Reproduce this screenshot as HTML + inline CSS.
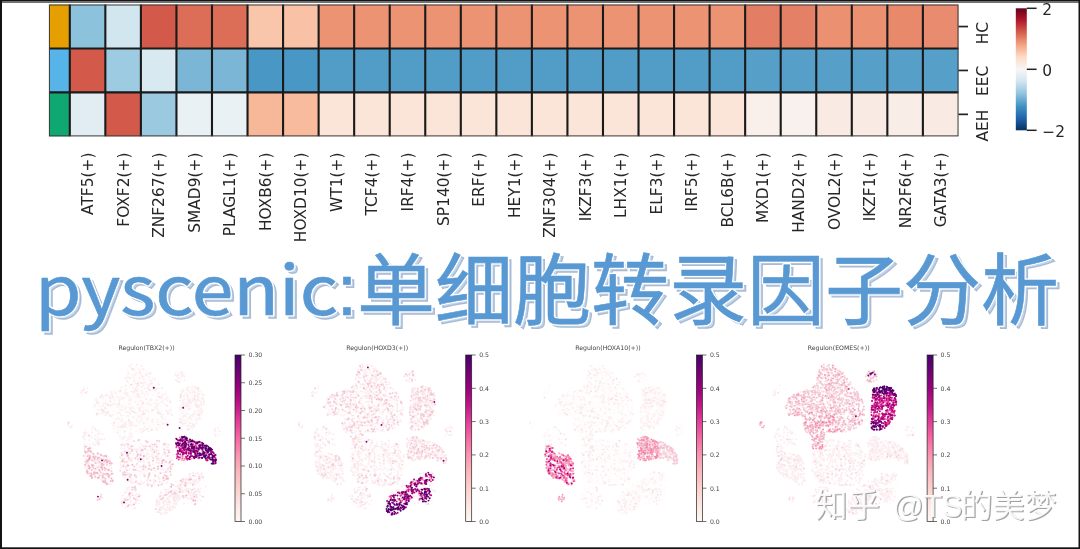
<!DOCTYPE html>
<html><head><meta charset="utf-8">
<style>
html,body{margin:0;padding:0;background:#fff;}
body{width:1080px;height:549px;position:relative;overflow:hidden;}
svg{position:absolute;left:0;top:0;}
.tk{font-family:"DejaVu Sans",sans-serif;font-size:15.4px;fill:#262626;}
.sm{font-family:"DejaVu Sans",sans-serif;font-size:6.2px;fill:#444;}
.frame{position:absolute;left:0;top:0;width:1076px;height:545px;border:2px solid #1a1a1a;}
</style></head><body>
<svg width="1080" height="549" viewBox="0 0 1080 549">
<defs><linearGradient id="cb" x1="0" y1="0" x2="0" y2="1"><stop offset="0.00" stop-color="#67001f"/><stop offset="0.10" stop-color="#b1182b"/><stop offset="0.20" stop-color="#d6604d"/><stop offset="0.30" stop-color="#f3a481"/><stop offset="0.40" stop-color="#fddbc7"/><stop offset="0.50" stop-color="#f7f6f6"/><stop offset="0.60" stop-color="#d1e5f0"/><stop offset="0.70" stop-color="#90c4dd"/><stop offset="0.80" stop-color="#4393c3"/><stop offset="0.90" stop-color="#2065ab"/><stop offset="1.00" stop-color="#053061"/></linearGradient></defs>
<rect x="49.0" y="4.60" width="20.80" height="43.90" fill="#e69f00"/>
<rect x="69.80" y="4.60" width="35.55" height="43.90" fill="#8dc2dc"/>
<rect x="105.34" y="4.60" width="35.55" height="43.90" fill="#d2e6f0"/>
<rect x="140.89" y="4.60" width="35.55" height="43.90" fill="#d35a4a"/>
<rect x="176.44" y="4.60" width="35.55" height="43.90" fill="#dc6e57"/>
<rect x="211.98" y="4.60" width="35.55" height="43.90" fill="#dc6e57"/>
<rect x="247.53" y="4.60" width="35.55" height="43.90" fill="#f9c6ac"/>
<rect x="283.07" y="4.60" width="35.55" height="43.90" fill="#f9c2a7"/>
<rect x="318.62" y="4.60" width="35.55" height="43.90" fill="#ec9374"/>
<rect x="354.16" y="4.60" width="35.55" height="43.90" fill="#ec9374"/>
<rect x="389.71" y="4.60" width="35.55" height="43.90" fill="#ec9374"/>
<rect x="425.25" y="4.60" width="35.55" height="43.90" fill="#ec9374"/>
<rect x="460.80" y="4.60" width="35.55" height="43.90" fill="#ec9374"/>
<rect x="496.34" y="4.60" width="35.55" height="43.90" fill="#ec9374"/>
<rect x="531.88" y="4.60" width="35.55" height="43.90" fill="#ec9374"/>
<rect x="567.43" y="4.60" width="35.55" height="43.90" fill="#ec9374"/>
<rect x="602.98" y="4.60" width="35.55" height="43.90" fill="#ec9374"/>
<rect x="638.52" y="4.60" width="35.55" height="43.90" fill="#ec9374"/>
<rect x="674.06" y="4.60" width="35.55" height="43.90" fill="#ec9374"/>
<rect x="709.61" y="4.60" width="35.55" height="43.90" fill="#ec9374"/>
<rect x="745.15" y="4.60" width="35.55" height="43.90" fill="#e37e64"/>
<rect x="780.70" y="4.60" width="35.55" height="43.90" fill="#e48066"/>
<rect x="816.25" y="4.60" width="35.55" height="43.90" fill="#eb9172"/>
<rect x="851.79" y="4.60" width="35.55" height="43.90" fill="#eb9172"/>
<rect x="887.34" y="4.60" width="35.55" height="43.90" fill="#e8896c"/>
<rect x="922.88" y="4.60" width="35.55" height="43.90" fill="#e98b6e"/>
<rect x="49.0" y="48.50" width="20.80" height="43.90" fill="#56b4e9"/>
<rect x="69.80" y="48.50" width="35.55" height="43.90" fill="#d35a4a"/>
<rect x="105.34" y="48.50" width="35.55" height="43.90" fill="#9dcbe1"/>
<rect x="140.89" y="48.50" width="35.55" height="43.90" fill="#d8e9f1"/>
<rect x="176.44" y="48.50" width="35.55" height="43.90" fill="#7bb6d6"/>
<rect x="211.98" y="48.50" width="35.55" height="43.90" fill="#7bb6d6"/>
<rect x="247.53" y="48.50" width="35.55" height="43.90" fill="#4997c5"/>
<rect x="283.07" y="48.50" width="35.55" height="43.90" fill="#4997c5"/>
<rect x="318.62" y="48.50" width="35.55" height="43.90" fill="#529dc8"/>
<rect x="354.16" y="48.50" width="35.55" height="43.90" fill="#529dc8"/>
<rect x="389.71" y="48.50" width="35.55" height="43.90" fill="#529dc8"/>
<rect x="425.25" y="48.50" width="35.55" height="43.90" fill="#529dc8"/>
<rect x="460.80" y="48.50" width="35.55" height="43.90" fill="#529dc8"/>
<rect x="496.34" y="48.50" width="35.55" height="43.90" fill="#529dc8"/>
<rect x="531.88" y="48.50" width="35.55" height="43.90" fill="#529dc8"/>
<rect x="567.43" y="48.50" width="35.55" height="43.90" fill="#529dc8"/>
<rect x="602.98" y="48.50" width="35.55" height="43.90" fill="#529dc8"/>
<rect x="638.52" y="48.50" width="35.55" height="43.90" fill="#529dc8"/>
<rect x="674.06" y="48.50" width="35.55" height="43.90" fill="#529dc8"/>
<rect x="709.61" y="48.50" width="35.55" height="43.90" fill="#529dc8"/>
<rect x="745.15" y="48.50" width="35.55" height="43.90" fill="#569fc9"/>
<rect x="780.70" y="48.50" width="35.55" height="43.90" fill="#569fc9"/>
<rect x="816.25" y="48.50" width="35.55" height="43.90" fill="#569fc9"/>
<rect x="851.79" y="48.50" width="35.55" height="43.90" fill="#569fc9"/>
<rect x="887.34" y="48.50" width="35.55" height="43.90" fill="#569fc9"/>
<rect x="922.88" y="48.50" width="35.55" height="43.90" fill="#569fc9"/>
<rect x="49.0" y="92.40" width="20.80" height="43.90" fill="#0fa870"/>
<rect x="69.80" y="92.40" width="35.55" height="43.90" fill="#e1edf3"/>
<rect x="105.34" y="92.40" width="35.55" height="43.90" fill="#d35a4a"/>
<rect x="140.89" y="92.40" width="35.55" height="43.90" fill="#9bc9e0"/>
<rect x="176.44" y="92.40" width="35.55" height="43.90" fill="#eaf1f5"/>
<rect x="211.98" y="92.40" width="35.55" height="43.90" fill="#eaf1f5"/>
<rect x="247.53" y="92.40" width="35.55" height="43.90" fill="#f7b799"/>
<rect x="283.07" y="92.40" width="35.55" height="43.90" fill="#f8bb9e"/>
<rect x="318.62" y="92.40" width="35.55" height="43.90" fill="#fbe5d8"/>
<rect x="354.16" y="92.40" width="35.55" height="43.90" fill="#fbe5d8"/>
<rect x="389.71" y="92.40" width="35.55" height="43.90" fill="#fbe5d8"/>
<rect x="425.25" y="92.40" width="35.55" height="43.90" fill="#fbe5d8"/>
<rect x="460.80" y="92.40" width="35.55" height="43.90" fill="#fbe5d8"/>
<rect x="496.34" y="92.40" width="35.55" height="43.90" fill="#fbe5d8"/>
<rect x="531.88" y="92.40" width="35.55" height="43.90" fill="#fbe5d8"/>
<rect x="567.43" y="92.40" width="35.55" height="43.90" fill="#fbe5d8"/>
<rect x="602.98" y="92.40" width="35.55" height="43.90" fill="#fbe5d8"/>
<rect x="638.52" y="92.40" width="35.55" height="43.90" fill="#fbe5d8"/>
<rect x="674.06" y="92.40" width="35.55" height="43.90" fill="#fbe5d8"/>
<rect x="709.61" y="92.40" width="35.55" height="43.90" fill="#fbe5d8"/>
<rect x="745.15" y="92.40" width="35.55" height="43.90" fill="#f9f0eb"/>
<rect x="780.70" y="92.40" width="35.55" height="43.90" fill="#f8f1ed"/>
<rect x="816.25" y="92.40" width="35.55" height="43.90" fill="#f9ebe3"/>
<rect x="851.79" y="92.40" width="35.55" height="43.90" fill="#f9ebe3"/>
<rect x="887.34" y="92.40" width="35.55" height="43.90" fill="#f9eee7"/>
<rect x="922.88" y="92.40" width="35.55" height="43.90" fill="#f9ebe3"/>
<path d="M69.80 4.6V136.30M105.34 4.6V136.30M140.89 4.6V136.30M176.44 4.6V136.30M211.98 4.6V136.30M247.53 4.6V136.30M283.07 4.6V136.30M318.62 4.6V136.30M354.16 4.6V136.30M389.71 4.6V136.30M425.25 4.6V136.30M460.80 4.6V136.30M496.34 4.6V136.30M531.88 4.6V136.30M567.43 4.6V136.30M602.98 4.6V136.30M638.52 4.6V136.30M674.06 4.6V136.30M709.61 4.6V136.30M745.15 4.6V136.30M780.70 4.6V136.30M816.25 4.6V136.30M851.79 4.6V136.30M887.34 4.6V136.30M922.88 4.6V136.30M49.0 48.50H958.42M49.0 92.40H958.42" stroke="#1a1a1a" stroke-width="2.1" fill="none"/>
<rect x="49.4" y="5.0" width="908.62" height="130.90" stroke="#3a3a3a" stroke-width="1" fill="none"/>
<line x1="958.42" y1="26.55" x2="968.02" y2="26.55" stroke="#222" stroke-width="1.7"/>
<text transform="translate(988.2 21.95) rotate(-90)" text-anchor="end" class="tk">HC</text>
<line x1="958.42" y1="70.45" x2="968.02" y2="70.45" stroke="#222" stroke-width="1.7"/>
<text transform="translate(988.2 65.85) rotate(-90)" text-anchor="end" class="tk">EEC</text>
<line x1="958.42" y1="114.35" x2="968.02" y2="114.35" stroke="#222" stroke-width="1.7"/>
<text transform="translate(988.2 109.75) rotate(-90)" text-anchor="end" class="tk">AEH</text>
<text transform="translate(93.07 152.6) rotate(-90)" text-anchor="end" class="tk">ATF5(+)</text>
<text transform="translate(128.62 152.6) rotate(-90)" text-anchor="end" class="tk">FOXF2(+)</text>
<text transform="translate(164.16 152.6) rotate(-90)" text-anchor="end" class="tk">ZNF267(+)</text>
<text transform="translate(199.71 152.6) rotate(-90)" text-anchor="end" class="tk">SMAD9(+)</text>
<text transform="translate(235.25 152.6) rotate(-90)" text-anchor="end" class="tk">PLAGL1(+)</text>
<text transform="translate(270.80 152.6) rotate(-90)" text-anchor="end" class="tk">HOXB6(+)</text>
<text transform="translate(306.34 152.6) rotate(-90)" text-anchor="end" class="tk">HOXD10(+)</text>
<text transform="translate(341.89 152.6) rotate(-90)" text-anchor="end" class="tk">WT1(+)</text>
<text transform="translate(377.43 152.6) rotate(-90)" text-anchor="end" class="tk">TCF4(+)</text>
<text transform="translate(412.98 152.6) rotate(-90)" text-anchor="end" class="tk">IRF4(+)</text>
<text transform="translate(448.52 152.6) rotate(-90)" text-anchor="end" class="tk">SP140(+)</text>
<text transform="translate(484.07 152.6) rotate(-90)" text-anchor="end" class="tk">ERF(+)</text>
<text transform="translate(519.61 152.6) rotate(-90)" text-anchor="end" class="tk">HEY1(+)</text>
<text transform="translate(555.16 152.6) rotate(-90)" text-anchor="end" class="tk">ZNF304(+)</text>
<text transform="translate(590.70 152.6) rotate(-90)" text-anchor="end" class="tk">IKZF3(+)</text>
<text transform="translate(626.25 152.6) rotate(-90)" text-anchor="end" class="tk">LHX1(+)</text>
<text transform="translate(661.79 152.6) rotate(-90)" text-anchor="end" class="tk">ELF3(+)</text>
<text transform="translate(697.34 152.6) rotate(-90)" text-anchor="end" class="tk">IRF5(+)</text>
<text transform="translate(732.88 152.6) rotate(-90)" text-anchor="end" class="tk">BCL6B(+)</text>
<text transform="translate(768.43 152.6) rotate(-90)" text-anchor="end" class="tk">MXD1(+)</text>
<text transform="translate(803.97 152.6) rotate(-90)" text-anchor="end" class="tk">HAND2(+)</text>
<text transform="translate(839.52 152.6) rotate(-90)" text-anchor="end" class="tk">OVOL2(+)</text>
<text transform="translate(875.06 152.6) rotate(-90)" text-anchor="end" class="tk">IKZF1(+)</text>
<text transform="translate(910.61 152.6) rotate(-90)" text-anchor="end" class="tk">NR2F6(+)</text>
<text transform="translate(946.15 152.6) rotate(-90)" text-anchor="end" class="tk">GATA3(+)</text>
<rect x="1015.8" y="8.3" width="11.0" height="122.0" fill="url(#cb)"/>
<line x1="1026.8" y1="8.30" x2="1036.60" y2="8.30" stroke="#222" stroke-width="1.5"/>
<text x="1042.3" y="15.10" class="tk">2</text>
<line x1="1026.8" y1="69.30" x2="1036.60" y2="69.30" stroke="#222" stroke-width="1.5"/>
<text x="1042.3" y="76.10" class="tk">0</text>
<line x1="1026.8" y1="130.30" x2="1036.60" y2="130.30" stroke="#222" stroke-width="1.5"/>
<text x="1042.3" y="137.10" class="tk">−2</text>
<g><defs><filter id="bl" x="-5%" y="-5%" width="110%" height="110%"><feGaussianBlur stdDeviation="0.45"/></filter></defs>
<g filter="url(#bl)"><g transform="translate(0.00 0) scale(0.2)" stroke-linecap="round" stroke-width="9.5" fill="none">
<path stroke="#fefafa" d="M974 2488h0M506 2348h0M806 2467h0M900 2006h0M684 1944h0M466 2035h0M741 1924h0M916 2060h0M687 2110h0M501 2330h0M682 1937h0M569 2140h0M823 2307h0M920 2424h0M916 2051h0M677 1846h0M987 2019h0M974 2489h0M722 2159h0M1015 1975h0M931 2050h0M751 2397h0M685 1876h0M917 1979h0M826 2118h0M548 2064h0M926 1965h0M961 2474h0M572 2053h0M493 2023h0M765 2273h0M730 1977h0M762 1911h0M742 2396h0M634 2491h0M704 2085h0M672 2413h0M733 2054h0M630 1901h0M426 2233h0M634 2038h0M806 2234h0M761 2058h0M623 2180h0M747 2086h0M678 2451h0M653 2043h0M708 2420h0M849 2475h0M868 1882h0M650 2042h0M621 2120h0M629 1894h0M739 1868h0M772 1898h0M819 2081h0M701 1906h0M690 2228h0M748 2123h0M691 2089h0M805 2127h0M929 2127h0M720 2237h0M497 2011h0M502 2488h0M947 2383h0M960 2482h0M673 1991h0M975 2447h0M851 2469h0M695 2376h0M732 2112h0M626 2376h0M533 2004h0M1013 2022h0M924 1975h0M963 1960h0M437 2175h0M880 2492h0M594 2068h0M996 2458h0M713 1987h0M802 2014h0M703 2303h0M629 1962h0M652 1989h0M449 2330h0M507 2046h0M694 2034h0M459 2194h0M766 2415h0M628 2516h0M891 1867h0M875 2537h0M617 2151h0M893 2448h0M907 1899h0M413 1975h0M618 2114h0M546 2296h0M511 1975h0M800 1967h0M971 2491h0M946 2392h0M674 2054h0M866 2544h0M569 1958h0M548 1997h0M685 2152h0M469 2301h0M999 2462h0M660 2163h0M896 2475h0M935 2039h0M802 2027h0M829 1977h0M915 2001h0M882 2471h0M519 2011h0M998 1956h0M738 2111h0M701 2120h0M755 2407h0M783 2507h0M967 2399h0M694 1991h0M810 2110h0M605 2143h0M827 1997h0M783 1925h0M718 2317h0M868 2495h0M913 2135h0M788 2107h0M688 2356h0M729 2221h0M686 2231h0M662 2091h0M693 2077h0M754 2091h0M935 2132h0M944 2499h0M644 1939h0M437 2184h0M655 2492h0M690 2067h0M541 2295h0M441 2299h0M909 2112h0M807 2261h0M898 1866h0M915 1972h0M941 2470h0M731 1858h0M941 2416h0M436 2335h0M640 1979h0M639 2145h0M498 2031h0M610 2202h0M545 2073h0M645 2355h0M841 2513h0M616 1964h0M836 1992h0M885 1883h0M482 2163h0M906 2431h0M739 2000h0M888 2477h0M1001 2023h0M628 2056h0M689 2478h0M995 2000h0M615 1973h0M567 2147h0M769 2019h0M968 2404h0M981 2073h0M636 2377h0M564 1990h0M695 2299h0M728 1916h0M1006 2024h0M904 2453h0M933 1982h0M652 2234h0M568 2003h0M1009 2060h0M710 2122h0M768 2250h0M849 2304h0M669 2114h0M713 2295h0M438 1927h0M637 1862h0M414 2177h0M749 2238h0M724 2133h0M834 2119h0M622 2308h0M735 2347h0M497 2168h0M1007 1974h0M988 2102h0M771 1998h0M445 2326h0M603 2134h0M446 2363h0M909 2466h0M611 1962h0M978 1967h0M771 2015h0M426 2150h0M1003 1950h0M472 2386h0M515 2363h0M610 2202h0M905 2134h0M707 2004h0M977 2048h0M760 2398h0M735 2118h0M840 2271h0M1015 1974h0M554 2016h0M874 2501h0M911 2085h0M818 2570h0M852 2107h0M653 1882h0M494 2160h0M832 2020h0M646 2384h0M829 1982h0M713 2101h0M836 2462h0M771 1939h0M993 1959h0M856 2461h0M821 2411h0M854 2016h0M524 1973h0M662 2347h0M477 2198h0M438 2252h0M924 2416h0M881 1876h0M729 2087h0M473 2352h0M971 2469h0M941 2454h0M989 2110h0M673 2383h0M652 2182h0M622 2010h0M705 2077h0M713 1946h0M1016 2398h0M534 2422h0M693 1985h0M798 2094h0M816 2547h0M663 2441h0M805 2110h0M689 1842h0M734 1871h0M842 2463h0M915 2132h0M989 2045h0M941 2132h0M750 1869h0M917 2084h0M599 2009h0M696 2041h0M608 2166h0M999 1965h0M622 2466h0M935 2068h0M540 2071h0M863 2471h0M941 2125h0M680 2344h0M716 2148h0M679 1925h0M928 2432h0M579 1961h0M464 2288h0M953 2460h0M419 2193h0M949 1993h0M531 2367h0M675 2450h0M636 2009h0M669 2512h0M831 2043h0M726 1865h0M679 1966h0M712 1843h0M547 2390h0M887 2492h0M644 2368h0M797 1969h0M713 2416h0M638 1848h0M906 1949h0M509 1982h0M725 2234h0M638 2337h0M665 2390h0M756 2208h0M444 2253h0M982 1942h0M706 2402h0M949 2472h0M872 2467h0M798 2004h0M791 2204h0M843 2331h0M640 2137h0M636 2215h0M978 2060h0M856 2492h0M628 2032h0M770 2248h0M719 1875h0M850 2070h0M813 2497h0M893 1868h0M651 2225h0M915 2115h0M1077 2178h0M789 2545h0M656 2058h0M1084 2159h0M985 2098h0M678 2334h0M684 2203h0M528 2073h0M972 1971h0M968 2022h0M615 2322h0M780 2555h0M556 1982h0M965 2121h0M706 1984h0M721 2042h0M783 2534h0M434 2144h0M693 2000h0M746 2271h0M762 1974h0M910 1856h0M647 1868h0M407 1975h0M832 2083h0M943 2457h0M601 2129h0M644 2232h0M591 2065h0M528 2308h0M649 2016h0M544 2293h0M606 2465h0M934 2111h0M1019 1981h0M963 1989h0M689 1866h0M921 2000h0M903 1888h0M633 2186h0M726 1850h0M411 1958h0M610 2497h0M562 1969h0M977 2023h0M981 2471h0M916 2450h0M891 1887h0M819 2121h0M810 1958h0M635 2274h0M806 2004h0M645 2165h0M636 2196h0M494 2059h0M498 2035h0M863 2487h0M958 2030h0M535 2043h0M721 1943h0M679 1921h0M841 2400h0M1002 2095h0M875 2514h0M932 2094h0M971 2448h0M654 2019h0M991 2468h0M508 2377h0M764 1887h0M1092 2177h0M971 1947h0M598 2147h0M630 1913h0M598 2112h0M700 2116h0M950 1939h0M601 1960h0M658 1853h0M655 2236h0M1011 2027h0M787 2552h0M755 1999h0M520 2072h0M725 1874h0M895 2412h0M661 1849h0M936 2405h0M592 2045h0M510 2173h0M609 1952h0M1000 1988h0M851 2348h0M824 2543h0M720 1967h0M607 2097h0M689 2055h0M535 1979h0M649 2085h0M1011 2451h0M423 2307h0M609 1986h0M957 1987h0M918 2418h0M640 1915h0M818 2558h0M884 1857h0M643 1909h0M643 1862h0M570 2159h0M975 2016h0M765 2319h0M990 1946h0M646 2089h0M816 2086h0M908 2131h0M937 2515h0M707 2088h0M951 2095h0M741 2233h0M995 2500h0M617 2506h0M965 2497h0M1096 2133h0M682 2154h0M632 2302h0M874 2520h0M623 2222h0M982 2381h0M724 2353h0M915 1876h0M808 2048h0M1009 2002h0M660 2019h0M588 2064h0M895 1894h0M817 2389h0M504 2359h0M799 1937h0M774 2268h0M727 2402h0M516 2357h0M723 2409h0M831 2100h0M673 2239h0M777 2132h0M709 2262h0M993 2065h0M903 1863h0M609 1933h0M972 1934h0M620 2193h0M925 2117h0M834 2377h0M623 2493h0M980 2443h0M624 1899h0M626 2036h0M816 2115h0M921 2415h0M416 1966h0M802 1997h0M1093 2177h0M796 2389h0M738 2063h0M830 2085h0M940 1961h0M655 2277h0M938 2070h0M1016 1995h0M801 2422h0M766 2122h0M803 2020h0M466 2370h0M606 2301h0M642 1966h0M482 1995h0M766 2017h0M527 2075h0M635 1857h0M731 2038h0M939 2056h0M614 2337h0M836 2237h0M672 2364h0M603 2185h0M865 2496h0M623 2192h0M945 2110h0M954 1935h0M940 2137h0M830 2520h0M503 2010h0M943 2369h0M967 1966h0M850 2002h0M727 2116h0M725 1898h0M982 1996h0M560 1996h0M507 2061h0M637 2201h0M911 2134h0M704 2215h0M630 2361h0M452 2295h0M779 1981h0M880 2501h0M522 2295h0M771 1978h0M617 2091h0M695 1907h0M576 2020h0M511 2220h0M659 2364h0M623 2239h0M855 2041h0M843 2525h0M861 2484h0M735 2396h0M704 2201h0M670 2112h0M794 2483h0M897 2452h0M990 1977h0M791 1970h0M604 2494h0M1087 2138h0M804 2574h0M453 2258h0M745 2013h0M808 2059h0M482 2316h0M490 2010h0M914 1882h0M486 2494h0M785 2344h0M753 2318h0M790 2420h0M928 1972h0M925 2444h0M721 2426h0M818 2479h0M754 2154h0M653 2534h0M652 2241h0M919 1977h0M995 2087h0M618 2119h0M626 2260h0M839 2542h0M933 2017h0M460 2211h0M507 1988h0M808 2128h0M978 2377h0M840 2058h0M445 2244h0M634 1982h0M988 2028h0M525 1974h0M972 1949h0M837 2287h0M766 2244h0M613 2078h0M911 2454h0M582 2149h0M751 2207h0M884 2437h0M742 2146h0M922 2445h0M690 2017h0M912 1942h0M997 1974h0M731 2226h0M705 1930h0M848 2100h0M756 2150h0M752 2010h0M666 1859h0M684 2025h0M927 2116h0M733 1978h0M961 2508h0M615 2058h0M721 1917h0M511 2339h0M698 2223h0M805 2042h0M411 1973h0M688 1920h0M1010 2069h0M861 2304h0M785 2383h0M719 1960h0M908 2109h0M788 2347h0M500 2215h0M591 2095h0M954 1934h0M987 2083h0M876 1901h0M661 1939h0M634 2448h0M802 2071h0M990 2016h0M532 2314h0M1107 2166h0M969 2096h0M676 2411h0M907 2118h0M725 2153h0M890 2506h0M980 2105h0M970 1967h0M753 1883h0M676 2078h0M761 2114h0M503 2296h0M888 2480h0M974 1976h0M523 2021h0M921 2032h0M702 1937h0M673 1845h0M645 2272h0M755 1990h0M652 2209h0M672 1853h0M704 2160h0M1001 2051h0M829 2473h0M968 2127h0M748 1955h0M702 1936h0M1019 1981h0M928 2098h0M720 2028h0M738 2250h0M614 2207h0M690 1907h0M811 2500h0M952 2086h0M984 1946h0M668 1892h0M929 2043h0M481 2391h0M600 2028h0M703 1827h0M439 2370h0M823 2230h0M715 1858h0M972 1956h0M825 2329h0M889 2481h0M564 2082h0M674 2125h0M613 2109h0M990 1951h0M923 1872h0M546 2324h0M661 1835h0M739 1970h0M461 2213h0M969 1993h0M348 2112h0M956 2418h0M754 2113h0M653 2111h0M766 2252h0M693 2025h0M796 2111h0M693 2038h0M627 2225h0M978 1950h0M622 2129h0M545 1977h0M995 2002h0M643 2176h0M569 1958h0M1104 2176h0M974 2013h0M643 1908h0M968 1966h0M647 2156h0M734 1855h0M745 2343h0M904 2482h0M976 2461h0M705 2056h0M708 2014h0M973 2052h0M902 2131h0M495 2014h0M585 1962h0M918 2492h0M880 2429h0M823 2501h0M962 2081h0M616 2000h0M956 1947h0M498 2368h0M691 2282h0M484 2004h0M421 2211h0M940 2026h0M817 2481h0M951 2484h0M721 2270h0M977 2005h0M1075 2136h0M445 2326h0M619 2129h0M656 2368h0M712 1975h0M818 2069h0M725 2015h0M625 2151h0M625 2383h0M936 2501h0M591 2154h0M704 2223h0M839 2252h0M782 2339h0M678 2207h0M996 2039h0M664 1982h0M889 1907h0M818 2229h0M634 2306h0M871 2490h0M946 1989h0M640 1864h0M822 1978h0M735 2045h0M705 2257h0M579 2100h0M978 2122h0M603 2039h0M863 2336h0M814 2050h0M710 1949h0M730 1897h0M633 2408h0M720 2107h0M903 2050h0M1020 2022h0M431 2206h0M787 2149h0M619 2163h0M634 2325h0M690 2198h0M896 2118h0M912 2148h0M342 2124h0M792 1986h0M810 2510h0M772 1953h0M719 2152h0M660 2055h0M983 1952h0M904 2440h0M922 1940h0M983 1978h0M582 2048h0M884 1907h0M653 1925h0M607 2087h0M991 1958h0M960 2071h0M479 2144h0M748 1925h0M921 2040h0M888 2448h0M733 2010h0M801 2059h0M843 2320h0M742 2129h0M777 2403h0M502 1984h0M606 2342h0M553 2036h0M685 2251h0M910 2060h0M792 2141h0M969 2476h0M844 2086h0M633 2394h0M612 2079h0M683 2110h0M470 2137h0M956 1990h0M697 1859h0M988 1998h0M905 2109h0M660 2106h0M925 2011h0M760 1954h0M1002 1954h0M710 2013h0M784 2419h0M686 2485h0M650 2401h0M888 2488h0M614 2021h0M720 2289h0M848 1997h0M578 2131h0M587 1987h0M679 2125h0M904 1973h0M652 2224h0M534 2054h0M717 2067h0M700 2282h0M794 2544h0M951 2005h0M830 1988h0M832 2314h0M992 2095h0M808 2364h0M597 2156h0M641 2125h0M780 1999h0M499 2383h0M816 2240h0M834 2233h0M628 2022h0M930 1986h0M663 2032h0M964 1943h0M891 2490h0M522 2404h0M969 1986h0M454 2323h0M674 1833h0M899 2428h0M946 2402h0M502 2396h0M915 1992h0M632 1930h0M748 1987h0M947 2451h0M881 1878h0M991 1942h0M432 2280h0M909 1942h0M905 2085h0M972 2451h0M527 2004h0M623 2334h0M832 2540h0M859 2075h0M980 2084h0M638 2089h0M1014 2077h0M533 2009h0M619 2117h0M786 2046h0M706 2145h0M817 2484h0M676 2333h0M845 2102h0M553 1987h0M784 2348h0M732 2063h0M577 2061h0M593 2057h0M638 2086h0M956 2135h0M641 1873h0M706 2011h0M667 1936h0M574 2138h0M721 2088h0M630 2053h0M860 2535h0M540 2384h0M812 2087h0M703 2009h0M907 1958h0M626 2182h0M531 1963h0M802 2327h0M748 2425h0M967 2120h0M598 2480h0M820 2139h0M662 2172h0M502 2372h0M618 1943h0M579 1960h0M796 2371h0M490 2017h0M469 2370h0M899 2038h0M655 2161h0M597 2043h0M493 2006h0M860 2302h0M926 2014h0M635 1851h0M1076 2147h0M762 1877h0M501 2385h0M679 2449h0M656 2508h0M877 2470h0M947 2463h0M945 2041h0M1008 2033h0M525 2286h0M606 2152h0M688 1925h0M809 2564h0M705 1995h0M684 2074h0M498 1984h0M738 1950h0M615 1953h0M458 2260h0M524 2341h0M678 2455h0M739 2279h0M701 1959h0M908 1908h0M614 2258h0M1000 2005h0M903 2435h0M810 2091h0M657 2044h0M627 2043h0M907 2466h0M1018 2002h0M1003 2078h0M809 2565h0M636 2114h0M558 2388h0M935 2085h0M818 2101h0M701 2380h0M644 2385h0M721 1983h0M919 1984h0M999 2095h0M905 1991h0M990 2049h0M630 2380h0M948 2047h0M703 1980h0M585 2023h0M427 2147h0M473 2209h0M475 2358h0M706 2038h0M550 2024h0M649 2528h0M628 2024h0M469 2363h0M958 2449h0M939 2011h0M675 1904h0M959 2071h0M488 2488h0M945 2024h0M629 2215h0M1017 1977h0M736 2147h0M657 2177h0M765 2137h0M595 2123h0M790 2517h0M432 2353h0M588 2100h0M500 2272h0M836 2372h0M739 1895h0M590 2094h0M1068 2150h0M953 2033h0M809 2500h0M750 2001h0M623 2257h0M818 2474h0M518 2065h0M626 2114h0M732 1977h0M638 1879h0M615 2228h0M492 2166h0M760 2299h0M750 2063h0M811 2548h0M736 1858h0M850 2102h0M828 1986h0M920 1979h0M548 2355h0M948 1958h0M844 2466h0M692 2155h0M1014 2386h0M735 2001h0M980 2031h0M497 2340h0M467 2304h0M771 2293h0M954 1955h0M860 2458h0M833 2036h0M1018 2010h0M906 2030h0M954 1942h0M1078 2134h0M928 2482h0M1002 2375h0M831 2475h0M675 1981h0M670 2070h0M847 2284h0M612 2287h0M634 1879h0M615 2048h0M564 2054h0M912 1945h0M636 2244h0M623 2079h0M911 2050h0M682 1949h0M483 2328h0M928 2049h0M835 2005h0M629 2059h0M1006 2058h0M702 2127h0M711 2031h0M451 2274h0M677 2091h0M715 2054h0M871 2461h0M770 2331h0M630 1873h0M652 2234h0M514 2299h0M696 1950h0M678 1881h0M840 2457h0M563 2113h0M728 1898h0M502 2164h0M606 2494h0M646 2240h0M560 2123h0M739 2083h0M800 2059h0M730 2259h0M527 2070h0M668 1926h0M802 2104h0M701 2100h0M954 1944h0M976 2005h0M626 2185h0M959 2027h0M624 1918h0M800 1939h0M624 1989h0M843 2517h0M701 1984h0M578 2099h0M834 2371h0M649 2386h0M649 1936h0M634 2285h0M565 1992h0M645 2054h0M942 2015h0M725 2103h0M1002 2076h0M768 2370h0M785 2007h0M736 1851h0M751 1956h0M684 2092h0M993 1988h0M534 2359h0M633 2214h0M923 2147h0M657 2023h0M899 2029h0M448 2176h0M633 1972h0M722 2314h0M778 2016h0M822 2076h0M772 2039h0M602 2234h0M821 2220h0M648 2065h0M934 2037h0M793 2295h0M988 2021h0M936 2103h0M610 2218h0M705 1985h0M695 1901h0M911 2019h0M986 1991h0M488 2328h0M924 1964h0M850 2507h0M714 2029h0M804 2281h0M656 2110h0M972 1946h0M559 1961h0M741 2083h0M797 2091h0M697 1850h0M663 2234h0M598 2177h0M912 1875h0M943 2099h0M921 1897h0M978 2113h0M897 2137h0M904 2488h0M1019 2024h0M561 2009h0M791 1911h0M940 2443h0M853 2261h0M706 2213h0M579 2136h0M566 2405h0M743 1997h0M637 2343h0M667 1877h0M915 2049h0M570 1958h0M915 2056h0M727 1996h0M525 2299h0M676 2275h0M685 1944h0M686 1938h0M518 2008h0M601 2001h0M978 2002h0M969 2053h0M808 2537h0M641 2191h0M487 1991h0M452 2280h0M599 1998h0M824 2004h0M634 2459h0M977 2115h0M675 1855h0M704 2083h0M957 2388h0M601 2350h0M713 2013h0M772 2545h0M475 2039h0M568 2059h0M789 2049h0M999 2399h0M749 1994h0M494 2284h0M735 2101h0M1021 2008h0M463 2281h0M748 1961h0M976 2112h0M845 1995h0M950 2089h0M839 2320h0M984 2068h0M528 1998h0M910 1960h0M956 2116h0M1019 1997h0M978 2404h0M549 2005h0M614 2028h0M532 1971h0M678 2333h0M690 1965h0M559 2007h0M699 1868h0M648 2127h0M828 1965h0M640 2320h0M957 2090h0M621 2027h0M609 2480h0M746 2000h0M898 2478h0M634 2109h0M802 2490h0M906 1889h0M817 2505h0M548 1978h0M974 2114h0M958 2417h0M543 2017h0M654 1976h0M672 2079h0M432 2220h0M890 2278h0M937 1991h0M659 1888h0M905 2088h0M509 1986h0M625 2032h0M954 2448h0M695 1946h0M571 2097h0M766 2366h0M923 1948h0M555 2076h0M584 2156h0M919 2032h0M807 2512h0M784 2276h0M594 2148h0M622 1927h0M419 2272h0M722 2361h0M635 2502h0M736 1926h0M997 1952h0M987 2073h0M672 1978h0M804 2096h0M974 2460h0M448 2372h0M761 2215h0M727 1961h0M733 1940h0M585 2010h0M904 2445h0M919 2112h0M760 2029h0M794 2139h0M988 2520h0M912 2036h0M996 2374h0M744 2071h0M657 2058h0M632 2139h0M778 2000h0M978 2053h0M722 2379h0M675 2215h0M800 2394h0M906 2487h0M576 1984h0M559 2048h0M651 2001h0M861 2502h0M694 2520h0M929 1973h0M946 2096h0M904 1988h0M983 2444h0M782 2143h0M972 2028h0M949 2036h0M685 2342h0M802 2425h0M686 1837h0M632 2514h0M641 2012h0M660 2486h0M911 1988h0M567 1967h0M731 2230h0M622 2228h0M1097 2125h0M745 1960h0M767 1931h0M726 2085h0M909 1976h0M876 2463h0M533 2024h0M649 2036h0M978 2027h0M568 2042h0M356 2137h0M906 2448h0M988 2484h0M784 1921h0M961 1939h0M906 2079h0M569 2110h0M709 1999h0M962 1975h0M522 2065h0M696 1915h0M802 2124h0M777 2404h0M515 1985h0M815 2366h0M980 2103h0M777 2092h0M548 2414h0M864 2308h0M709 2355h0M920 1980h0M756 1995h0M919 2126h0M904 1953h0M567 2149h0M930 1964h0M965 2010h0M642 1860h0M508 1997h0M649 1920h0M779 2000h0M742 2249h0M986 1997h0M919 2113h0M513 2077h0M911 2407h0M681 1889h0M978 2100h0M850 2059h0M440 2230h0M780 2427h0M1008 1976h0M648 1870h0M1001 2407h0M980 2487h0M786 2264h0M627 2104h0M815 2476h0M855 2334h0M762 1925h0M665 1909h0M815 2501h0M915 2080h0M615 2370h0M719 2046h0M687 1823h0M707 2108h0M517 2007h0M546 1977h0M695 2217h0M541 2285h0M772 2215h0M614 1989h0M647 2051h0M577 2162h0M502 2507h0M964 2109h0M974 1993h0M779 1923h0M924 1992h0M494 2294h0M790 2494h0M861 2302h0M718 2040h0M984 2118h0M626 2009h0M627 2174h0M771 2051h0M463 2135h0M959 2451h0M899 2040h0M828 2003h0M924 2045h0M603 2072h0M944 2095h0M692 1848h0M726 2247h0M819 2491h0M644 2007h0M939 1964h0M813 1978h0M558 1989h0M736 2275h0M594 1953h0M661 2413h0M670 2470h0M678 2387h0M489 2016h0M621 2339h0M985 1962h0M827 2537h0M476 2198h0M559 2343h0M567 2092h0M838 2075h0M1004 1973h0M527 2045h0M482 2380h0M500 2023h0M655 2010h0M805 2266h0M818 2265h0M543 2320h0M443 2181h0M818 1999h0M916 2044h0M930 1964h0M838 2110h0M632 2318h0M489 2197h0M766 1977h0M932 1957h0M506 2492h0M1004 1969h0M678 1980h0M717 2134h0M674 2159h0M700 2394h0M1022 2374h0M523 2395h0M774 2012h0M680 2443h0M643 2173h0M643 2245h0M629 2534h0M643 2267h0M729 2034h0M633 2108h0M969 1949h0M716 1855h0M687 2008h0M478 2012h0M647 2470h0M505 1973h0M434 2347h0M794 2238h0M650 1871h0M973 2055h0M773 2263h0M944 2128h0M736 1921h0M470 2042h0M955 2088h0M775 2270h0M817 2388h0M816 2498h0M744 2295h0M806 2395h0M647 2499h0M491 1996h0M879 1864h0M947 2369h0M817 1995h0M1015 1967h0M626 1927h0M819 1967h0M525 2288h0M1014 2361h0M591 2127h0M781 2040h0M906 2049h0M919 1998h0M803 2478h0M958 2005h0M691 1845h0M708 2390h0M503 2161h0M951 2368h0M651 2517h0M589 2130h0M540 2298h0M425 2205h0M968 2375h0M652 1850h0M645 2018h0M436 2220h0M833 2521h0M731 2122h0M912 2021h0M762 2014h0M636 2129h0M708 2334h0M830 2475h0M836 2493h0M671 1949h0M509 2273h0M584 1965h0M897 2452h0M972 2461h0M511 2390h0M860 2487h0M905 2033h0M664 1875h0M810 2033h0M671 2129h0M706 2098h0M767 2159h0M955 2076h0M617 2452h0M652 2415h0M829 2543h0M660 2086h0M677 2453h0M509 2028h0M681 2333h0M490 2031h0M632 2400h0M845 2392h0M682 2369h0M745 2384h0M582 2144h0M944 2015h0M851 2066h0M609 2037h0M897 2075h0M624 2194h0M738 2029h0M678 2017h0M830 2096h0M861 2048h0M995 2491h0M530 2389h0M591 2114h0M744 1933h0M972 2059h0M604 2161h0M644 2108h0M807 2028h0M855 2070h0M981 2021h0M959 1982h0M869 2286h0M871 2451h0M639 2037h0M1005 2021h0M576 2059h0M424 2265h0M1004 2038h0M851 2260h0M645 2543h0M660 2198h0M888 2456h0M841 2533h0M912 1997h0M958 2096h0M935 2000h0M761 2216h0M694 2286h0M731 2230h0M1002 2087h0M908 2093h0M951 2476h0M645 2512h0M947 2094h0M834 2294h0M991 1949h0M952 1964h0M583 2070h0M601 2124h0M649 2080h0M424 2256h0M740 2092h0M666 2063h0M460 2284h0M677 1879h0M653 2512h0M792 2107h0M640 2235h0M880 2491h0M594 1957h0M694 2266h0M654 2221h0M565 2142h0M863 2531h0M772 2413h0M811 2074h0M782 2233h0M1003 2058h0M902 2483h0M1013 2078h0M642 2207h0M579 2035h0M926 2064h0M812 1946h0M910 2128h0M613 1930h0M676 1904h0M619 2139h0M801 2349h0M457 2187h0M666 2252h0M790 2355h0M977 2071h0M531 2312h0M773 1971h0M690 2358h0M490 2391h0M591 2043h0M957 2072h0M854 2475h0M738 2408h0M503 2013h0M711 1918h0M762 1916h0M601 1972h0M855 2526h0M571 2012h0M619 2446h0M924 2149h0M651 2317h0M628 2157h0M574 1950h0M616 1938h0M970 2417h0M1101 2173h0M1007 1954h0M654 2276h0M433 2339h0M859 2032h0M514 2388h0M949 2486h0M925 2060h0M467 2356h0M717 1884h0M702 2228h0M932 2000h0M948 2385h0M728 2125h0M774 1981h0M582 2024h0M637 2038h0M982 2522h0M934 2076h0M897 2049h0M915 2416h0M713 1936h0M970 2028h0M780 2082h0M787 2133h0M911 1946h0M518 2056h0M766 2020h0M791 2060h0M993 2387h0M764 1969h0M762 2103h0M679 2209h0M723 1845h0M690 2106h0M746 1908h0M978 2090h0M794 2221h0M963 1946h0M741 2047h0M992 2455h0M904 2422h0M773 2354h0M675 1852h0M705 1893h0M612 2360h0M754 2125h0M889 2449h0M877 2492h0M931 2453h0M971 2121h0M939 1957h0M492 2313h0M767 2118h0M798 2530h0M915 2027h0M795 2103h0M453 2350h0M691 1922h0M689 2157h0M779 2377h0M972 1943h0M672 2237h0M599 2151h0M931 2403h0M985 2120h0M582 1987h0M939 2044h0M672 2086h0M838 2369h0M1002 2027h0M726 1886h0M788 2150h0M446 2326h0M575 2140h0M465 2380h0M514 2341h0M781 2121h0M643 2234h0M925 2083h0M584 1980h0M934 2413h0M560 2129h0M960 1933h0M628 2040h0M668 2088h0M1020 2452h0M704 1839h0M739 1995h0M766 2314h0M727 1884h0M796 2056h0M512 2496h0M744 2100h0M948 2007h0M491 2287h0M985 2407h0M761 2275h0M732 1903h0M739 2024h0M1003 1999h0M987 1969h0M716 1846h0M997 1993h0M777 2231h0M883 1876h0M677 1967h0M864 2284h0M793 2275h0M990 2073h0M654 2194h0M761 2108h0M982 2099h0M766 1894h0M996 2426h0M815 2499h0M920 2134h0M968 2113h0M638 2214h0M825 1959h0M728 1935h0M821 1982h0M888 1870h0M732 2040h0M951 2070h0M432 2151h0M589 2128h0M597 2141h0M782 2517h0M649 1838h0M481 2289h0M800 1990h0M943 2098h0M939 2106h0M600 2198h0M812 2515h0M639 2408h0M828 2328h0M1013 1990h0M808 2266h0M620 2491h0M652 2057h0M762 2061h0M906 1950h0M737 1982h0M896 2061h0M576 2035h0M983 2118h0M700 2369h0M932 1975h0M673 2112h0M442 2201h0M530 2011h0M736 1991h0M684 2092h0M978 2392h0M960 1991h0M503 2499h0M683 2390h0M827 1992h0M652 2346h0M408 1978h0M797 2030h0M925 2030h0M710 2248h0M562 1957h0M585 1953h0M802 2304h0M901 2144h0M524 2046h0M707 1968h0M416 1988h0M642 2090h0M695 2157h0M1005 2383h0M628 1937h0M783 2249h0M527 2027h0M773 1958h0M1019 2459h0M890 1899h0M702 2329h0M987 2487h0M975 2374h0M599 2035h0M718 1874h0M540 2319h0M972 2448h0M637 2488h0M937 2010h0M782 2146h0M530 2380h0M683 2129h0M543 1960h0M941 2145h0M687 2207h0M1089 2142h0M474 2372h0M1013 2054h0M757 2218h0M799 2133h0M635 2241h0M583 1971h0M683 1990h0M777 2010h0M901 2093h0M963 2095h0M564 1980h0M652 2497h0M951 2470h0M770 2124h0M653 2326h0M740 2033h0M716 2298h0M836 2111h0M933 2085h0M689 1932h0M644 2001h0M682 1827h0M750 2090h0M524 2010h0M708 1877h0M600 2019h0M809 2142h0M667 1884h0M687 2403h0M999 2050h0M801 2308h0M649 2243h0M980 2054h0M956 2480h0M659 2035h0M751 1967h0M831 2500h0M1106 2159h0M541 2049h0M913 1960h0M577 2017h0M639 2109h0M924 2018h0M957 1944h0M702 2114h0M709 2202h0M501 2070h0M736 2051h0M713 1990h0M641 2080h0M492 2335h0M671 2447h0M935 2036h0M603 2054h0M1014 2013h0M607 2201h0M778 1965h0M600 1979h0M739 1874h0M658 2400h0M558 2041h0M962 1954h0M980 2459h0M735 2390h0M985 2116h0M619 2232h0M803 2319h0M618 2035h0M690 2120h0M621 2069h0M951 2461h0M817 2497h0M857 2504h0M523 1995h0M447 2354h0M982 2064h0M775 2217h0M483 2183h0M959 2390h0M948 1997h0M924 1994h0M698 1926h0M677 2384h0M835 2004h0M942 2003h0M876 1871h0M686 2158h0M709 2248h0M907 1961h0M621 2208h0M1089 2173h0M796 2048h0M840 2542h0M1024 2405h0M977 2369h0M759 2119h0M799 2500h0M678 2223h0M602 1938h0M698 1891h0M515 2385h0M529 1977h0M841 2291h0M866 2461h0M908 1948h0M419 1964h0M1007 2005h0M668 1943h0M920 2421h0M687 2108h0M788 2557h0M1005 2013h0M901 2028h0M444 2270h0M492 1997h0M614 1956h0M636 2082h0M565 2120h0M558 2116h0M537 2327h0M485 2075h0M882 2496h0M849 2479h0M774 1933h0M723 2059h0M576 2128h0M827 2525h0M680 2479h0M860 2535h0M1105 2139h0M772 2401h0M783 2348h0M976 2411h0M805 2339h0M641 1886h0M735 2099h0M649 1956h0M1010 2400h0M820 2363h0M914 1872h0M608 2019h0M968 1960h0M821 2555h0M709 2089h0M643 1916h0M694 2471h0M833 2020h0M965 1962h0M684 2087h0M617 2023h0M669 2064h0M902 2096h0M786 2557h0M996 1940h0M758 2062h0M683 2071h0M868 2489h0M597 1993h0M696 2055h0M748 2153h0M946 2110h0M591 2171h0M751 2421h0M490 2266h0M914 1981h0M683 1878h0M982 2108h0M639 2022h0M851 2073h0M925 1940h0M947 1977h0M603 2100h0M678 2036h0M978 2401h0M959 2090h0M834 2052h0M940 1938h0M575 2021h0M729 1909h0M717 1876h0M848 2504h0M770 2005h0M807 2081h0M642 2378h0M746 1996h0M980 2036h0M768 2300h0M837 2333h0M922 2024h0M591 2007h0M643 2209h0M818 2075h0M436 2181h0M521 2226h0M737 2052h0M796 2524h0M781 2134h0M968 2067h0M672 2400h0M707 2012h0M702 1913h0M814 2306h0M615 1964h0M500 2022h0M621 2044h0M706 2306h0M769 1938h0M1002 2016h0M721 1988h0M1008 2025h0M657 1839h0M940 1995h0M762 2427h0M889 1902h0M973 2420h0M752 2043h0M685 1850h0M720 2373h0M904 2428h0M710 2405h0M526 1992h0M988 2071h0M648 2504h0M742 1860h0M625 2056h0M949 2026h0M791 2148h0M745 2297h0M691 2144h0M492 2313h0M1004 2361h0M810 1964h0M530 2062h0M840 2067h0M828 2506h0M934 2105h0M669 2469h0M997 2044h0M641 2281h0M992 2092h0M1001 1963h0M734 2355h0M925 2023h0M919 1956h0M705 2313h0M483 2000h0M959 1970h0M953 2018h0M1018 2381h0M640 2125h0M668 1978h0M523 2329h0M835 2469h0M698 1974h0M667 2352h0M991 2497h0M898 2039h0M775 1909h0M920 2104h0M432 2168h0M873 2451h0M867 2467h0M812 2103h0M760 1916h0M781 2123h0M761 2071h0M937 2123h0M715 2382h0M611 2093h0M803 2018h0M751 1940h0M460 2387h0M479 2164h0M788 2020h0M1007 1970h0M752 2159h0M996 2474h0M933 2450h0M670 1923h0M772 2022h0M951 2066h0M849 2513h0M682 1898h0M519 2349h0M986 1964h0M452 2338h0M907 2114h0M690 2123h0M706 2272h0M992 1940h0M472 2350h0M510 2296h0M847 2340h0M916 2481h0M933 2096h0M635 2484h0M597 2039h0M772 2423h0M729 1874h0M909 2071h0M687 2149h0M636 1952h0M968 2445h0M584 2135h0M836 2108h0M849 2351h0M757 2221h0M993 2400h0M813 2465h0M913 2027h0M586 2033h0M728 2142h0M914 2448h0M662 2115h0M570 2118h0M638 2184h0M432 2142h0M991 1951h0M1001 2381h0M642 2407h0M919 2033h0M899 2416h0M673 1868h0M785 2514h0M670 1932h0M981 1987h0M802 2497h0M719 2296h0M632 1942h0M980 2053h0M493 2346h0M682 2482h0M950 2033h0M561 2037h0M520 1990h0"/>
<path stroke="#fbecf0" d="M429 1964h0M629 2537h0M651 2001h0M574 2000h0M788 2514h0M927 2450h0M548 1989h0M794 1963h0M627 2346h0M719 2111h0M765 2097h0M730 1996h0M809 2344h0M458 2372h0M632 2219h0M591 2034h0M693 1918h0M723 2371h0M928 2080h0M945 2009h0M649 2036h0M791 2514h0M739 2097h0M692 2202h0M717 2146h0M655 2247h0M646 2000h0M920 2015h0M820 2500h0M889 2474h0M919 2043h0M952 2082h0M611 2292h0M484 2008h0M896 1892h0M912 1960h0M792 2509h0M737 2020h0M782 2150h0M647 2184h0M772 2038h0M712 2074h0M794 2300h0M760 1916h0M675 2516h0M841 2544h0M483 2068h0M954 2130h0M879 2431h0M567 2074h0M851 2316h0M707 2072h0M686 1953h0M668 1888h0M899 2094h0M785 2043h0M766 1945h0M898 2405h0M993 1971h0M698 1979h0M893 2483h0M1007 2014h0M821 2363h0M934 2444h0M1078 2173h0M635 2202h0M986 2453h0M828 2506h0M913 1954h0M696 1890h0M647 2062h0M811 2480h0M690 2309h0M655 2147h0M738 1923h0M670 1963h0M910 1875h0M690 2040h0M822 2252h0M993 2464h0M547 2344h0M642 2305h0M943 2045h0M471 2281h0M762 2348h0M937 2445h0M628 2222h0M860 2073h0M666 1941h0M741 2294h0M668 2489h0M630 2033h0M754 2025h0M500 2318h0M813 2007h0M1006 2022h0M615 2194h0M733 1870h0M958 2455h0M743 2312h0M585 2068h0M644 1982h0M999 1955h0M934 1971h0M590 2164h0M883 1879h0M627 2045h0M798 1990h0M922 1883h0M962 2119h0M913 2399h0M659 1845h0M430 2332h0M1019 1974h0M629 1929h0M697 2084h0M714 2055h0M604 2135h0M629 2120h0M523 2317h0M794 1921h0M687 2483h0M819 2526h0M1077 2180h0M933 2026h0M415 2187h0M742 2055h0M492 2070h0M820 2118h0M701 1863h0M976 2473h0M617 2125h0M718 1897h0M869 2482h0M775 1954h0M804 2067h0M955 2465h0M507 1973h0M878 2481h0M831 1970h0M936 2027h0M627 2127h0M512 2326h0M938 1952h0M510 1974h0M977 1937h0M528 2063h0M719 1926h0M965 2468h0M916 2012h0M461 2294h0M830 2508h0M816 2402h0M641 1866h0M639 2079h0M614 2505h0M661 2296h0M683 2101h0M733 2286h0M765 1941h0M944 2004h0M786 2063h0M497 2330h0M521 2057h0M940 2127h0M537 1976h0M737 2254h0M949 2115h0M647 1891h0M518 2017h0M677 1914h0M520 2320h0M712 2156h0M935 2069h0M998 2003h0M483 2005h0M896 2434h0M729 2053h0M1000 2072h0M961 1931h0M637 2438h0M951 2134h0M759 1900h0M910 2064h0M746 2311h0M646 2116h0M440 2323h0M911 2039h0M498 2339h0M679 1940h0M692 2501h0M852 2067h0M910 2148h0M987 1977h0M980 2027h0M652 2043h0M966 2081h0M786 2235h0M835 2468h0M505 2276h0M423 2195h0M709 2024h0M956 2097h0M708 2162h0M840 2397h0M704 2504h0M804 2463h0M722 2068h0M621 2298h0M785 2529h0M774 1895h0M985 2028h0M658 2175h0M955 2131h0M943 2091h0M665 2038h0M685 2502h0M964 2004h0M645 2196h0M715 2009h0M704 2338h0M900 2003h0M1000 2096h0M668 1844h0M659 2055h0M833 2057h0M811 2074h0M603 2267h0M841 2314h0M919 2120h0M675 1874h0M809 1993h0M596 2005h0M632 1975h0M658 2128h0M565 1982h0M683 1936h0M422 1941h0M790 2054h0M892 1891h0M651 2122h0M432 2163h0M629 1892h0M638 2217h0M557 1992h0M662 2475h0M609 2100h0M534 2064h0M482 2216h0M874 2497h0M831 2055h0M987 2096h0M487 2496h0M601 2047h0M558 1970h0M909 2094h0M787 2033h0M912 2117h0M766 2321h0M704 2036h0M905 2457h0M986 1938h0M462 2294h0M994 2456h0M568 2127h0M757 1998h0M815 2091h0M676 2371h0M772 2049h0M438 2307h0M735 2094h0M998 2090h0M966 1957h0M1011 1969h0M875 2482h0M850 2293h0M508 2195h0M624 2136h0M916 1952h0M515 2028h0M722 1912h0M660 2111h0M485 2317h0M858 2468h0M760 2147h0M490 2049h0M778 2522h0M485 2075h0M813 2088h0M897 2109h0M771 1939h0M994 1987h0M599 2064h0M1021 2021h0M627 1888h0M656 2510h0M910 1881h0M939 2011h0M641 2390h0M754 1865h0M539 2344h0M820 2525h0M410 1956h0M986 2002h0M839 1985h0M784 2499h0M749 1928h0M846 2522h0M491 2314h0M750 2136h0M514 2488h0M850 2465h0M638 1886h0M713 1966h0M342 2116h0M737 2351h0M651 1891h0M915 2004h0M827 2462h0M983 1981h0M763 2277h0M943 1936h0M852 2378h0M557 1959h0M923 1901h0M460 2161h0M928 2078h0M970 2415h0M918 2083h0M764 1940h0M535 2073h0M636 1973h0M907 2148h0M720 2237h0M549 2296h0M967 2474h0M952 2493h0M949 2085h0M915 2034h0M606 2242h0M693 2080h0M931 2424h0M668 2229h0M824 2310h0M715 2056h0M662 1873h0M594 1993h0M991 1951h0M706 2409h0M658 1822h0M536 2286h0M721 2072h0M939 1979h0M772 2232h0M822 2021h0M746 1888h0M558 2341h0M954 2014h0M999 2093h0M437 1942h0M933 1948h0M481 2299h0M489 2152h0M830 2280h0M787 2280h0M715 2067h0M702 2302h0M665 1959h0M905 2447h0M955 2449h0M686 1957h0M727 2150h0M804 2546h0M693 2518h0M425 2279h0M880 2407h0M985 2024h0M719 2352h0M919 1875h0M522 2196h0M514 2171h0M970 1956h0M914 2020h0M596 2094h0M949 2047h0M689 1969h0M653 2111h0M973 2129h0M692 1910h0M978 2420h0M796 2484h0M831 2114h0M745 1886h0M762 2048h0M751 2334h0M783 2145h0M683 2469h0M800 2534h0M902 2488h0M968 2402h0M648 1890h0M452 2366h0M938 1938h0M657 2120h0M681 2446h0M723 2134h0M691 2268h0M637 2062h0M963 1964h0M991 2030h0M816 2396h0M850 2537h0M818 2506h0M423 2245h0M732 1960h0M405 1962h0M648 1832h0M890 2431h0M457 2296h0M635 1904h0M746 2017h0M589 2087h0M479 2347h0M606 1937h0M641 2236h0M828 1995h0M803 2466h0M986 1983h0M932 2017h0M944 1999h0M450 2258h0M704 2103h0M662 1921h0M719 2229h0M879 1898h0M536 2294h0M759 1913h0M707 2260h0M840 2238h0M625 1960h0M989 2503h0M710 1934h0M517 1992h0M646 2022h0M673 1957h0M767 2259h0M725 1942h0M617 2218h0M786 1941h0M461 2289h0M794 2253h0M472 2027h0M744 2156h0M612 2126h0M1077 2157h0M481 2338h0M652 2070h0M1018 1977h0M1009 2056h0M969 2131h0M860 2076h0M536 2017h0M900 2047h0M546 2370h0M610 1997h0M827 2097h0M691 2353h0M778 1945h0M938 1985h0M590 2024h0M905 1858h0M639 1909h0M1017 2007h0M972 2002h0M1003 2058h0M807 2538h0M802 2067h0M893 1878h0M853 2050h0M981 2118h0M360 2129h0M749 1870h0M607 2076h0M650 2169h0M965 2074h0M954 2077h0M758 2105h0M683 1825h0M626 2115h0M577 1965h0M853 2512h0M763 2346h0M1075 2145h0M929 2115h0M1015 1992h0M709 2335h0M709 2252h0M924 1998h0M825 2446h0M513 2062h0M945 2463h0M528 2018h0M848 2119h0M753 2002h0M937 2149h0M611 2194h0M805 2083h0M429 2332h0M798 2396h0M886 2489h0M693 2112h0M783 2247h0M932 2032h0M797 2072h0M973 2061h0M953 2007h0M990 2053h0M628 2226h0M814 1973h0M448 2200h0M699 1889h0M567 2020h0M786 1982h0M903 1973h0M628 1949h0M748 1865h0M754 1918h0M533 2276h0M975 2488h0M460 2272h0M715 1845h0M613 1989h0M434 1957h0M709 2225h0M669 2128h0M612 2374h0M761 2271h0M991 2445h0M944 2495h0M922 2028h0M349 2136h0M776 2353h0M508 1982h0M652 2130h0M991 2079h0M533 2347h0M581 2096h0M602 1987h0M558 1975h0M611 2049h0M825 2217h0M785 2099h0M564 1987h0M681 2130h0M981 2010h0M960 2467h0M704 2004h0M669 2044h0M976 2508h0M941 1991h0M731 2294h0M739 2401h0M442 2173h0M938 2133h0M888 2434h0M564 1982h0M609 2275h0M646 2327h0M646 2436h0M477 2349h0M544 2027h0M659 2186h0M912 2021h0M548 2327h0M477 2026h0M630 2464h0M808 1982h0M552 2025h0M631 2057h0M556 2326h0M476 2360h0M1004 2386h0M806 2459h0M616 2308h0M949 2004h0M728 2052h0M973 2404h0M608 2105h0M593 2135h0M803 1984h0M850 2263h0M783 1945h0M722 1973h0M933 2445h0M926 2102h0M947 2396h0M990 1944h0M690 2025h0M503 2372h0M655 1927h0M514 2336h0M951 2383h0M778 2281h0M655 2046h0M507 2067h0M598 1958h0M716 1914h0M897 2447h0M839 2001h0M936 1943h0M959 2398h0M904 2109h0M971 2071h0M553 2028h0M753 1924h0M676 2540h0M798 2423h0M972 2409h0M953 2398h0M625 1967h0M694 1986h0M786 2112h0M996 2027h0M797 2549h0M675 2009h0M811 2012h0M842 2055h0M580 2022h0M717 2118h0M835 2564h0M480 1998h0M422 2235h0M948 2145h0M645 2099h0M617 2122h0M818 2521h0M891 2439h0M994 2404h0M949 2018h0M657 1959h0M981 1941h0M991 1966h0M504 2050h0M991 2072h0M763 2107h0M717 2262h0M1073 2149h0M849 2544h0M492 2198h0M595 2062h0M973 1988h0M963 1994h0M1089 2144h0M963 2140h0M952 2418h0M560 2023h0M1006 2027h0M755 2423h0M912 1863h0M867 2460h0M743 1950h0M653 2506h0M703 2268h0M971 2459h0M698 1850h0M885 1906h0M356 2137h0M499 2311h0M995 2077h0M880 2501h0M814 2541h0M976 1965h0M636 1973h0M948 2478h0M608 2032h0M619 2225h0M519 1980h0M682 2244h0M681 2327h0M700 2056h0M641 2372h0M1097 2156h0M948 1954h0M908 1868h0M942 2395h0M995 2035h0M531 1980h0M532 1972h0M346 2111h0M805 2570h0M956 2013h0M928 2404h0M948 2388h0M1013 2055h0M864 2461h0M932 2431h0M687 1981h0M886 2487h0M810 1941h0M457 2240h0M877 1873h0M725 2069h0M950 2005h0M740 1972h0M681 1863h0M782 2019h0M517 2378h0M804 1987h0M688 2268h0M619 2185h0M654 2243h0M618 2134h0M620 2243h0M967 1959h0M709 2089h0M647 1830h0M815 2120h0M750 1903h0M844 2495h0M802 2491h0M477 2197h0M485 2206h0M805 2565h0M604 2224h0M709 1955h0M637 1963h0M739 2395h0M670 1902h0M654 1992h0M647 2064h0M671 2248h0M983 2101h0M706 1876h0M951 1965h0M791 1966h0M717 2157h0M650 2495h0M832 2450h0M648 2241h0M901 2487h0M445 2317h0M1000 2399h0M835 2524h0M970 2465h0M823 2255h0M834 2478h0M668 2415h0M645 2287h0M669 2449h0M797 2292h0M717 2292h0M1003 2442h0M606 2510h0M550 2329h0M693 2310h0M716 2233h0M691 2267h0M654 2302h0M903 2451h0M552 2356h0M671 2348h0M936 2489h0M732 2298h0M457 2185h0M836 2267h0M950 2390h0M749 2363h0M632 2223h0M965 2366h0M660 2408h0M675 2439h0M689 2320h0M748 2345h0M890 2494h0M492 2213h0M514 2381h0M441 2365h0M781 2231h0M838 2535h0M836 2513h0M926 2451h0M751 2425h0M975 2382h0M474 2144h0M803 2499h0M643 2366h0M797 2304h0M978 2494h0M698 2271h0M992 2373h0M645 2448h0M906 2442h0M969 2444h0M715 2417h0M833 2386h0M471 2328h0M524 2284h0M886 2485h0M886 2481h0M944 2388h0M870 2538h0M928 2483h0M672 2203h0M866 2449h0M474 2389h0M890 2493h0M960 2508h0M872 2487h0M772 2400h0M633 2488h0M869 2473h0M707 2359h0M836 2491h0M876 2473h0M685 2485h0M637 2310h0M697 2278h0M666 2270h0M914 2460h0M668 2543h0M786 2561h0M623 2496h0M602 2350h0M729 2375h0M476 2146h0M941 2452h0M947 2394h0M792 2381h0M943 2466h0M788 2518h0M678 2376h0M1028 2432h0M880 2452h0M963 2414h0M1000 2381h0M674 2494h0M801 2552h0M630 2222h0M799 2535h0M840 2499h0M919 2463h0M622 2230h0M510 2301h0M753 2242h0M448 2236h0M884 2488h0M937 2453h0M836 2548h0M739 2231h0M698 2290h0M657 2377h0M866 2274h0M831 2304h0M736 2403h0M636 2448h0M646 2238h0M795 2520h0M785 2530h0M866 2534h0M986 2485h0M607 2292h0M619 2377h0M934 2449h0M859 2334h0M873 2462h0M922 2419h0M660 2308h0M821 2244h0M698 2236h0M847 2461h0M432 2239h0M653 2465h0M862 2532h0M837 2473h0M828 2568h0M450 2223h0M751 2236h0M831 2453h0M426 2162h0M424 2161h0M625 2460h0M673 2351h0M901 2429h0M475 2387h0M802 2533h0M790 2315h0M675 2247h0M551 2423h0M506 2326h0M710 2243h0M814 2298h0M418 2165h0M876 2519h0M965 2428h0M527 2299h0M638 2410h0M782 2505h0M764 2238h0M514 2339h0M719 2310h0M678 2292h0M943 2412h0M499 2198h0M720 2374h0M720 2306h0M876 2459h0M829 2553h0M636 2363h0M497 2388h0M967 2506h0M823 2564h0M929 2457h0M823 2508h0M559 2387h0M866 2519h0M603 2324h0M617 2367h0M685 2282h0M445 2342h0M916 2406h0M880 2514h0M710 2247h0M606 2309h0M503 2331h0M969 2484h0M610 2519h0M620 2325h0M920 2480h0M522 2401h0M952 2394h0M875 2508h0M454 2284h0M739 2414h0M977 2473h0M824 2476h0M785 2304h0M759 2234h0M1002 2476h0M455 2262h0M816 2487h0M816 2223h0M772 2256h0M699 2242h0M622 2317h0M496 2166h0M829 2226h0M956 2391h0M905 2488h0M871 2495h0M824 2545h0M793 2509h0M928 2430h0M767 2341h0M894 2459h0M755 2224h0M658 2415h0M513 2312h0M837 2359h0M648 2367h0M1003 2393h0M831 2220h0M860 2301h0M421 2224h0M898 2482h0M340 2125h0M689 2416h0M605 2337h0M866 2531h0M939 2472h0M729 2277h0M425 2340h0M634 2448h0M745 2314h0M534 2276h0M843 2447h0M795 2302h0M820 2264h0M981 2481h0M459 2147h0M869 2518h0M797 2508h0M881 2487h0M819 2518h0M432 2261h0M465 2134h0M653 2472h0M725 2340h0M883 2519h0M893 2475h0M952 2414h0M641 2399h0M655 2410h0M952 2479h0M820 2249h0M917 2397h0M542 2287h0M447 2316h0M603 2313h0M911 2457h0M764 2424h0M436 2355h0M976 2401h0M493 2308h0M535 2371h0M768 2409h0M887 2462h0M950 2390h0M936 2419h0M882 2474h0M426 2170h0M552 2417h0M521 2335h0M929 2432h0M744 2380h0M748 2370h0M805 2551h0M893 2449h0M839 2548h0M999 2460h0M467 2221h0M651 2300h0M523 2397h0M659 2398h0M975 2402h0M821 2377h0M843 2548h0M558 2367h0M697 2333h0M685 2488h0M831 2229h0M839 2350h0M621 2296h0M643 2261h0M724 2278h0M913 2453h0M489 2172h0M899 2433h0M720 2413h0M952 2413h0M830 2347h0M700 2477h0M763 2425h0M902 2447h0M475 2227h0M814 2536h0M612 2528h0M792 2390h0M910 2408h0M990 2414h0M534 2318h0M920 2519h0M903 2411h0M660 2525h0M977 2484h0M661 2463h0M798 2520h0M816 2533h0M953 2468h0M655 2525h0M475 2380h0M844 2462h0M794 2267h0M480 2306h0M790 2204h0M844 2483h0M698 2474h0M844 2277h0M850 2433h0M760 2282h0M489 2187h0M907 2438h0M922 2422h0M1010 2377h0M492 2207h0M941 2397h0M749 2422h0M909 2414h0M911 2413h0M719 2351h0M426 2313h0M930 2450h0M809 2572h0M740 2268h0M783 2221h0M976 2371h0M500 2293h0M833 2408h0M978 2487h0M538 2329h0M676 2298h0M950 2394h0M492 2331h0M790 2288h0M648 2349h0M851 2534h0M700 2306h0M988 2364h0M538 2376h0M835 2416h0M704 2309h0M679 2511h0M532 2362h0M812 2344h0M993 2452h0M643 2270h0M498 2389h0M696 2472h0M816 2224h0M981 2407h0M874 2481h0M815 2512h0M881 2522h0M977 2457h0M950 2444h0M921 1979h0M741 2394h0M615 2476h0M845 2511h0M647 2258h0M479 2153h0M629 2367h0M860 2427h0M428 2295h0M721 2228h0M772 2248h0M600 2352h0M943 2401h0M728 2334h0M656 2292h0M733 1877h0M850 2554h0M689 2204h0M854 2305h0M881 2490h0M639 2256h0M953 2395h0M890 2502h0M805 2550h0M816 2532h0M818 2381h0M716 2306h0M842 2395h0M741 2426h0M774 2251h0M874 2497h0M926 2486h0M650 2378h0M534 2303h0M476 2178h0M982 2398h0M653 2300h0M960 2498h0M689 2250h0M1006 2503h0M466 2345h0M770 2419h0M715 2298h0M509 2198h0M984 2456h0M745 2327h0M806 2291h0M796 2316h0M434 2332h0M498 2358h0M726 2244h0M636 2283h0M455 2367h0M717 2369h0M656 2245h0M842 2386h0M963 2361h0M600 2285h0M876 2536h0M734 2268h0M786 2528h0M720 2379h0M683 2387h0M677 2478h0M422 2183h0M920 2424h0M781 2314h0M889 2425h0M747 2284h0M899 2428h0M701 2357h0M475 2194h0M516 2292h0M924 2397h0M667 2085h0M1021 2010h0M644 2400h0M835 2238h0M818 2348h0M489 2392h0M649 2405h0M881 2513h0M434 2233h0M962 2476h0M755 2254h0M636 2350h0M907 2409h0M780 2266h0M799 2540h0M438 2343h0M435 2231h0M975 2444h0M862 2547h0M741 2399h0M429 2352h0M679 2454h0M814 2276h0M854 2542h0M776 2377h0M692 2251h0M507 2399h0M676 2248h0M1006 2044h0M525 2076h0M705 2100h0M951 2043h0M900 2098h0M782 2031h0M920 2075h0M776 1894h0M975 1935h0M903 2039h0M512 2032h0M773 1944h0M914 2102h0M792 2020h0M978 2021h0M814 2115h0M639 2234h0M935 2029h0M590 1983h0M752 1915h0M943 2032h0M708 1830h0M620 1989h0M998 2059h0M785 2001h0M600 2182h0M342 2116h0M893 1871h0M549 2074h0M896 2495h0M951 2000h0M1008 2064h0M725 2327h0M991 2038h0M734 2419h0M616 2137h0M619 2388h0M704 2260h0M840 2549h0M703 2146h0M719 2346h0M1007 2062h0M681 2512h0"/>
<path stroke="#f8dee5" d="M868 2489h0M654 1924h0M792 2123h0M741 1939h0M512 2391h0M644 2104h0M737 2145h0M896 1909h0M973 1995h0M422 2178h0M432 2313h0M796 1983h0M691 1928h0M840 2067h0M553 2080h0M992 1941h0M678 2063h0M646 2244h0M539 2026h0M615 2273h0M905 1973h0M851 2009h0M904 2112h0M940 2147h0M698 2046h0M663 2476h0M1012 1992h0M609 2267h0M973 1979h0M511 2048h0M651 2485h0M597 2019h0M760 2052h0M607 2133h0M904 1981h0M759 2150h0M686 1919h0M988 1998h0M750 1950h0M430 1964h0M707 1916h0M653 2301h0M959 2490h0M931 2396h0M679 1950h0M870 2503h0M797 2549h0M539 2061h0M681 2406h0M984 2033h0M982 2474h0M846 2509h0M793 2065h0M700 1864h0M677 2452h0M549 1986h0M691 2418h0M565 2401h0M902 1987h0M974 2460h0M638 2374h0M479 2283h0M834 2251h0M799 2409h0M624 2158h0M717 2067h0M602 1954h0M684 2319h0M982 2483h0M742 2386h0M749 2328h0M826 2270h0M967 2126h0M715 2016h0M916 2299h0M526 2040h0M665 1846h0M784 2509h0M627 2501h0M712 1884h0M822 2475h0M485 2069h0M446 2242h0M621 2294h0M613 2363h0M811 2416h0M671 2333h0M667 2059h0M632 2271h0M781 2254h0M1008 2369h0M502 1985h0M797 2208h0M948 2372h0M617 2507h0M687 1973h0M732 2210h0M551 2007h0M609 2514h0M525 2392h0M570 2114h0M737 2212h0M868 2425h0M852 2480h0M417 1950h0M834 2029h0M487 2015h0M451 2278h0M668 2205h0M517 2054h0M812 2305h0M653 2390h0M631 2373h0M651 2266h0M531 2419h0M471 2305h0M994 2073h0M794 2561h0M517 2314h0M601 2354h0M639 2533h0M980 2480h0M842 2224h0M528 2393h0M622 2310h0M536 2369h0M899 2269h0"/>
<path stroke="#f5d0db" d="M729 2232h0M801 2480h0M729 2336h0M438 2260h0M449 2291h0M899 2445h0M528 2395h0M752 2403h0M515 2402h0M701 2421h0M780 2282h0M516 2377h0M821 2402h0M785 2234h0M747 2326h0M558 2316h0M764 2223h0M493 2221h0M524 2369h0M729 2203h0M793 2269h0M505 2292h0M466 2301h0M506 2474h0M500 2356h0M962 2448h0M564 2368h0M779 2545h0M820 2248h0M786 2294h0M904 2423h0M549 2307h0M763 2247h0M503 2314h0M661 2249h0M647 2478h0M683 2259h0M739 2208h0M523 2370h0M543 2305h0M636 2275h0M679 2350h0M830 2310h0M518 2281h0M524 2352h0M530 2374h0M671 2333h0M743 2313h0M644 2525h0M625 2257h0M669 2438h0M544 2387h0M778 2406h0M433 2316h0M718 2279h0M855 2374h0M817 2488h0M442 2257h0M634 2352h0M726 2245h0M706 2251h0M647 2472h0M446 2178h0M912 2408h0M632 2310h0M738 2426h0M555 2316h0M838 2280h0M652 2374h0M686 2282h0M676 2290h0M660 2449h0M564 2401h0M851 2460h0M829 2360h0M630 2501h0M728 2336h0M488 2336h0M677 2445h0M535 2324h0M776 2377h0M1014 2484h0M841 2342h0M433 2360h0M453 2260h0M812 2493h0M419 2280h0M521 2388h0M447 2278h0M808 2423h0M1016 2387h0M997 2383h0M472 2289h0M487 2296h0M492 2299h0M784 2204h0M447 2367h0M522 2407h0M660 2437h0M810 2306h0M511 2278h0M623 2360h0M914 2395h0M656 2375h0M509 2378h0M681 2384h0M609 2225h0M690 2295h0M625 2496h0M679 2410h0M918 2488h0M621 2361h0M624 2513h0M857 2323h0M550 2376h0M625 2364h0M436 2351h0M426 2232h0M807 2496h0M844 2252h0M470 2272h0M838 2391h0M776 2380h0M458 2302h0M723 2381h0M630 2334h0M796 2205h0M842 2464h0M488 2501h0M748 2231h0M902 2260h0M718 2327h0M342 2114h0M823 2263h0M927 2283h0M440 2276h0M715 2346h0M864 2471h0M558 2355h0M675 2349h0M766 2290h0M879 2468h0M461 2332h0M742 2382h0M436 2308h0M471 2373h0"/>
<path stroke="#f2c1d0" d="M428 2265h0M888 2254h0M612 2307h0M639 2326h0M939 2284h0M441 2252h0M474 2294h0M914 2480h0M995 2392h0M771 2341h0M907 2281h0M802 2366h0M914 2286h0M527 2404h0M937 2251h0M747 2367h0M928 2414h0M465 2267h0M424 2256h0M477 2383h0M744 2344h0M459 2324h0M765 2304h0M451 2339h0M456 2366h0M640 2529h0M830 2474h0M854 2345h0M508 2321h0M874 2465h0M517 2299h0M447 2292h0M518 2325h0M643 2292h0M650 2465h0M535 2307h0M505 2363h0M703 2276h0M428 2233h0M444 2300h0M922 2302h0M504 2337h0M516 2302h0M496 2308h0M438 2358h0M831 2395h0M844 2261h0M673 2377h0M626 2375h0M660 2255h0M694 2200h0M617 2372h0M504 2485h0M851 2334h0M942 2459h0M437 2282h0M976 2503h0M667 2348h0M825 2377h0M527 2414h0M639 2498h0M459 2350h0M445 2343h0M430 2261h0M848 2313h0M529 2345h0M774 2222h0M551 2308h0M478 2315h0M971 2483h0M542 2372h0M819 2300h0M442 2327h0M974 2522h0M509 2331h0M717 2333h0M966 2378h0M904 2402h0M545 2384h0M428 2308h0M851 2307h0M641 2223h0M524 2306h0M467 2338h0M497 2378h0M940 2204h0M541 2351h0M833 2381h0M444 2253h0M675 2434h0M616 2331h0M489 2267h0M542 2380h0M1009 2259h0M678 2498h0M964 2423h0M517 2369h0M479 2366h0M771 2261h0M461 2386h0M900 2460h0M444 2295h0M531 2414h0M850 2359h0M495 2287h0M609 2277h0M467 2327h0M670 2492h0M811 2316h0M425 2257h0M976 2520h0M456 2380h0M714 2250h0M536 2311h0M538 2420h0M554 2405h0M910 2302h0M759 2431h0M792 2427h0M448 2281h0M445 2251h0M821 2220h0M515 2409h0M649 2383h0M534 2421h0M790 2344h0M559 2318h0M746 2374h0M481 2364h0M756 2349h0M478 2282h0"/>
<path stroke="#f1b2c5" d="M526 2279h0M931 2477h0M977 2265h0M512 2348h0M640 2328h0M562 2406h0M791 2332h0M662 2324h0M967 2501h0M538 2309h0M688 2274h0M470 2367h0M955 2397h0M864 2321h0M855 2456h0M646 2469h0M669 2522h0M695 2482h0M839 2393h0M931 2229h0M926 2427h0M946 2398h0M816 2302h0M459 2373h0M549 2317h0M932 2208h0M531 2282h0M489 2388h0M858 2422h0M817 2389h0M425 2324h0M488 2368h0M856 2434h0M435 2358h0M614 2302h0M536 2313h0M639 2279h0M451 2379h0M471 2361h0M658 2231h0M489 2290h0M719 2281h0M496 2350h0M920 2205h0M454 2256h0M917 2198h0M914 2266h0M472 2290h0M436 2301h0M544 2350h0M450 2241h0M488 2268h0M447 2298h0M928 2282h0M987 2209h0M559 2369h0M905 2294h0M487 2363h0M511 2320h0M889 2290h0M504 2274h0M534 2302h0M904 2263h0M520 2410h0M497 2496h0M449 2286h0M441 2244h0M917 2302h0M462 2327h0M494 2388h0M514 2386h0M523 2340h0M446 2342h0M438 2367h0M528 2300h0M477 2343h0M467 2283h0M537 2369h0M931 2239h0M460 2390h0M510 2340h0M884 2290h0M557 2393h0M439 2306h0M445 2332h0"/>
<path stroke="#f79cb7" d="M447 2291h0M959 2293h0M933 2244h0M966 2222h0M978 2270h0M913 2284h0M912 2284h0M955 2272h0M951 2261h0M982 2228h0M981 2252h0M1005 2267h0M901 2287h0"/>
<path stroke="#f883ab" d="M980 2232h0M889 2283h0M1000 2241h0M993 2280h0M905 2246h0M885 2273h0M1019 2221h0M1071 2279h0M1062 2288h0M1040 2291h0M1064 2304h0M880 2215h0M904 2228h0M1051 2289h0M916 2262h0M1047 2240h0M942 2261h0M909 2185h0M913 2202h0M942 2261h0M973 2231h0M966 2215h0M967 2220h0M1075 2282h0M974 2289h0M930 2237h0M999 2288h0M915 2254h0M1005 2214h0M971 2248h0"/>
<path stroke="#f767a1" d="M947 2214h0M970 2206h0M959 2202h0M969 2284h0M934 2255h0M920 2253h0M929 2193h0M951 2251h0M993 2269h0M990 2238h0M1017 2227h0M953 2272h0M911 2254h0M951 2247h0M926 2241h0M922 2204h0M922 2211h0M992 2252h0M1056 2260h0M899 2188h0M944 2213h0M980 2263h0M977 2268h0M905 2257h0M1019 2272h0M925 2294h0M890 2204h0M921 2199h0M913 2293h0M1041 2288h0M913 2278h0"/>
<path stroke="#ea4d9c" d="M940 2221h0M976 2284h0M898 2237h0M944 2269h0M968 2222h0M977 2279h0M883 2271h0M1050 2291h0M951 2282h0M891 2264h0M1052 2291h0M981 2258h0M937 2299h0M977 2243h0M925 2253h0M918 2267h0M1035 2267h0M1020 2279h0M953 2272h0M895 2222h0M1034 2295h0M973 2245h0M982 2263h0M882 2237h0M980 2213h0M913 2192h0M907 2244h0M1010 2220h0M947 2262h0M932 2287h0M957 2229h0M884 2291h0M1029 2294h0M960 2202h0"/>
<path stroke="#dc3397" d="M992 2291h0M1044 2254h0M977 2228h0M902 2216h0M1008 2247h0M1008 2236h0M958 2259h0M920 2269h0M1001 2229h0M907 2234h0M976 2263h0M932 2287h0M927 2193h0M896 2240h0M916 2242h0M1076 2303h0M899 2242h0M986 2276h0M883 2230h0M962 2259h0M912 2201h0M955 2270h0M1077 2290h0M917 2217h0M1012 2224h0M1014 2239h0M896 2253h0M903 2229h0M1035 2264h0M910 2232h0M950 2285h0M922 2198h0M931 2261h0M1067 2316h0M894 2298h0"/>
<path stroke="#c4198a" d="M1015 2240h0M901 2272h0M902 2248h0M934 2190h0M1072 2287h0M916 2270h0M1054 2259h0M931 2284h0M1032 2302h0M909 2184h0M942 2293h0M931 2225h0M926 2247h0M988 2281h0M907 2243h0M904 2197h0M898 2287h0M967 2238h0M1036 2251h0M985 2242h0M979 2286h0M916 2243h0M942 2211h0M1062 2301h0M932 2264h0M971 2248h0M971 2260h0M1043 2256h0M990 2278h0M909 2255h0M983 2235h0M1073 2318h0M889 2256h0M930 2228h0M923 2265h0M931 2268h0M890 2284h0M1043 2244h0M977 2267h0M892 2227h0M922 2242h0M889 2259h0M1013 2227h0M887 2281h0M1076 2274h0M1078 2312h0"/>
<path stroke="#ad017e" d="M1063 2282h0M1067 2305h0M944 2266h0M1080 2301h0M899 2256h0M1056 2264h0M945 2294h0M935 2294h0M1056 2254h0M1069 2266h0M891 2269h0M914 2271h0M939 2279h0M967 2284h0M978 2272h0M1007 2274h0M942 2238h0M1030 2230h0M976 2281h0M931 2260h0M960 2280h0M1016 2275h0M891 2201h0M952 2250h0M880 2216h0M939 2202h0M949 2296h0M1064 2260h0M985 2254h0M923 2234h0M980 2255h0M999 2210h0M915 2201h0M1016 2236h0M918 2226h0M981 2240h0M992 2211h0M1038 2301h0"/>
<path stroke="#93017a" d="M1078 2275h0M918 2262h0M1080 2297h0M1000 2271h0M946 2233h0M960 2243h0M1047 2271h0M984 2243h0M932 2268h0M956 2222h0M954 2281h0M923 2222h0M943 2245h0M961 2231h0M1078 2316h0M950 2200h0M1046 2292h0M1025 2236h0M960 2251h0M1044 2244h0M930 2219h0M899 2248h0M921 2250h0M968 2232h0M1008 2242h0M918 2244h0M956 2233h0M1014 2250h0M996 2208h0M1025 2277h0M881 2193h0M1000 2223h0M1017 2258h0M1072 2301h0M1064 2282h0M1026 2239h0M1053 2242h0M889 2253h0M922 2183h0M925 2208h0M982 2212h0M954 2258h0M1043 2254h0M1046 2279h0M896 2225h0M1026 2276h0M897 2225h0M943 2252h0M962 2239h0"/>
<path stroke="#790177" d="M979 2253h0M1011 2228h0M977 2270h0M949 2286h0M894 2219h0M898 2203h0M1066 2308h0M1007 2242h0M907 2202h0M910 2261h0M1045 2272h0M903 2204h0M974 2210h0M929 2218h0M1049 2246h0M1023 2268h0M960 2205h0M970 2254h0M1064 2297h0M993 2241h0M973 2262h0M1027 2283h0M909 2226h0M900 2254h0M924 2235h0M888 2213h0M901 2198h0M980 2219h0M926 2213h0M974 2285h0M1008 2289h0M982 2285h0M948 2243h0M885 2219h0M1018 2283h0M1041 2250h0M968 2236h0M1010 2213h0M911 2189h0M1010 2239h0M962 2241h0M912 2208h0M934 2249h0M769 1939h0M838 2124h0M898 2140h0M916 2039h0M510 2302h0M704 2296h0M638 2399h0M635 2264h0M808 2330h0M1012 2270h0M620 2512h0M490 2483h0M967 2207h0M1041 2284h0M892 2213h0M970 2285h0M995 2227h0"/>
<path stroke="#600070" d="M1030 2227h0M1052 2250h0M931 2217h0M954 2266h0M1033 2276h0M980 2277h0M988 2259h0M931 2201h0M989 2269h0M925 2227h0M942 2225h0M1070 2279h0M911 2189h0M938 2244h0M1014 2228h0M1047 2287h0M898 2218h0M1062 2276h0M1042 2234h0M959 2239h0M948 2252h0M992 2245h0M915 2236h0M917 2216h0M971 2259h0M958 2207h0M1036 2288h0M1012 2221h0M997 2288h0M1001 2237h0M929 2232h0M1053 2253h0M969 2244h0M961 2224h0M987 2218h0M1032 2234h0M884 2196h0M1000 2239h0M1002 2269h0M1028 2293h0M1067 2300h0M950 2197h0M1061 2288h0M914 2185h0M1022 2278h0M953 2223h0M911 2221h0M925 2214h0M989 2212h0M1031 2243h0M1016 2261h0M935 2194h0M971 2291h0M926 2236h0M996 2277h0"/>
<path stroke="#49006a" d="M1062 2287h0M951 2208h0M958 2206h0M930 2187h0M971 2235h0M882 2221h0M903 2198h0M1029 2251h0M994 2248h0M1058 2270h0M926 2208h0M958 2220h0M1055 2243h0M997 2233h0M1001 2229h0M962 2202h0M967 2258h0M1014 2238h0M1024 2229h0M1011 2290h0M1017 2268h0M1003 2276h0M919 2186h0M928 2194h0M1061 2248h0M891 2228h0M997 2266h0M1065 2319h0M922 2183h0M1025 2285h0M1023 2285h0M1042 2246h0M1063 2294h0M1077 2305h0M1049 2240h0M1054 2271h0M1065 2315h0M1029 2248h0M1027 2279h0M1041 2258h0M1040 2261h0M1050 2249h0M1016 2218h0M1076 2308h0M1035 2228h0M1077 2299h0M1035 2256h0M1060 2297h0M1069 2281h0M1025 2285h0M1024 2262h0M1052 2298h0M1026 2244h0M1042 2242h0M1058 2318h0"/>
</g></g>
<g filter="url(#bl)"><g transform="translate(230.70 0) scale(0.2)" stroke-linecap="round" stroke-width="9.5" fill="none">
<path stroke="#fefafa" d="M1045 2272h0M760 1954h0M1044 2254h0M849 2351h0M560 1996h0M646 2469h0M837 2287h0M659 2186h0M967 2258h0M554 2016h0M428 2308h0M935 2029h0M962 2476h0M519 2349h0M648 2349h0M1017 2227h0M919 2126h0M772 1898h0M643 2270h0M628 1949h0M625 2383h0M674 2125h0M543 2320h0M679 1921h0M633 2488h0M814 2298h0M722 1912h0M523 2021h0M953 2007h0M494 2284h0M479 2153h0M493 2308h0M945 2024h0M629 2534h0M526 1992h0M502 2164h0M1107 2166h0M653 2512h0M806 2459h0M414 2177h0M693 2000h0M1021 2010h0M991 2038h0M718 1874h0M891 1867h0M477 2383h0M932 2431h0M642 2407h0M621 2044h0M851 2534h0M504 2274h0M646 2022h0M494 2160h0M815 2512h0M951 2043h0M815 2501h0M708 2390h0M719 2152h0M742 2146h0M1075 2136h0M735 2094h0M941 2145h0M625 2257h0M808 2048h0M510 2301h0M786 1982h0M621 2361h0M563 2113h0M652 2234h0M897 2452h0M669 2449h0M621 2294h0M1078 2316h0M482 2216h0M799 1937h0M603 2324h0M816 2115h0M444 2270h0M1076 2303h0M716 2306h0M655 2161h0M652 2182h0M651 2001h0M839 2548h0M889 2425h0M644 1939h0M910 2261h0M670 2470h0M654 2221h0M742 2382h0M838 2075h0M514 2386h0M1089 2142h0M651 2225h0M794 2253h0M976 2503h0M912 2201h0M926 2236h0M762 2348h0M677 2478h0M978 2113h0M828 1986h0M863 2487h0M448 2281h0M678 2017h0M486 2494h0M707 2088h0M1014 2484h0M622 1927h0M914 2395h0M676 2078h0M816 2086h0M672 2400h0M922 1883h0M828 2328h0M615 2058h0M766 2017h0M879 2468h0M948 2385h0M909 1976h0M912 2117h0M436 2220h0M966 2215h0M796 2524h0M960 2280h0M943 2091h0M715 2016h0M436 2301h0M836 2513h0M495 2287h0M710 2248h0M969 2284h0M610 2497h0M951 2066h0M640 2235h0M744 2156h0M803 2018h0M991 2497h0M771 2015h0M631 2373h0M649 2036h0M923 2234h0M925 2253h0M531 2312h0M527 2414h0M703 2276h0M738 2250h0M973 2129h0M909 2184h0M527 2027h0M615 2370h0M901 2272h0M965 2121h0M675 1852h0M483 2005h0M348 2112h0M702 2302h0M903 2039h0M932 2032h0M909 2112h0M628 2032h0M703 2303h0M671 2129h0M921 2250h0M617 2151h0M697 1859h0M670 2070h0M884 2290h0M728 2125h0M1065 2319h0M941 2132h0M644 2001h0M706 2272h0M972 2059h0M505 2276h0M752 2159h0M763 2346h0M558 1970h0M525 2286h0M949 1993h0M626 2115h0M691 1845h0M653 1882h0M657 2177h0M827 2462h0M1016 2218h0M791 2332h0M674 2494h0M413 1975h0M978 2270h0M527 2075h0M725 2069h0M1064 2297h0M625 1967h0M871 2451h0M1003 2058h0M693 2518h0M426 2150h0M954 1942h0M610 2202h0M692 2155h0M861 2502h0M715 2298h0M898 2237h0M515 1985h0M492 2313h0M591 2127h0M535 2324h0M419 2280h0M851 2307h0M625 2151h0M790 2315h0M437 2184h0M644 2525h0M904 2197h0M429 1964h0M834 2294h0M708 2162h0M810 1958h0M657 2120h0M561 2009h0M684 2319h0M829 1977h0M969 2053h0M500 2215h0M943 2369h0M924 1998h0M984 2243h0M960 2243h0M630 1901h0M772 2039h0M500 2318h0M643 1909h0M936 2489h0M638 1886h0M845 2511h0M607 2201h0M719 2111h0M919 2120h0M883 1876h0M603 2054h0M492 2299h0M891 1887h0M723 2381h0M672 2237h0M932 1975h0M503 2372h0M510 2173h0M440 2276h0M840 2067h0M973 2052h0M982 2064h0M738 2426h0M622 2310h0M686 2485h0M691 1928h0M781 2231h0M529 2345h0M447 2298h0M426 2170h0M1013 2022h0M776 1894h0M784 2204h0M686 2231h0M692 2501h0M911 2050h0M853 2261h0M682 2369h0M713 1990h0M472 2290h0M702 2228h0M1066 2308h0M1000 1988h0M630 2380h0M984 2033h0M842 2395h0M724 2353h0M646 2089h0M731 2226h0M1047 2271h0M780 2282h0M709 1955h0M1025 2236h0M960 2482h0M609 2225h0M410 1956h0M1007 1954h0M971 2235h0M632 2400h0M648 2367h0M827 1992h0M934 2249h0M434 2347h0M432 2142h0M579 2100h0M751 2425h0M922 2183h0M490 2017h0M749 2422h0M967 2501h0M534 2303h0M591 2043h0M960 2205h0M734 2268h0M1067 2300h0M528 2073h0M652 2241h0M748 2231h0M652 2224h0M673 1845h0M739 1868h0M851 2460h0M747 2367h0M492 2198h0M591 2171h0M762 2014h0M705 2313h0M749 1928h0M590 1983h0M649 2085h0M645 2165h0M675 2247h0M711 2031h0M558 2041h0M969 2096h0M623 2360h0M1018 2283h0M703 1980h0M672 2203h0M761 2275h0M669 2438h0M477 2349h0M647 2258h0M972 2002h0M515 2385h0M896 1909h0M888 1870h0M985 2024h0M691 2418h0M630 1913h0M569 2110h0M1047 2287h0M407 1975h0M662 2475h0M751 2334h0M525 2076h0M691 2144h0M933 2244h0M829 2360h0M1030 2230h0M802 1997h0M796 1983h0M730 2259h0M428 2295h0M677 2091h0M962 2241h0M1055 2243h0M534 2054h0M1080 2301h0M634 2285h0M629 2537h0M914 2102h0M628 2022h0M896 2253h0M998 2090h0M821 2402h0M916 2481h0M629 2367h0M771 2051h0M891 2201h0M762 1911h0M1006 2024h0M685 2342h0M599 2064h0M974 1993h0M926 2486h0M448 2176h0M422 2178h0M616 2308h0M948 2145h0M894 2219h0M931 2239h0M459 2350h0M1019 1974h0M997 2383h0M728 1916h0M1010 2239h0M473 2209h0M970 2254h0M850 2102h0M554 2405h0M1014 2238h0M921 2199h0M855 2334h0M691 2089h0M812 2493h0M971 2071h0M1000 2005h0M455 2262h0M1009 2056h0M684 1944h0M675 1874h0M822 2475h0M553 2080h0M802 2425h0M458 2260h0M955 2088h0M937 2149h0M1078 2134h0M636 2129h0M715 2346h0M489 2016h0M647 1868h0M625 2364h0M933 1982h0M435 2358h0M448 2372h0M739 2208h0M704 2215h0M713 2295h0M685 2251h0M773 1944h0M660 2055h0M503 2314h0M760 2052h0M538 2376h0M772 2232h0M810 2306h0M881 1878h0M653 2111h0M709 1999h0M1016 2236h0M516 2302h0M808 2330h0M805 2110h0M841 2342h0M980 2219h0M796 2111h0M763 2247h0M666 2270h0M978 1950h0M421 2211h0M552 2356h0M858 2422h0M851 2316h0M884 2291h0M545 1977h0M475 2380h0M981 2021h0M654 1924h0M771 1939h0M940 1938h0M977 2268h0M425 2340h0M821 2377h0M935 2069h0M436 2308h0M636 1952h0M887 2462h0M522 2196h0M890 2278h0M533 2347h0M672 1978h0M683 2259h0M766 2415h0M610 2519h0M739 2097h0M531 2414h0M717 2292h0M1017 2258h0M781 2314h0M617 2506h0M935 2085h0M700 2306h0M920 2253h0M940 2137h0M515 2028h0M582 2048h0M425 2205h0M818 2069h0M915 2132h0M717 2333h0M628 2226h0M919 2033h0M619 2225h0M689 1866h0M830 1988h0M925 2083h0M895 2412h0M454 2284h0M1062 2287h0M954 2130h0M909 2071h0M346 2111h0M901 2198h0M703 2146h0M957 2072h0M635 2502h0M639 2279h0M511 2278h0M492 2331h0M472 2289h0M447 2316h0M709 2355h0M681 2130h0M962 2448h0M490 2266h0M931 2260h0M518 2008h0M998 1956h0M759 1913h0M638 2217h0M944 2266h0M685 2502h0M707 2359h0M852 2067h0M460 2284h0M804 2281h0M760 2299h0M748 2153h0M622 2308h0M536 2017h0M1025 2285h0M913 2202h0M1001 2237h0M1020 2022h0M647 2051h0M771 1939h0M791 1970h0M933 2096h0M423 2245h0M637 1963h0M850 2002h0M1010 2220h0M725 2327h0M892 2227h0M460 2272h0M904 2263h0M761 2108h0M861 2484h0M673 2351h0M685 2485h0M737 2020h0M1012 2224h0M660 2106h0M915 2004h0M912 2021h0M648 1832h0M947 2262h0M665 2038h0M599 2035h0M445 2251h0M694 1986h0M751 2207h0M951 2383h0M780 2266h0M706 2251h0M720 1967h0M624 2513h0M952 2082h0M441 2299h0M520 2320h0M915 2001h0M569 2140h0M452 2295h0M770 2331h0M783 1925h0M830 2347h0M604 2224h0M939 1964h0M674 1833h0M773 2354h0M656 2058h0M729 2277h0M986 1983h0M549 1986h0M899 2094h0M699 1868h0M737 2254h0M700 2282h0M650 2401h0M517 2378h0M783 1945h0M940 2443h0M467 2356h0M940 2221h0M1063 2294h0M716 2233h0M464 2288h0M419 1964h0M540 2384h0M763 2107h0M754 2091h0M652 2057h0M931 2217h0M689 2416h0M696 1890h0M800 2534h0M428 2233h0M679 2449h0M723 1845h0M1097 2125h0M784 2499h0M894 2298h0M705 2257h0M701 2421h0M646 2327h0M638 2184h0M754 1918h0M453 2260h0M778 1945h0M504 2050h0M942 2459h0M980 2487h0M653 2390h0M796 2048h0M751 2421h0M949 2018h0M902 2131h0M802 2104h0M616 1964h0M728 2336h0M927 2193h0M811 2500h0M715 2382h0M844 2277h0M651 2001h0M483 2328h0M687 2110h0M1041 2288h0M668 1926h0M966 2378h0M928 2414h0M478 2012h0M772 2545h0M993 2269h0M744 2344h0M747 2284h0M713 2013h0M738 2063h0M629 2120h0M1027 2279h0M522 2295h0M445 2343h0M479 2366h0M958 2207h0M703 2268h0M922 2211h0M417 1950h0M699 2242h0M685 1944h0M617 2372h0M791 2204h0M678 2036h0M773 1958h0M981 2118h0M910 1881h0M964 2004h0M788 2347h0M641 2399h0M901 2487h0M567 2092h0M969 2244h0M879 1898h0M433 2360h0M791 1966h0M509 2331h0M654 2302h0M802 2124h0M524 2352h0M748 2345h0M848 2119h0M926 2064h0M692 2251h0M717 2067h0M678 2498h0M644 2108h0M726 1865h0M438 2260h0M706 2011h0M532 2314h0M656 2508h0M649 2080h0M507 2061h0M450 2241h0M578 2099h0M682 2154h0M620 1989h0M889 2259h0M971 2121h0M1075 2145h0M898 2218h0M915 1876h0M681 2333h0M659 2364h0M978 2090h0M532 1971h0M971 2259h0M974 2522h0M781 2123h0M733 1978h0M927 2116h0M742 2129h0M584 1965h0M727 1996h0M844 2261h0M704 2309h0M643 2245h0M704 2260h0M630 2334h0M920 2134h0M904 2112h0M972 1943h0M621 2027h0M709 2225h0M709 2024h0M828 2506h0M562 2406h0M477 2198h0M629 1892h0M618 2119h0M937 2299h0M967 2399h0M660 2408h0M889 2283h0M570 2159h0M939 1957h0M794 1963h0M621 2296h0M930 2237h0M807 2496h0M848 1997h0M963 2361h0M636 2244h0M879 1864h0M959 2202h0M681 1889h0M643 2366h0M621 2339h0M928 2080h0M925 1940h0M896 2225h0M483 2183h0M656 2292h0M574 2138h0M913 2293h0M536 2294h0M735 2001h0M536 2313h0M923 1872h0M641 2080h0M786 2294h0M536 2311h0M840 2067h0M922 2242h0M938 1938h0M754 2113h0M646 2384h0M660 2163h0M723 2409h0M749 2363h0M947 2451h0M598 2147h0M707 2004h0M1051 2289h0M710 1949h0M591 2154h0M678 2063h0M645 2272h0M708 2420h0M673 1957h0M639 2109h0M931 2225h0M920 2205h0M668 2489h0M775 2217h0M499 2198h0M517 2369h0M780 2427h0M929 2193h0M772 2038h0M817 2388h0M956 1990h0M731 2294h0M818 1999h0M626 2376h0M648 2241h0M736 2275h0M610 1997h0M905 2085h0M549 2317h0M656 2245h0M606 2309h0M530 2011h0M880 2407h0M668 1844h0M438 2307h0M932 2000h0M489 2388h0M732 2210h0M844 2483h0M727 2150h0M1058 2270h0M924 2397h0M891 2228h0M1011 2228h0M700 2394h0M671 2333h0M520 2410h0M606 2465h0M728 2334h0M744 2100h0M606 2342h0M342 2116h0M683 1825h0M1006 2027h0M762 1877h0M970 1956h0M1089 2144h0M623 2192h0M697 1850h0M516 2292h0M614 2302h0M797 2091h0M647 2184h0M718 2279h0M855 2456h0M724 2133h0M893 1868h0M643 2176h0M1011 2027h0M644 2232h0M646 2238h0M422 2235h0M736 1851h0M839 2350h0M564 1987h0M981 1987h0M490 2031h0M650 2378h0M434 1957h0M737 2052h0M1041 2284h0M603 2267h0M928 2483h0M636 2363h0M967 2238h0M502 2396h0M539 2344h0M544 2027h0M640 1864h0M813 1978h0M785 2344h0M532 2362h0M745 2384h0M814 1973h0M623 2079h0M475 2387h0M828 2506h0M505 2292h0M771 2261h0M675 1855h0M686 2158h0M603 2313h0M851 2334h0M548 1989h0M783 2249h0M916 2060h0M481 2364h0M489 2172h0M611 2049h0M658 2400h0M521 2335h0M602 2234h0M914 1981h0M822 1978h0M805 2083h0M690 2228h0M515 2363h0M724 2278h0M905 2033h0M764 2238h0M943 2252h0M931 2477h0M797 2072h0M715 2009h0M982 2522h0M991 2030h0M777 2231h0M916 2270h0M704 2085h0M903 2435h0M970 1967h0M625 2056h0M745 2327h0M628 2040h0M719 2351h0M968 2067h0M904 2402h0M768 2250h0M709 2089h0M488 2328h0M905 2257h0M515 2409h0M825 2377h0M968 1966h0M888 2488h0M798 2396h0M609 2037h0M1002 2087h0M725 2340h0M645 2543h0M927 2450h0M662 1873h0M696 2472h0M1076 2308h0M675 2450h0M527 2404h0M1075 2282h0M946 2096h0M644 1982h0M992 2092h0M1014 2013h0M954 1944h0M686 1953h0M633 1972h0M634 2109h0M678 2292h0M919 1875h0M764 1969h0M1014 2361h0M992 1940h0M840 2058h0M838 2369h0M462 2294h0M663 2441h0M947 2463h0M1002 2027h0M948 1958h0M652 2346h0M732 2298h0M549 2005h0M742 1860h0M895 1894h0M784 1921h0M718 2040h0M929 2232h0M731 2122h0M963 2414h0M481 2338h0M738 1950h0M431 2206h0M700 2116h0M747 2326h0M504 2359h0M944 1999h0M782 2146h0M897 2137h0M977 2267h0M531 2419h0M972 1934h0M533 2009h0M635 1851h0M626 2260h0M514 2381h0M807 2261h0M534 2359h0M1060 2297h0M640 1915h0M756 2150h0M704 2296h0M1008 2247h0M1050 2249h0M665 1959h0M904 2109h0M732 2040h0M850 2433h0M534 2064h0M910 2232h0M474 2294h0M465 2267h0M988 2259h0M890 1899h0M1043 2244h0M607 2087h0M655 2277h0M740 2268h0M701 2357h0M1031 2243h0M903 1888h0M839 2001h0M782 2019h0M991 1951h0M959 2027h0M900 2006h0M656 2375h0M541 2351h0M962 2081h0M952 1964h0M615 1964h0M835 2005h0M542 2372h0M916 1952h0M704 2223h0M690 2120h0M790 2344h0M447 2291h0M454 2256h0M979 2286h0M1005 2267h0M684 2025h0M614 2258h0M748 1925h0M796 2056h0M536 2369h0M432 2353h0M678 2333h0M977 2243h0M931 2396h0M992 2211h0M816 2224h0M640 2529h0M789 2049h0M825 2329h0M762 2427h0M444 2300h0M985 2254h0M796 2205h0M557 1959h0M778 1965h0M617 2367h0M646 2116h0M627 2043h0M959 2239h0M480 2306h0M503 2013h0M637 2062h0M776 2380h0M472 2350h0M497 2340h0M761 2216h0M523 2395h0M682 2482h0M738 2111h0M949 2036h0M934 2111h0M832 2314h0M885 2219h0M896 2434h0M474 2389h0M578 2131h0M523 2340h0M962 2119h0M701 2120h0M904 2428h0M591 2095h0M907 2118h0M757 2218h0M632 2302h0M969 1993h0M877 1873h0M523 2317h0M598 2177h0M863 2336h0M995 2000h0M648 2504h0M646 2240h0M546 1977h0M600 2198h0M713 1987h0M534 2318h0M790 2355h0M1017 2007h0M428 2265h0M788 2107h0M1003 1999h0M1043 2254h0M737 2145h0M1019 2272h0M568 2127h0M634 2352h0M906 1889h0M760 1916h0M643 2261h0M924 1994h0M660 2019h0M467 2283h0M1000 2381h0M565 2120h0M622 2228h0M783 2221h0M981 1941h0M438 2367h0M952 2413h0M531 2367h0M811 2074h0M776 2377h0M545 2073h0M621 2069h0M690 2040h0M948 2372h0M813 2497h0M657 1839h0M668 2415h0M629 1894h0M980 2105h0M544 2350h0M638 2214h0M996 2277h0M979 2253h0M594 2148h0M855 2041h0M441 2365h0M673 2383h0M623 2496h0M641 2372h0M912 2284h0M709 2335h0M636 2009h0M808 1982h0M433 2339h0M784 2276h0M906 1950h0M725 2015h0M522 2065h0M590 2164h0M944 2128h0M800 2059h0M952 2479h0M635 1904h0M649 2405h0M812 2087h0M660 2198h0M533 2004h0M620 2243h0M948 2007h0M609 2514h0M745 1886h0M671 2447h0M921 1897h0M893 2449h0M831 2229h0M726 2244h0M675 2349h0M839 2252h0M627 2104h0M626 2114h0M490 2483h0M1028 2432h0M932 2287h0M618 2035h0M802 2014h0M921 1979h0M704 2083h0M787 2133h0M884 1857h0M968 2375h0M1008 2236h0M698 1850h0M665 1909h0M859 2334h0M606 2510h0M514 2388h0M516 2357h0M771 2293h0M750 1950h0M553 2036h0M480 1998h0M737 2212h0M911 2039h0M889 1902h0M739 2401h0M869 2286h0M550 2376h0M909 2094h0M983 2235h0M536 2286h0M584 1980h0M978 2392h0M710 2013h0M527 2045h0M548 2414h0M821 2555h0M748 2123h0M983 1952h0M930 2450h0M951 2005h0M715 2054h0M471 2373h0M781 2134h0M725 2103h0M926 2241h0M676 2371h0M995 2392h0M1018 1977h0M797 2208h0M493 2006h0M511 2390h0M927 2283h0M460 2387h0M681 2327h0M936 2501h0M831 2114h0M762 2061h0M785 2514h0M819 2081h0M914 2286h0M841 2314h0M711 1918h0M665 1846h0M805 2550h0M655 2247h0M441 2244h0M446 2178h0M980 2213h0M690 2017h0M860 2076h0M822 2021h0M713 2101h0M501 2385h0M1070 2279h0M946 2392h0M717 2067h0M451 2274h0M579 1960h0M767 2259h0M803 2466h0M498 2389h0M731 2230h0M954 1935h0M679 2410h0M808 2423h0M558 2388h0M990 2278h0M527 2004h0M926 2208h0M1000 2223h0M721 2426h0M987 2019h0M1001 2229h0M715 1845h0M579 2136h0M699 1889h0M717 2369h0M442 2327h0M460 2161h0M885 1883h0M821 2363h0M838 2110h0M745 1960h0M988 2281h0M751 1940h0M904 2482h0M999 2050h0M601 2350h0M747 2086h0M652 2130h0M1069 2266h0M476 2198h0M907 2281h0M446 2326h0M432 2239h0M933 2085h0M742 2249h0M864 2321h0M891 2269h0M737 2351h0M903 2204h0M597 1993h0M1058 2318h0M941 2125h0M951 2247h0M589 2128h0M700 2056h0M608 2032h0M709 2262h0M943 2245h0M619 2185h0M457 2296h0M947 1977h0M982 2263h0M654 1976h0M774 1933h0M816 2223h0M613 1989h0M697 2084h0M646 2244h0M939 2011h0M564 1982h0M761 2215h0M990 2049h0M904 2422h0M732 2063h0M1024 2229h0M619 2388h0M489 2187h0M933 2026h0M816 2498h0M1001 2023h0M999 2093h0M803 2020h0M477 2343h0M916 2243h0M356 2137h0M683 2469h0M642 1966h0M641 2223h0M679 1925h0M1077 2178h0M907 1958h0M792 2381h0M992 2455h0M601 2047h0M511 1975h0M975 2016h0M672 2364h0M689 1842h0M850 2359h0M938 1985h0M639 2022h0M848 2313h0M832 2450h0M612 2079h0M977 1937h0M549 2074h0M649 2036h0M508 1997h0M683 2387h0M537 1976h0M726 2247h0M915 2027h0M845 1995h0M496 2350h0M561 2037h0M928 2482h0M916 2012h0M509 2378h0M1047 2240h0M500 2023h0M942 2225h0M977 2279h0M815 2366h0M1012 2270h0M511 2048h0M502 2488h0M914 2271h0M689 2055h0M668 2229h0M811 2074h0M726 2245h0M987 1977h0M717 2157h0M934 2076h0M808 2364h0M928 2430h0M494 2388h0M616 1938h0M466 2301h0M502 2372h0M820 2249h0M945 2294h0M1005 2021h0M746 2017h0M649 2016h0M607 2292h0M915 1992h0M974 1976h0M1012 2221h0M507 2067h0M985 1962h0M921 2032h0M651 2300h0M934 2105h0M837 2473h0M999 1965h0M1015 1974h0M645 2054h0M944 2388h0M829 2553h0M626 2375h0M1022 2374h0M732 1903h0M918 2267h0M911 2407h0M776 2353h0M634 2306h0M819 2518h0M440 2323h0M942 2238h0M602 1938h0M682 1949h0M1035 2264h0M833 2020h0M616 2137h0M568 2042h0M816 2240h0M896 2475h0M874 2497h0M497 2168h0M895 2222h0M751 1956h0M763 2425h0M539 2026h0M1024 2405h0M963 2095h0M596 2094h0M806 2004h0M1021 2008h0M704 1839h0M797 2304h0M931 2453h0M698 1891h0M432 2163h0M416 1988h0M1009 2060h0M816 2402h0M993 2065h0M634 2491h0M708 2014h0M655 1927h0M498 2035h0M644 2400h0M1004 2038h0M731 2038h0M655 2410h0M831 2055h0M978 1967h0M919 2043h0M999 2460h0M712 1975h0M786 2528h0M770 2248h0M820 2363h0M749 2238h0M835 2238h0M733 2054h0M445 2326h0M971 1947h0M461 2289h0M630 2464h0M530 2380h0M744 2071h0M817 2389h0M830 2475h0M1064 2282h0M695 2217h0M928 2282h0M681 2512h0M716 2298h0M591 2114h0M702 1937h0M538 2420h0M968 2222h0M746 1908h0M825 2446h0M949 2085h0M926 2427h0M779 2377h0M585 1962h0M746 2311h0M976 1965h0M676 2333h0M951 2476h0M958 2455h0M564 1990h0M793 2065h0M682 2244h0M499 2383h0M746 2271h0M680 2344h0M1063 2282h0M760 2398h0M738 1923h0M635 2241h0M513 2312h0M729 2203h0M628 2157h0M764 2223h0M523 2370h0M433 2316h0M446 2363h0M492 2313h0M918 2488h0M471 2361h0M441 2252h0M458 2302h0M651 2485h0M565 2401h0M654 2276h0M543 1960h0M813 2007h0M548 2355h0M577 2061h0M810 2510h0M693 2310h0M782 2339h0M488 2488h0M919 1984h0M990 1977h0M663 2234h0M482 2316h0M943 1936h0M510 2296h0M650 2495h0M577 1965h0M733 2286h0M989 2045h0M919 2113h0M1005 2214h0M782 2233h0M1008 2025h0M626 2182h0M470 2042h0M844 2086h0M982 2483h0M676 1904h0M953 2272h0M935 2039h0M821 2220h0M615 2476h0M698 2290h0M517 2299h0M623 2493h0M746 2000h0M514 2339h0M975 2488h0M488 2368h0M791 2060h0M1044 2244h0M1089 2173h0M969 1949h0M497 2330h0M803 2319h0M992 1941h0M540 2071h0M974 2210h0M470 2272h0M544 2387h0M820 2118h0M720 2107h0M999 2210h0M959 2090h0M651 1891h0M602 1954h0M949 2115h0M551 2308h0M1106 2159h0M988 2071h0M1010 2069h0M971 2248h0M974 2285h0M752 2043h0M649 2386h0M642 2378h0M816 2302h0M919 2186h0M504 2337h0M982 2099h0M728 1898h0M913 2027h0M620 2491h0M456 2380h0M898 2405h0M710 2247h0M528 2308h0M514 2341h0M687 2207h0M612 2528h0M1014 2250h0M487 2296h0M685 1850h0M1049 2246h0M809 2564h0M999 1955h0M809 2344h0M987 2096h0M810 1941h0M725 2153h0M926 2102h0M722 2314h0M650 1871h0M733 2010h0M911 1946h0M548 2064h0M493 2346h0M706 2402h0M919 1956h0M851 2469h0M564 2082h0M660 2437h0M958 2206h0M682 1937h0M641 2236h0M930 1964h0M655 2010h0M525 2392h0M484 2008h0M591 2007h0M503 2161h0M482 2163h0M489 2197h0M755 2254h0M734 2355h0M626 2009h0M840 2238h0M596 2005h0M988 1998h0M905 1991h0M911 2019h0M744 2380h0M811 2012h0M1015 2240h0M692 1910h0M991 1966h0M997 2233h0M1077 2180h0M755 2423h0M948 1997h0M931 2229h0M892 1891h0M945 2009h0M636 2215h0M928 2098h0M645 2355h0M1008 2289h0M411 1973h0M564 1980h0M973 2055h0M507 2399h0M992 2095h0M427 2147h0M1068 2150h0M935 2294h0"/>
<path stroke="#fbecf0" d="M799 2133h0M949 2026h0M932 2268h0M548 2327h0M615 2194h0M678 2334h0M466 2370h0M509 2273h0M815 2120h0M670 1963h0M873 2451h0M756 2349h0M507 1988h0M753 2242h0M978 2021h0M1053 2253h0M922 2183h0M628 2056h0M782 2150h0M476 2146h0M919 1977h0M804 2463h0M758 2105h0M677 1967h0M512 2391h0M612 2287h0M597 2039h0M981 2258h0M535 2073h0M474 2144h0M577 2017h0M911 1988h0M946 2398h0M788 2150h0M643 2173h0M635 2274h0M559 2387h0M1077 2157h0M971 2469h0M524 2284h0M639 2533h0M823 2230h0M637 2038h0M737 1982h0M786 2235h0M601 2354h0M690 2295h0M720 2237h0M508 2195h0M961 2224h0M469 2301h0M659 1888h0M540 2298h0M847 2284h0M649 2243h0M749 1994h0M490 2049h0M903 2198h0M415 2187h0M685 1876h0M922 2198h0M842 2224h0M609 2267h0M448 2236h0M1008 1976h0M990 2414h0M792 2107h0M1046 2279h0M524 2306h0M994 1987h0M727 2116h0M783 2348h0M841 2513h0M436 2355h0M522 2404h0M434 2144h0M707 1916h0M1043 2256h0M920 2015h0M963 1964h0M437 2175h0M693 1985h0M592 2045h0M636 1973h0M719 2229h0M694 2520h0M444 2253h0M1062 2301h0M677 1846h0M913 2284h0M1007 2274h0M985 2407h0M675 2009h0M1010 2213h0M934 2190h0M671 2348h0M537 2327h0M492 2207h0M725 1898h0M864 2308h0M906 1949h0M880 2215h0M1028 2293h0M918 2083h0M797 2508h0M1015 1975h0M706 2098h0M1067 2316h0M512 2032h0M922 1940h0M649 1956h0M1024 2262h0M541 2285h0M750 1903h0M745 2343h0M690 2309h0M806 2291h0M533 2024h0M739 1970h0M642 2207h0M829 1982h0M973 2231h0M924 2018h0M541 2049h0M685 2282h0M832 2083h0M748 1955h0M914 2480h0M854 2345h0M564 2054h0M916 2299h0M438 2358h0M937 2123h0M929 1973h0M917 2302h0M914 2266h0M658 1822h0M1004 2361h0M787 2033h0M717 2262h0M932 2094h0M860 2427h0M493 2221h0M619 2446h0M860 2301h0M620 2512h0M732 1977h0M434 2332h0M460 2211h0M423 2307h0M645 2099h0M622 2010h0M902 2488h0M698 2474h0M901 2028h0M819 2300h0M609 2480h0M718 1897h0M770 2419h0M661 2249h0M967 2207h0M557 1992h0M624 2136h0M822 2252h0M831 2043h0M610 2218h0M766 2366h0M515 2402h0M676 2540h0M859 2032h0M800 2394h0M911 2189h0M986 1964h0M915 2115h0M482 1995h0M647 1891h0M1003 2078h0M953 2272h0M481 2391h0M524 2010h0M918 2226h0M360 2129h0M609 1952h0M619 2377h0M469 2370h0M650 2042h0M629 2215h0M774 2268h0M644 2104h0M840 2457h0M706 1876h0M638 1879h0M740 2033h0M475 2039h0M798 1990h0M944 2095h0M641 2390h0M632 2139h0M783 2507h0M765 1941h0M967 1966h0M646 2436h0M757 2221h0M643 1908h0M666 1859h0M511 2339h0M710 1934h0M429 2332h0M923 1948h0M601 2124h0M975 1935h0M627 2127h0M925 2444h0M839 2393h0M461 2386h0M472 2386h0M625 2496h0M843 2320h0M939 2202h0M342 2114h0M806 2395h0M694 2286h0M812 1946h0M951 2134h0M967 1959h0M698 1926h0M702 2329h0M614 2337h0M551 2423h0M457 2187h0M925 2227h0M710 2405h0M543 2305h0M941 2470h0M701 1984h0M615 2228h0M1078 2312h0M950 1939h0M704 2201h0M485 2069h0M846 2509h0M972 1956h0M793 2275h0M798 2004h0M624 1918h0M540 2319h0M633 2394h0M740 2092h0M487 2496h0M475 2194h0M837 2359h0M679 2511h0M820 2264h0M987 2209h0M641 1886h0M485 2317h0M745 2314h0M912 2408h0M644 2368h0M1006 2044h0M925 2030h0M484 2004h0M827 2537h0M889 2256h0M686 1957h0M805 2042h0M707 1968h0M678 2207h0M623 2257h0M528 2063h0M651 2266h0M640 2320h0M1104 2176h0M976 2005h0M772 2256h0M968 1960h0M818 2229h0M1018 2381h0M980 2084h0M672 1853h0M995 2002h0M679 2125h0M702 2114h0M632 2219h0M957 2090h0M682 1827h0M910 2302h0M700 1864h0M622 2317h0M787 2280h0M993 1988h0M660 2449h0M646 2000h0M961 1939h0M796 2316h0M842 2386h0M690 1965h0M943 2099h0M960 2202h0M660 2255h0M775 1954h0M976 2520h0M833 2408h0M565 1982h0M831 2100h0M1046 2292h0M528 1998h0M797 2292h0M719 2281h0M1025 2277h0M972 1946h0M648 1890h0M1014 2239h0M683 2390h0M794 2238h0M947 2094h0M602 1987h0M1042 2246h0M901 2287h0M802 2304h0M736 1921h0M754 1865h0M459 2147h0M562 1969h0M416 1966h0M852 2378h0M503 2296h0M830 2085h0M655 2236h0M728 2052h0M643 2267h0M719 1960h0M729 2221h0M717 1884h0M772 2022h0M898 2203h0M472 2027h0M1009 2002h0M935 2036h0M951 2095h0M1078 2173h0M959 2293h0M792 1986h0M955 2131h0M940 2026h0M460 2390h0M951 2282h0M772 2215h0M785 2234h0M834 2233h0M901 2093h0M535 2371h0M1101 2173h0M674 2054h0M793 2295h0M772 2401h0M833 2036h0M720 2028h0M683 2101h0M597 2043h0M910 2148h0M447 2367h0M524 2341h0M1023 2285h0M703 2009h0M915 2080h0M527 2299h0M937 1991h0M794 2267h0M636 2283h0M745 2297h0M931 2201h0M670 2492h0M681 2384h0M824 2004h0M687 2483h0M784 2348h0M812 2103h0M817 2484h0M535 2307h0M627 2174h0M669 2064h0M836 2237h0M844 2252h0M701 2380h0M411 1958h0M925 2294h0M687 1973h0M657 2044h0M518 2325h0M698 2046h0M907 2114h0M841 2291h0M500 2022h0M876 1901h0M897 2452h0M617 2023h0M664 1982h0M704 2160h0M771 2341h0M660 2086h0M694 2200h0M899 2040h0M971 2260h0M965 1962h0M761 2071h0M978 2060h0M985 2098h0M956 2116h0M1013 2078h0M497 2388h0M653 2465h0M956 1947h0M680 2479h0M1017 2268h0M823 2263h0M757 1998h0M826 2118h0M903 2229h0M829 2473h0M698 1974h0M675 2434h0M553 1987h0M709 2202h0M958 2030h0M762 1916h0M696 2055h0M713 1966h0M980 2232h0M977 2115h0M676 2298h0M912 1960h0M749 2328h0M694 2034h0M993 1959h0M641 2281h0M831 1970h0M982 2212h0M688 2274h0M837 2333h0M751 2397h0M755 2224h0M583 1971h0M847 2340h0M911 2254h0M690 2123h0M546 2370h0M959 1982h0M827 2097h0M473 2352h0M1010 2377h0M766 2321h0M814 2050h0M750 2001h0M667 2352h0M490 2010h0M781 2121h0M689 2320h0M676 2290h0M720 2306h0M908 2093h0M524 1973h0M851 2260h0M598 1958h0M950 2444h0M456 2366h0M612 2360h0M736 1991h0M491 2314h0M657 1959h0M748 2425h0M436 2335h0M714 2029h0M801 2059h0M542 2380h0M899 2445h0M977 2265h0M525 1974h0M932 2017h0M741 2294h0M840 2397h0M459 2324h0M794 1921h0M828 1995h0M624 2158h0M784 2509h0M628 2516h0M903 1973h0M668 2543h0M986 2485h0M1033 2276h0M962 1975h0M765 2137h0M794 2221h0M736 2051h0M768 2409h0M985 2242h0M1056 2260h0M708 1830h0M533 2276h0M622 2466h0M899 2248h0M616 2000h0M602 2350h0M687 2149h0M904 2228h0M831 2453h0M669 2469h0M471 2281h0M828 2003h0M520 1990h0M922 2028h0M939 2011h0M820 2248h0M760 2282h0M577 2162h0M503 2010h0M1006 2022h0M641 1873h0M886 2481h0M450 2223h0M859 2075h0M639 2408h0M767 1931h0M840 2271h0M647 2064h0M691 2353h0M991 1949h0M798 2423h0M661 1849h0M899 2242h0M987 2218h0M640 2328h0M1000 2096h0M438 2252h0M634 2325h0M1029 2248h0M920 2519h0M455 2367h0M584 2156h0M904 1988h0M919 1998h0M1019 2459h0M618 2134h0M558 2355h0M906 2431h0M636 2275h0M885 2273h0M929 2115h0M800 1990h0M966 1957h0M920 2480h0M942 2015h0M652 2415h0M829 2226h0M442 2173h0M721 2042h0M663 2476h0M600 2285h0M467 2304h0M722 2159h0M903 1863h0M917 2198h0M843 2447h0M444 2253h0M712 1843h0M571 2097h0M630 2222h0M965 2010h0M600 2352h0M591 2065h0M790 2204h0M739 2000h0M710 2122h0M831 2304h0M776 2377h0M449 2291h0M675 2516h0M565 2142h0M904 2453h0M667 2059h0M931 2284h0M911 2134h0M974 2114h0M930 1964h0M645 2196h0M446 2242h0M678 2451h0M778 2522h0M1092 2177h0M629 1929h0M471 2305h0M442 2257h0M824 2310h0M660 2486h0M617 2218h0M693 2025h0M614 1989h0M835 2468h0M701 1863h0M980 2459h0M773 1971h0M709 2248h0M634 2448h0M405 1962h0M492 2335h0M501 2330h0M912 2148h0M808 2128h0M834 2377h0M693 2077h0M661 1939h0M922 2302h0M572 2053h0M704 2504h0M835 2004h0M653 2472h0M645 2448h0M679 2454h0M767 2341h0M700 2369h0M424 2256h0M632 1930h0M864 2471h0M1003 2442h0M834 2119h0M678 1881h0M662 2115h0M622 2129h0M627 1888h0M647 2478h0M900 2254h0M479 2347h0M509 2198h0M830 2310h0M713 1946h0M909 2185h0M534 2276h0M608 2105h0M638 2086h0M792 2427h0M772 2248h0M639 2326h0M916 2242h0M729 1874h0M835 2416h0M630 2361h0M609 2277h0M735 2347h0M854 2305h0M804 2096h0M764 1940h0M721 2270h0M713 1936h0M424 2265h0M538 2309h0M688 2268h0M960 1991h0M882 2237h0M940 2127h0M612 2307h0M816 2532h0M809 1993h0M834 2371h0M558 2316h0M635 1857h0M544 2293h0M641 2191h0M995 2500h0M913 1954h0M613 1930h0M684 2092h0M820 2139h0M957 2229h0M679 1950h0M957 1944h0M424 2256h0M880 2514h0M677 2453h0M534 2302h0M839 2320h0M548 1978h0M753 2002h0M950 2089h0M785 2007h0M635 2202h0M923 2265h0M978 2487h0M687 1981h0M546 2324h0M537 2369h0M487 1991h0M874 2465h0M524 2369h0M535 2043h0M741 2394h0M636 2448h0M920 1979h0M951 2368h0M615 1953h0M666 2252h0M424 2161h0M652 1989h0M950 2197h0M452 2366h0M669 2128h0M483 2000h0M759 2234h0M655 2492h0M633 2408h0M806 2467h0M777 2010h0M450 2258h0M483 2068h0M962 1954h0M518 2281h0M866 2274h0M461 2213h0M682 1898h0M971 2448h0M594 1953h0M928 2049h0M512 2348h0M831 2395h0M617 2122h0M713 2416h0M743 2312h0M900 2098h0M440 2230h0M629 1962h0M912 2208h0M447 2292h0M491 2287h0M912 2021h0M778 2406h0M445 2332h0M452 2280h0M889 1907h0M919 2112h0M910 2064h0M992 2252h0M753 1883h0M755 2407h0M768 2370h0M653 2326h0M772 1953h0M792 2390h0M649 1936h0M614 2028h0M840 2549h0M725 2234h0M943 2045h0M672 2413h0M948 2243h0M888 2213h0M560 2123h0M634 1982h0M929 2127h0M1015 1992h0M830 2280h0M684 2092h0M945 2110h0M560 2023h0M921 2000h0M671 2248h0M918 2492h0M926 1965h0M671 2333h0M451 2379h0M729 2232h0M881 2490h0M923 2222h0M559 1961h0M1019 2024h0M432 2151h0M723 2059h0M868 2425h0M1013 1990h0M1006 2503h0M642 2090h0M956 2097h0M907 1961h0M659 2398h0M638 1848h0M690 2358h0M890 2204h0M970 2417h0M518 2017h0M514 2299h0M698 2271h0M947 2369h0M568 2059h0M909 2255h0M849 2304h0M508 2377h0M898 2140h0M834 2052h0M803 1984h0M818 2348h0M642 2305h0M523 2397h0M897 2109h0M639 2037h0M637 2310h0M954 2266h0M772 2413h0M421 2224h0M502 1984h0M632 2271h0M683 2110h0M812 2344h0M675 2439h0M660 2111h0M686 2282h0M970 2028h0M758 2062h0M833 2381h0M436 2181h0M633 2186h0M690 2025h0M948 2252h0M604 2494h0M559 2318h0M1073 2318h0M783 2247h0M953 2018h0M814 2306h0M1003 2276h0M956 2222h0M1000 2241h0M721 1943h0M660 2525h0M721 2072h0M734 1855h0M980 2053h0M750 1869h0M693 1918h0M913 2135h0M735 2118h0M813 2465h0M992 2291h0M702 1913h0M988 2021h0M489 2290h0M698 2223h0M821 2244h0M778 2281h0M714 2055h0M995 2087h0M1019 1981h0M453 2350h0M760 2147h0M704 2338h0M465 2134h0M986 1991h0M477 2197h0M551 2007h0M997 1993h0M445 2317h0M751 2236h0M585 2010h0M689 2157h0M481 2289h0M1042 2242h0M438 2343h0M430 1964h0M790 2494h0M1078 2275h0M673 1991h0M739 1895h0M691 2282h0M900 2460h0M827 1997h0M725 1942h0M905 2088h0M748 2370h0M619 2139h0M695 1946h0M636 2196h0M899 2038h0M893 1878h0M788 2020h0M850 2070h0M432 2280h0M1077 2305h0M499 2311h0M997 2266h0M715 2067h0M454 2323h0M666 2063h0M841 2400h0M933 1948h0M705 1985h0M342 2116h0M1040 2291h0M914 1872h0M690 2106h0M797 2549h0M1005 2013h0M432 2168h0M717 2118h0M790 2288h0M744 2295h0M766 2314h0M864 2284h0M914 1882h0M446 2342h0M445 2244h0M773 2263h0M772 2423h0M603 2100h0M995 2035h0M935 2000h0M977 2270h0M1018 2002h0M672 2079h0M683 1878h0M996 2027h0M1054 2259h0M962 2239h0M963 2140h0M766 2290h0M659 2035h0M913 2192h0M916 2039h0M627 2501h0M836 1992h0M984 2068h0M648 2127h0M739 2279h0M939 2056h0M969 2131h0M977 2023h0M649 2528h0M708 2334h0M453 2258h0M884 2196h0M825 2217h0M764 1887h0M851 2073h0M504 2485h0M981 2073h0M675 1904h0M584 2135h0M679 1966h0M1023 2268h0M617 2091h0M598 2112h0M635 2484h0M516 2377h0M664 1875h0M721 2228h0M467 2327h0M981 2252h0M831 2475h0M775 2270h0M1073 2149h0M950 2200h0M718 2327h0M723 2134h0M418 2165h0M836 2108h0M980 2263h0M430 2261h0M766 2244h0M546 2296h0M934 2255h0M914 2020h0M615 1973h0M706 2409h0M761 2271h0M1002 2095h0M917 2216h0M662 2324h0M950 2390h0M831 2500h0M649 2383h0M508 1982h0M503 2499h0M613 2363h0M521 2388h0M741 2233h0M1056 2264h0M692 2202h0M518 2056h0M506 2348h0M925 2011h0M1041 2258h0M653 2534h0M645 2287h0M451 2278h0M679 2350h0M987 2073h0M945 2041h0M489 2392h0M600 2019h0M781 2254h0M638 2089h0M669 2512h0M817 1995h0M706 2038h0M695 2157h0M899 2269h0M965 2428h0M716 2148h0M1025 2285h0M915 2254h0M762 2103h0M492 2166h0M928 2078h0M968 2127h0M896 2118h0M946 2233h0M476 2360h0M637 2201h0M784 2419h0M625 1960h0M946 2110h0M885 1906h0M719 1875h0M750 2090h0M693 2080h0M866 2449h0M451 2339h0M722 2361h0M621 2298h0M1071 2279h0M993 1971h0M967 2284h0M999 2095h0M933 2017h0M762 1974h0M675 1981h0M955 2397h0M838 2280h0M461 2332h0M442 2201h0M498 2358h0M476 2178h0M463 2281h0M510 2302h0M987 1969h0M820 2525h0M739 2395h0M497 2378h0M643 1916h0M589 2087h0M495 2014h0M911 2457h0M683 1936h0M655 2525h0M1076 2274h0M655 2147h0M754 2154h0M647 2062h0M615 2322h0M731 2230h0M667 1877h0M1069 2281h0M966 2222h0M635 2264h0M793 2269h0M494 2294h0M528 2393h0M970 2285h0M425 2257h0M659 2055h0M920 1980h0M618 1943h0M848 2100h0M543 2017h0M498 2368h0M796 2389h0M745 2013h0M623 2180h0M808 2266h0M834 2251h0M948 1954h0M437 1942h0M521 2226h0M965 2468h0M974 2013h0M653 1925h0M707 2260h0M470 2367h0M574 1950h0M564 2368h0M851 2348h0M607 2076h0M608 2019h0M949 2047h0M683 1990h0M571 2012h0M795 2103h0M855 2374h0M989 2110h0M589 2130h0M705 2077h0M497 2496h0M691 2267h0M1034 2295h0M514 2488h0M510 2340h0M973 2245h0M934 2037h0M434 2233h0M656 2110h0M700 2477h0M695 2299h0M735 2396h0M509 1986h0M739 2083h0M786 2264h0M1007 2242h0M978 2053h0M961 2231h0M691 2268h0M956 2013h0M915 2056h0M949 2004h0M899 2188h0M1001 2051h0M439 2370h0M762 2048h0M770 2124h0M534 2422h0M986 1938h0M651 2517h0M653 2300h0M645 2018h0M1096 2133h0M802 2366h0M603 2134h0M905 2109h0M425 2324h0M978 2122h0M603 2072h0M902 2248h0M694 2471h0M904 1953h0M752 2403h0M605 2337h0M717 1876h0M771 1998h0M753 2318h0M661 2296h0M667 1936h0M741 1939h0M676 2275h0M1026 2244h0M868 2495h0M1016 2261h0M949 2472h0M637 2343h0M641 2125h0M647 2470h0M912 2036h0M624 1899h0M759 2431h0M632 2318h0M685 2488h0M913 2399h0M937 2010h0M648 1870h0M558 2367h0M500 2293h0M593 2057h0M976 2263h0M978 2002h0M686 1938h0M678 2223h0M668 1978h0M656 2368h0M916 2051h0M850 2263h0M676 2248h0M556 1982h0M494 2059h0M754 2025h0M760 1916h0M594 1993h0M794 2544h0M445 2342h0M501 2070h0M1072 2287h0M986 2002h0M929 2218h0M920 2104h0M459 2373h0M461 2294h0M729 2375h0M547 2344h0M657 2023h0M517 2054h0M500 2356h0M997 2044h0M570 1958h0M912 1942h0M1072 2301h0M742 2386h0M911 2221h0M697 2278h0M951 2251h0M818 2381h0M1032 2234h0M643 2234h0M1008 2033h0M937 2453h0M426 2232h0M850 2059h0M1012 1992h0M489 2152h0M615 2273h0M923 2147h0M739 2414h0M595 2123h0M634 1879h0M673 2377h0M720 2289h0M741 1924h0M988 2102h0M717 2134h0M977 2071h0M916 2044h0M935 2132h0M733 1870h0M944 2213h0M479 2283h0M449 2330h0M786 2063h0M477 2026h0M681 2446h0M638 2337h0M498 2339h0M937 2515h0M808 2059h0M660 2308h0M670 1932h0M511 2220h0M777 2092h0M819 1967h0M777 2404h0M805 2266h0M926 2247h0M1040 2261h0M955 2272h0M513 2077h0M654 2194h0M506 2492h0M980 2036h0M1014 2077h0M739 2231h0M1001 2229h0M765 2319h0M925 2214h0M908 1948h0M906 2049h0M938 1952h0M768 2300h0M990 2238h0M576 2059h0M893 2475h0M853 2050h0M759 1900h0M722 2068h0M949 2486h0M490 2391h0M986 1997h0M1035 2267h0M634 2459h0M982 2228h0M488 2268h0M1020 2279h0M723 2371h0M907 2148h0M719 2296h0M791 2148h0M637 2488h0M654 2019h0M530 2062h0M899 2256h0M419 2193h0M653 2301h0M676 2411h0M590 2024h0M530 2389h0M785 2304h0M641 1866h0M636 1973h0M986 2276h0M755 1990h0M924 1975h0M802 2071h0M719 2346h0M830 2474h0M689 2204h0M997 1952h0M356 2137h0M437 2282h0M741 2426h0M969 1986h0M963 1994h0M734 2419h0M743 2313h0M683 2129h0M981 2010h0M492 1997h0M801 2308h0M826 2270h0M751 1967h0M937 2445h0M1011 1969h0M539 2061h0M736 1858h0M810 2110h0M425 2279h0M861 2304h0M659 1845h0M652 2497h0M668 2205h0M965 2366h0M1007 1970h0M861 2048h0M821 2220h0M898 1866h0M655 2046h0M907 2244h0M715 2056h0M806 2234h0M470 2137h0M632 2514h0M985 2028h0M509 1982h0M633 2214h0M689 2478h0M505 2363h0M502 2507h0M720 2373h0M716 1846h0M643 2292h0M1000 2399h0M902 2447h0M679 1940h0M689 1969h0M909 1942h0M695 2376h0M443 2181h0M990 1944h0M905 2246h0M695 1907h0M576 2128h0M678 2455h0M567 2074h0M722 2379h0M426 2313h0M559 2343h0M774 1981h0M435 2231h0M850 2293h0M661 2463h0M964 1943h0M750 2063h0M552 2417h0M614 2505h0M681 1863h0M902 1987h0M617 2452h0M1019 1981h0M566 2405h0M697 2333h0M943 2098h0M647 2499h0M836 2372h0M719 2352h0M475 2358h0M949 2296h0M791 1911h0M632 1942h0M882 2221h0M729 1909h0M1035 2228h0M636 2114h0M767 2159h0M814 2276h0M445 2326h0M349 2136h0M913 1960h0M632 2310h0M953 2033h0M973 1979h0M942 2211h0M429 2352h0M974 2289h0M653 2506h0M547 2390h0M880 2216h0M818 2474h0M639 2234h0M752 1915h0M767 2118h0M779 1981h0M786 1941h0M725 1874h0M681 2406h0M939 2279h0M925 2208h0M1087 2138h0M1002 2016h0M671 1949h0M741 2399h0M917 2217h0M611 2093h0M856 2434h0M673 2239h0M712 1884h0M727 1961h0M538 2329h0M750 2136h0M926 2014h0M603 2039h0M1022 2278h0M830 2096h0M709 2252h0M716 1855h0M972 1971h0M639 2498h0M912 1863h0M651 2317h0M795 2302h0M616 2331h0M1002 2076h0M426 2162h0M710 2243h0M729 2034h0M652 2374h0M1062 2276h0M1093 2177h0M503 2331h0M627 2346h0M582 1987h0M843 2331h0M698 2236h0M983 1978h0M457 2185h0M906 2030h0M558 2341h0M597 2141h0M939 1979h0M505 1973h0M1036 2251h0M905 1858h0M922 2024h0M447 2278h0M727 1884h0M531 1980h0M531 2282h0M677 2384h0M942 2261h0M752 2010h0M988 1998h0M619 2163h0M560 2129h0M836 2267h0M782 2517h0M954 2014h0M632 2223h0M652 2234h0M621 2208h0M649 1920h0M782 2031h0M634 2448h0M982 2285h0M905 1973h0M915 2201h0M485 2075h0M766 2122h0M769 1938h0M1003 1950h0M514 2171h0M619 2129h0M991 2079h0M670 1923h0M512 2496h0M904 1973h0M419 2272h0M496 2166h0M718 2317h0M1011 2451h0M638 2399h0M756 2208h0M567 2149h0M517 2314h0M953 2223h0M506 2474h0M982 1942h0M916 2262h0M549 2296h0M585 2023h0M603 2185h0M684 2203h0M636 2350h0M746 1888h0M492 2070h0M999 2462h0M489 2267h0M884 1907h0M583 2070h0M748 1987h0M834 2029h0M715 2417h0M897 2049h0M605 2143h0M652 2070h0M938 2133h0M677 2445h0M576 2020h0M703 1827h0M687 2403h0M763 2277h0M714 2250h0M845 2102h0M1052 2250h0M606 2242h0M622 2230h0M482 2380h0M936 2103h0M690 1907h0M523 2329h0M785 2001h0M833 2386h0M805 2339h0M588 2100h0M522 2407h0M637 2438h0M764 2424h0M984 1946h0M598 2480h0M567 2020h0M792 2141h0M800 1967h0M609 2275h0M989 2212h0M955 2076h0M816 2533h0M471 2328h0M991 2072h0M782 2143h0M675 2215h0M765 2097h0M746 2374h0M549 2307h0M935 2194h0M960 2508h0M813 2088h0M909 2226h0M668 1892h0M733 1940h0M469 2363h0M952 2250h0M851 2066h0M575 2021h0M742 2396h0M974 2488h0M545 2384h0M569 1958h0M557 2393h0M514 2336h0M439 2306h0M432 2313h0M522 2401h0M842 2055h0M570 2118h0M908 1868h0M467 2338h0M457 2240h0M861 2302h0M978 2272h0M815 2091h0M447 2354h0M771 1978h0M606 2301h0M631 2057h0M1061 2248h0M729 2336h0M915 2049h0M980 2027h0M630 2053h0M997 2288h0M687 1823h0M925 2060h0M601 2129h0M426 2233h0M860 2302h0M612 2374h0M990 2016h0M559 2369h0M799 2409h0M794 2300h0M555 2316h0M825 1959h0M932 2208h0M636 2377h0M610 2202h0M438 1927h0M720 2237h0M963 1946h0M467 2221h0M991 1951h0M423 2195h0M628 1937h0M802 2327h0M658 1853h0M920 2075h0M950 2285h0M555 2076h0M960 2071h0M735 2390h0M899 2029h0M903 2050h0M852 2107h0M881 1876h0M760 2029h0M1016 1995h0M980 2255h0M1054 2271h0M444 2295h0M597 2156h0M929 2043h0M721 1983h0M1000 2239h0M917 1979h0M962 2259h0M860 2073h0M928 2194h0M919 2032h0M892 2213h0M459 2194h0M783 2145h0M728 2142h0M1029 2294h0M734 1871h0M996 2208h0M990 2073h0M736 2147h0M742 2055h0M585 2068h0M957 1987h0M661 2413h0M951 1965h0M822 2076h0M517 1992h0M1020 2452h0M493 2023h0M790 2420h0M923 1901h0M564 2401h0"/>
<path stroke="#f8dee5" d="M949 2286h0M528 2395h0M939 2106h0M973 2262h0M906 2079h0M609 1933h0M999 2288h0M574 2000h0M478 2315h0M961 1931h0M958 2005h0M930 2219h0M980 2103h0M594 2068h0M914 2185h0M607 2097h0M707 2072h0M766 1894h0M772 2049h0M970 2206h0M769 2019h0M1056 2254h0M1053 2242h0M886 2487h0M704 2004h0M687 2008h0M951 2208h0M340 2125h0M719 1926h0M527 2070h0M838 2124h0M975 2402h0M977 2005h0M998 2059h0M604 2161h0M528 2300h0M735 2045h0M487 2363h0M942 2003h0M959 2451h0M835 2469h0M814 2115h0M1032 2302h0M996 1940h0M712 2074h0M726 1850h0M770 2005h0M938 2070h0M883 2230h0M995 2227h0M977 2048h0M759 2150h0M819 2121h0M774 2012h0M766 2252h0M617 2507h0M967 2220h0M496 2308h0M1052 2298h0M606 2494h0M796 2371h0M647 2472h0M765 2304h0M1061 2288h0M891 2264h0M985 2120h0M1002 1954h0M930 1986h0M488 2501h0M620 2325h0M706 1984h0M741 2047h0M639 2256h0M996 2426h0M988 2028h0M673 1868h0M600 1979h0M1084 2159h0M888 2434h0M1049 2240h0M727 2402h0M649 1838h0M719 2310h0M630 2033h0M436 2351h0M1017 1977h0M958 2220h0M509 2028h0M1080 2297h0M722 1973h0M777 2403h0M900 2047h0M1002 2269h0M623 2334h0M881 2193h0M663 2032h0M780 2082h0M781 2040h0M628 2222h0M702 1936h0M599 2009h0M632 1975h0M726 1886h0M924 1964h0M823 2508h0M498 1984h0M897 2225h0M980 2031h0M832 2020h0M662 2091h0M732 1960h0M678 1980h0M947 2214h0M705 2100h0M912 1945h0M766 1945h0M485 2206h0M1013 2055h0M996 2039h0M967 2126h0M575 2140h0M585 1953h0M507 1973h0M695 1901h0M1003 2058h0M689 1932h0M976 2371h0M652 2209h0M701 1906h0M973 1988h0M485 2075h0M654 1992h0M558 1989h0M502 1985h0M606 2152h0M463 2135h0M600 2028h0M662 1921h0M609 2100h0M818 2479h0M689 2250h0M1029 2251h0M506 2326h0M893 1871h0M774 2222h0M779 1923h0M833 2057h0M746 1996h0M910 2128h0M601 1972h0M740 1972h0M588 2064h0M802 2027h0M798 2094h0M804 2067h0M1105 2139h0M951 2461h0M576 2035h0M475 2227h0M667 2085h0M908 1908h0M638 2374h0M677 1914h0M883 1879h0M941 2454h0M912 1997h0M650 2465h0M934 2444h0M576 1984h0M816 2396h0M1076 2147h0M644 2007h0M932 2264h0M807 2028h0M613 2078h0M690 2067h0M950 2005h0M1016 2398h0M924 2149h0M944 2269h0M500 2272h0M968 2022h0M774 2251h0M907 2234h0M567 2147h0M785 2099h0M928 1972h0M639 2079h0M1027 2283h0M730 1897h0M534 2421h0M735 2099h0M688 1920h0M779 2000h0M430 2332h0M645 2512h0M709 2089h0M1038 2301h0M623 2222h0M719 2046h0M639 2145h0M716 1914h0M994 2073h0M960 1933h0M943 2032h0M1062 2288h0M810 2091h0M982 1996h0M980 2277h0M619 2232h0M896 1892h0M651 2122h0M662 2172h0M668 1888h0M991 1958h0M1016 2275h0M809 2142h0M627 2045h0M667 2348h0M1007 2014h0M674 2159h0M661 1835h0M643 2209h0M951 2261h0M944 2015h0M625 2460h0M613 2109h0M594 1957h0M968 2232h0M956 2391h0M800 1939h0M918 2262h0M479 2164h0M761 2058h0M759 2119h0M670 2112h0M883 2271h0M518 2065h0M721 1917h0M640 2125h0M691 1922h0M579 1961h0M991 1942h0M556 2326h0M629 2059h0M964 2423h0M452 2338h0M868 1882h0M838 2391h0M696 1950h0M609 1986h0M621 2120h0M910 1960h0M907 2243h0M342 2124h0M839 1985h0M432 2220h0M959 1970h0M976 2284h0M608 2166h0M678 2376h0M940 2204h0M963 1960h0M932 2287h0M630 2501h0M926 2213h0M692 1848h0M669 2522h0M570 2114h0"/>
<path stroke="#f5d0db" d="M582 2024h0M720 2413h0M701 2100h0M796 2484h0M606 1937h0M955 2270h0M739 2024h0M940 1961h0M756 1995h0M802 2067h0M971 2483h0M810 2033h0M913 2278h0M889 2253h0M951 2484h0M665 2390h0M983 2101h0M907 2202h0M449 2286h0M684 2074h0M587 1987h0M667 1884h0M922 2204h0M625 2032h0M673 2112h0M1097 2156h0M684 2087h0M775 1909h0M644 2385h0M790 2054h0M1000 2271h0M994 2248h0M525 2288h0M626 1927h0M465 2380h0M997 1974h0M769 1939h0M641 2012h0M940 1995h0M568 2003h0M541 2295h0M526 2279h0M523 1995h0M939 2044h0M553 2028h0M458 2372h0M653 2043h0M812 2305h0M1035 2256h0M857 2323h0M980 2054h0M654 2243h0M729 2087h0M741 2083h0M565 1992h0M1006 2058h0M989 2269h0M765 2273h0M924 2235h0M908 2131h0M611 2194h0M653 2111h0M448 2200h0M670 1902h0M1008 2369h0M847 2461h0M811 2316h0M987 2487h0M744 1933h0M901 2144h0M942 2261h0M910 2060h0M1019 2221h0M939 2284h0M777 2132h0M925 2117h0M772 2400h0M810 1964h0M597 2019h0M924 1992h0M492 2213h0M497 2011h0M695 2482h0M705 1995h0M762 1925h0M1067 2305h0M531 1963h0M819 2491h0M627 2225h0M872 2487h0M520 2072h0M731 1858h0M978 2100h0M693 2112h0M774 1895h0M792 2020h0M842 2463h0M640 2137h0M988 2520h0M542 2287h0M582 2149h0M785 2043h0M511 2320h0M818 2265h0M535 1979h0M896 2240h0M550 2329h0M887 2281h0M778 2000h0M915 2416h0M478 2282h0M642 1860h0M479 2144h0M785 2383h0M507 2046h0M902 2096h0M881 2487h0M498 2031h0M935 2068h0M932 1957h0M1008 2242h0M672 2086h0M917 2084h0M905 2294h0M582 2144h0M738 2408h0M636 2082h0M591 2034h0M736 2403h0M432 2261h0M951 2070h0M925 2023h0M528 2018h0M1026 2276h0M508 2321h0M985 2116h0M529 1977h0M640 1979h0M647 2156h0M921 2040h0M990 2053h0M593 2135h0M999 2399h0M612 2126h0M462 2327h0M1042 2234h0M749 1870h0M993 2280h0M628 2024h0M733 1877h0M617 2125h0M694 1991h0M614 2021h0M707 2108h0M971 2291h0M488 2336h0M990 1951h0M1015 1967h0M918 2244h0M931 2261h0M947 2383h0M634 2038h0M908 2109h0M408 1978h0M558 1975h0M662 2347h0M706 2213h0M955 2449h0M600 2182h0M466 2345h0M993 2241h0M845 2392h0M987 2083h0M954 2258h0M706 2306h0M958 2096h0M766 2020h0M944 2004h0M801 2349h0M601 1960h0M519 1980h0M920 2269h0M983 2118h0M1008 2064h0M707 2012h0M581 2096h0M894 2459h0M915 2034h0M599 1998h0M1065 2315h0M870 2503h0M481 2299h0M1026 2239h0M1004 1973h0M739 1995h0M994 2404h0M934 1971h0M951 2000h0M984 2118h0M688 1925h0M624 2194h0M728 1935h0M794 2139h0M805 2565h0M732 2112h0M974 2460h0M620 2193h0M888 2254h0M677 2452h0M704 2036h0M626 2185h0M525 2299h0M701 1959h0M954 2281h0M804 1987h0M823 2307h0M968 2236h0M961 2474h0M656 2510h0M530 2374h0M992 2245h0M580 2022h0M690 2198h0M828 1965h0M650 2169h0M786 2112h0M1013 2227h0M611 1962h0M973 1995h0M519 2011h0M705 1893h0M890 2284h0M898 2039h0M801 2422h0M669 2114h0M1007 2005h0M738 2029h0M900 2003h0M959 2071h0M972 2451h0M852 2480h0M1077 2299h0M586 2033h0M696 1915h0M521 2057h0M715 1858h0M960 2251h0M936 1943h0M836 2491h0M897 2075h0M855 2070h0M721 1988h0M618 2114h0M821 2411h0M1001 1963h0M658 2231h0M805 2127h0M422 1941h0M614 2207h0M683 2071h0M952 2086h0M422 2183h0M910 1875h0M677 1879h0M638 2410h0M510 1974h0M978 2027h0M619 2117h0M548 1997h0M1013 2054h0M766 1977h0M963 1989h0M579 2035h0M552 2025h0M823 2255h0M849 2475h0M915 1972h0"/>
<path stroke="#f2c1d0" d="M623 2239h0M614 1956h0M680 2443h0M630 1873h0M720 2374h0M831 2220h0M940 2147h0M1007 1974h0M1000 2072h0M647 1830h0M658 2415h0M931 2050h0M780 1999h0M911 2085h0M698 1979h0M1077 2290h0M998 2003h0M466 2035h0M971 2248h0M526 2040h0M524 2046h0M559 2048h0M559 2007h0M905 2134h0M696 2041h0M604 2135h0M648 2065h0M705 1930h0M778 2016h0M1011 2290h0M1009 2259h0M729 2053h0M946 1989h0M968 2113h0M977 2228h0M976 2112h0M1007 2062h0M962 2202h0M474 2372h0M688 2356h0M678 2387h0M748 1865h0M958 2259h0M668 2088h0M721 2088h0M954 2077h0M717 2146h0M937 2251h0M720 2379h0M972 1949h0M686 1919h0M666 1941h0M924 2045h0M938 2244h0M891 2490h0M755 1999h0M836 2111h0M797 1969h0M983 1981h0M1030 2227h0M886 2489h0M685 2152h0M743 1950h0M669 2044h0M558 2116h0M693 2038h0M1050 2291h0M590 2094h0M735 2101h0M626 2036h0M730 1996h0M668 1943h0M652 2043h0M956 2233h0M966 2081h0M982 2108h0M817 2389h0M1021 2021h0M915 2236h0M995 2077h0M657 2377h0M931 2268h0M1014 2228h0M624 1989h0M896 2061h0M753 1924h0M889 2290h0M945 2463h0M939 2472h0M694 2266h0M973 2061h0M736 1926h0M811 2416h0M487 2015h0M912 1875h0M512 2326h0M1064 2260h0M532 1972h0M595 2062h0M868 2489h0M704 2103h0M702 2127h0M818 2075h0M902 2260h0M898 2287h0M786 2046h0M1041 2250h0M611 2292h0M910 1856h0M981 2240h0M599 2151h0M792 2123h0M854 2016h0M658 2128h0M550 2024h0M954 1955h0M743 1997h0M726 2085h0M941 1991h0M569 1958h0M876 1871h0M807 2081h0M708 1877h0M658 2175h0M954 1934h0M972 2028h0M930 2187h0M904 1981h0M1019 1997h0M976 2281h0M921 2415h0M907 1899h0M950 2033h0M705 2056h0M787 2149h0M1004 1969h0M601 2001h0M851 2009h0M964 2109h0M821 1982h0M639 1909h0M615 2048h0M1036 2288h0M902 2216h0M712 2156h0M930 2228h0M948 2047h0M730 1977h0M965 2074h0M491 1996h0M936 2027h0M761 2114h0M818 2101h0M657 2058h0M562 1957h0M739 1874h0M911 2189h0M1052 2291h0M990 1946h0M567 1967h0M643 1862h0M637 1862h0M633 2108h0M797 2030h0M652 1850h0M687 2108h0M942 2293h0M956 2135h0M748 1961h0M607 2133h0M513 2062h0M706 2145h0M517 2007h0M911 2413h0M916 2406h0M967 2120h0"/>
<path stroke="#f1b2c5" d="M916 2450h0M890 2493h0M867 2460h0M867 2467h0M897 2447h0M863 2471h0M901 2429h0M880 2501h0M922 2419h0M906 2442h0"/>
<path stroke="#f79cb7" d="M888 2477h0M874 2501h0M874 2497h0M1014 2386h0M817 2488h0M882 2496h0M850 2465h0M856 2492h0M844 2462h0"/>
<path stroke="#f883ab" d="M910 2408h0M947 2396h0M818 2506h0M836 2493h0M913 2453h0M889 2474h0M948 2388h0M907 2409h0M820 2500h0M842 2464h0M840 2499h0M899 2428h0M993 2387h0M953 2398h0M909 2414h0M898 2482h0M904 2488h0"/>
<path stroke="#f767a1" d="M981 2407h0M817 2481h0M893 2448h0M875 2514h0M853 2512h0M933 2445h0M888 2448h0M959 2390h0M883 2519h0M968 2402h0M877 2470h0M958 2417h0M928 2404h0M815 2499h0M931 2403h0M952 2394h0M905 2488h0M968 2404h0M791 2514h0M977 2473h0M879 2431h0M788 2514h0M953 2395h0M920 2421h0M891 2439h0M866 2519h0M854 2475h0M1003 2393h0M934 2413h0M959 2398h0"/>
<path stroke="#ea4d9c" d="M965 2497h0M819 2526h0M860 2458h0M802 2490h0M802 2497h0M833 2521h0M926 2451h0M1004 2386h0M857 2504h0M984 2456h0M803 2499h0M880 2452h0M794 2483h0M975 2382h0M896 2495h0M947 2394h0M873 2462h0M941 2416h0M801 2480h0M841 2533h0"/>
<path stroke="#dc3397" d="M875 2508h0M944 2499h0M920 2424h0M876 2536h0M975 2444h0M849 2479h0M969 2444h0M982 2381h0M803 2478h0M871 2490h0M944 2495h0M953 2460h0M871 2461h0M973 2420h0M841 2544h0M952 2414h0M950 2394h0M848 2504h0M977 2369h0M956 2418h0M877 2492h0M948 2478h0M802 2491h0M980 2443h0M788 2518h0M941 2452h0M1001 2381h0M957 2388h0M976 2401h0M996 2474h0M1001 2407h0M850 2507h0M880 2491h0M872 2467h0"/>
<path stroke="#c4198a" d="M875 2537h0M969 2476h0M799 2535h0M880 2492h0M956 2480h0M869 2473h0M899 2416h0M888 2480h0M888 2456h0M875 2482h0M986 2453h0M878 2481h0M890 2431h0M887 2492h0M914 2460h0M1002 2375h0M830 2508h0M907 2466h0M869 2482h0M889 2449h0M975 2447h0M971 2491h0M804 2574h0M904 2423h0M969 2484h0M799 2540h0M943 2466h0M828 2568h0M902 2483h0"/>
<path stroke="#ad017e" d="M884 2437h0M919 2463h0M977 2457h0M849 2544h0M869 2518h0M854 2542h0M994 2456h0M1002 2476h0M936 2419h0M978 2377h0M905 2447h0M975 2374h0M906 2448h0M917 2397h0M866 2531h0M871 2495h0M955 2465h0M974 2489h0M835 2564h0M943 2401h0M890 2494h0M794 2561h0M980 2480h0M982 2398h0M836 2462h0M1010 2400h0M898 2478h0"/>
<path stroke="#93017a" d="M914 2448h0M893 2483h0M823 2564h0M983 2444h0M843 2525h0M977 2484h0M864 2461h0M934 2449h0M943 2412h0M903 2451h0M970 2415h0M976 2411h0M824 2476h0M929 2432h0M924 2416h0M936 2405h0M967 2474h0M844 2495h0M816 2547h0M686 1837h0M754 2125h0M1018 2010h0M679 2209h0M1064 2304h0M907 2438h0M815 2476h0M978 2404h0M974 2460h0M905 2457h0M890 2502h0M827 2525h0M816 2487h0M866 2461h0M880 2429h0M972 2461h0M899 2428h0M817 2505h0M911 2454h0M988 2484h0M991 2468h0M782 2505h0M943 2457h0M824 2545h0M793 2509h0M952 2418h0M972 2409h0M874 2481h0M906 2487h0M909 2466h0M843 2548h0M860 2535h0M922 2422h0M844 2466h0M1005 2383h0M929 2457h0M993 2464h0M809 2572h0M807 2512h0"/>
<path stroke="#790177" d="M918 2418h0M882 2474h0M960 2467h0M904 2445h0M899 2433h0M1016 2387h0M941 2397h0M817 2497h0M882 2471h0M876 2473h0M933 2450h0M928 2432h0M809 2565h0M973 2404h0M993 2400h0M904 2440h0M988 2364h0M903 2411h0M812 2515h0M978 2420h0M920 2424h0M922 2445h0M807 2538h0M876 2459h0M858 2468h0M880 2501h0M886 2485h0M942 2395h0M931 2424h0M890 2506h0M996 2374h0"/>
<path stroke="#600070" d="M993 2452h0M959 2490h0M865 2496h0M889 2481h0M779 2545h0M830 2520h0M968 2445h0M992 2373h0M818 2521h0M811 2480h0M849 2513h0M868 2489h0M953 2468h0M950 2390h0M946 2402h0M881 2522h0M786 2561h0M823 2501h0M876 2463h0M834 2478h0M787 2552h0M884 2488h0M785 2530h0M874 2520h0M967 2506h0M836 2548h0M792 2509h0M780 2555h0"/>
<path stroke="#49006a" d="M856 2461h0M881 2513h0M814 2536h0M860 2487h0M799 2500h0M978 2401h0M976 2473h0M795 2520h0M989 2503h0M783 2534h0M809 2500h0M798 2520h0M951 2470h0M804 2546h0M805 2570h0M785 2529h0M862 2532h0M866 2534h0M850 2554h0M797 2549h0M855 2526h0M876 2519h0M814 2541h0M850 2537h0M818 2558h0M802 2533h0M818 2570h0M866 2544h0M789 2545h0M786 2557h0M846 2522h0M863 2531h0M862 2547h0M808 2537h0M811 2548h0M798 2530h0M840 2542h0M832 2540h0M824 2543h0M843 2517h0M788 2557h0M870 2538h0M835 2524h0M860 2535h0M829 2543h0M838 2535h0M839 2542h0M801 2552h0M790 2517h0M805 2551h0M961 2508h0M971 2459h0M981 2471h0M978 2494h0M970 2465h0M972 2448h0M958 2449h0M982 2474h0M976 2461h0M952 2493h0M954 2448h0M960 2498h0M996 2458h0M991 2445h0M976 2508h0M995 2491h0M981 2481h0"/>
</g></g>
<g filter="url(#bl)"><g transform="translate(461.40 0) scale(0.2)" stroke-linecap="round" stroke-width="9.5" fill="none">
<path stroke="#fefafa" d="M784 2419h0M588 2100h0M617 2091h0M765 2273h0M933 1982h0M792 2390h0M934 2444h0M785 2530h0M638 1886h0M656 2510h0M686 2231h0M902 1987h0M857 2323h0M794 2483h0M853 2512h0M995 2002h0M837 2287h0M969 2131h0M772 2038h0M719 2351h0M578 2099h0M955 2397h0M731 1858h0M1005 2021h0M803 2499h0M651 2300h0M902 2483h0M959 2490h0M713 2101h0M854 2305h0M972 1956h0M973 1979h0M963 2095h0M748 1961h0M750 1869h0M660 2486h0M762 2048h0M960 2482h0M928 1972h0M690 2120h0M832 2450h0M625 2364h0M976 2508h0M897 2452h0M834 2233h0M1010 2377h0M897 2447h0M936 2103h0M708 2014h0M842 2463h0M875 2482h0M956 2391h0M818 2474h0M732 2298h0M995 2500h0M817 2488h0M1013 2022h0M952 2394h0M667 1877h0M816 2532h0M1075 2145h0M638 1848h0M687 2008h0M844 2483h0M461 2213h0M844 2462h0M632 2400h0M783 2534h0M727 1884h0M659 1888h0M999 2399h0M985 2407h0M639 2498h0M829 1977h0M976 2371h0M773 1944h0M633 2408h0M591 2095h0M629 2059h0M549 1986h0M628 1937h0M891 1887h0M615 1973h0M964 2423h0M519 1980h0M840 2499h0M920 2480h0M722 2361h0M773 1971h0M754 2125h0M525 2076h0M680 2479h0M741 2394h0M971 2121h0M772 2232h0M524 2046h0M652 2415h0M956 1990h0M739 1995h0M950 1939h0M649 2386h0M944 2015h0M912 2021h0M943 2401h0M784 2276h0M430 1964h0M1001 2407h0M999 2462h0M730 1977h0M697 2333h0M733 2010h0M948 2372h0M997 1974h0M802 2067h0M704 2004h0M660 2111h0M840 2457h0M673 2239h0M816 2115h0M623 2493h0M876 2536h0M679 2454h0M943 2412h0M980 2027h0M652 2234h0M618 2114h0M619 2446h0M928 2078h0M945 2463h0M698 1974h0M998 2090h0M643 1908h0M762 1974h0M569 2140h0M657 2177h0M965 2121h0M703 2276h0M818 2479h0M692 2202h0M805 2042h0M596 2005h0M823 2307h0M662 1921h0M602 2350h0M912 1945h0M583 1971h0M689 2250h0M962 1954h0M627 2043h0M907 2409h0M905 2134h0M644 1982h0M852 2480h0M721 2072h0M811 2074h0M950 2394h0M634 2325h0M717 2369h0M601 1972h0M624 2136h0M772 2545h0M638 2337h0M920 2424h0M978 2420h0M778 2522h0M598 2480h0M939 2106h0M659 2035h0M585 2010h0M904 2112h0M686 1953h0M725 2340h0M653 2390h0M638 2214h0M829 1982h0M912 2148h0M588 2064h0M698 1926h0M772 2413h0M714 2055h0M794 2238h0M644 2368h0M958 2096h0M868 2489h0M957 1987h0M893 2448h0M842 2055h0M817 2484h0M639 2079h0M808 2537h0M907 1899h0M422 2183h0M933 2026h0M725 2153h0M690 2198h0M989 2110h0M785 2529h0M580 2022h0M801 2059h0M757 2221h0M1075 2136h0M709 2089h0M669 2064h0M881 2522h0M636 2009h0M567 2074h0M730 2259h0M691 1922h0M756 2208h0M957 2072h0M694 2200h0M896 2475h0M995 2392h0M941 2397h0M721 2426h0M487 2015h0M682 1898h0M606 2342h0M787 2033h0M765 2137h0M973 2404h0M539 2061h0M705 2077h0M1007 1974h0M733 1870h0M564 1987h0M819 2081h0M916 2039h0M716 2148h0M720 2289h0M641 2125h0M889 2449h0M982 2381h0M689 2478h0M742 2382h0M833 2036h0M617 2151h0M1001 2051h0M704 2223h0M644 2385h0M567 2020h0M766 1945h0M813 2088h0M575 2021h0M479 2153h0M923 1948h0M607 2201h0M831 2055h0M881 2487h0M814 2115h0M883 1879h0M819 1967h0M808 2330h0M724 2353h0M685 1944h0M622 1927h0M650 2378h0M422 1941h0M466 2035h0M953 2007h0M975 1935h0M951 2461h0M829 2543h0M978 2377h0M1019 1997h0M830 2280h0M882 2471h0M820 2118h0M670 1923h0M890 2431h0M798 2520h0M633 2488h0M925 2444h0M982 2108h0M618 2035h0M683 2390h0M682 2482h0M432 2151h0M775 2270h0M442 2173h0M839 1985h0M613 2363h0M685 1876h0M559 1961h0M621 2044h0M489 2187h0M647 2062h0M903 2411h0M741 2399h0M625 2460h0M655 2525h0M690 2067h0M828 2506h0M525 1974h0M585 2023h0M807 2512h0M604 2224h0M612 2126h0M677 2091h0M783 1945h0M831 2475h0M641 2281h0M980 2054h0M920 2015h0M624 1918h0M926 2014h0M983 1978h0M636 2082h0M987 2073h0M622 2317h0M748 2370h0M610 2519h0M958 2005h0M665 2390h0M743 1997h0M880 2429h0M904 2422h0M498 2031h0M656 2110h0M993 1971h0M709 2335h0M884 1857h0M860 2535h0M909 2414h0M739 2000h0M734 2355h0M728 2142h0M987 2487h0M492 2070h0M581 2096h0M970 1956h0M832 2314h0M842 2395h0M840 2238h0M535 2073h0M974 2114h0M988 1998h0M988 2520h0M635 2502h0M735 2101h0M920 2519h0M911 2050h0M668 1978h0M822 1978h0M890 2502h0M795 2302h0M893 2449h0M692 2501h0M971 1947h0M911 2019h0M591 2007h0M762 2103h0M594 2148h0M621 2027h0M599 2151h0M810 2110h0M349 2136h0M848 2119h0M741 2426h0M797 2208h0M521 2057h0M686 2282h0M785 2383h0M786 1982h0M722 2159h0M833 2057h0M492 2213h0M976 2473h0M950 2444h0M816 2547h0M811 2316h0M483 2068h0M772 2022h0M706 2038h0M916 2044h0M973 1988h0M762 1916h0M914 2020h0M696 1915h0M794 2267h0M840 2067h0M601 2001h0M584 2135h0M982 1942h0M915 2049h0M1089 2144h0M880 2501h0M679 1921h0M340 2125h0M955 2088h0M737 1982h0M723 1845h0M593 2135h0M490 2010h0M935 2068h0M686 1837h0M884 2488h0M891 1867h0M821 2411h0M533 2004h0M614 2337h0M621 2069h0M793 2295h0M947 2394h0M802 2104h0M562 1969h0M926 2102h0M739 1868h0M653 1925h0M628 2226h0M751 1940h0M634 2306h0M709 1955h0M1002 2076h0M673 2112h0M751 2421h0M576 2128h0M603 2100h0M996 2039h0M526 2040h0M998 2003h0M527 2070h0M633 2394h0M938 1938h0M870 2538h0M696 2055h0M601 2124h0M782 2146h0M963 1960h0M690 2309h0M417 1950h0M836 2111h0M681 2406h0M872 2487h0M706 2251h0M730 1897h0M970 2415h0M832 2020h0M636 1973h0M707 1968h0M738 1923h0M833 2386h0M607 2292h0M792 2107h0M630 2464h0M838 2124h0M728 2336h0M848 1997h0M733 1877h0M603 2134h0M855 2526h0M716 1855h0M702 2127h0M971 2071h0M701 1959h0M701 2421h0M954 1934h0M999 1955h0M805 2565h0M582 2149h0M932 1975h0M967 2120h0M700 2056h0M693 2080h0M725 2327h0M977 2023h0M839 2320h0M766 2017h0M924 1998h0M780 2555h0M1011 2027h0M639 2279h0M492 2198h0M669 2044h0M845 2392h0M852 2107h0M919 1875h0M1017 1977h0M535 2043h0M508 2195h0M802 1997h0M794 1921h0M947 2383h0M634 2352h0M790 2288h0M653 2534h0M1010 2400h0M913 2027h0M426 2162h0M903 1888h0M686 1957h0M1084 2159h0M803 2018h0M627 2045h0M794 2300h0M702 2302h0M437 2175h0M736 2147h0M799 2500h0M668 1892h0M527 2075h0M1009 2060h0M728 1898h0M638 2184h0M626 2375h0M914 1872h0M599 2009h0M978 2090h0M648 2349h0M941 1991h0M994 2073h0M665 1959h0M903 2451h0M527 2027h0M932 2431h0M611 1962h0M903 2039h0M635 2484h0M1005 2013h0M728 1916h0M810 2510h0M630 2361h0M666 1859h0M806 2234h0M934 2111h0M827 1997h0M499 2198h0M834 2294h0M742 2146h0M999 1965h0M776 2377h0M971 2483h0M753 2002h0M917 2397h0M914 1882h0M630 2033h0M597 2019h0M806 2395h0M823 2263h0M432 2163h0M949 2115h0M502 1985h0M814 2050h0M615 2048h0M992 1940h0M790 2344h0M1076 2147h0M973 2420h0M804 2067h0M679 2209h0M641 2191h0M860 2535h0M676 2078h0M617 2507h0M610 1997h0M729 2221h0M861 2304h0M830 2347h0M880 2514h0M770 2419h0M698 2236h0M915 2416h0M830 1988h0M710 2243h0M736 2275h0M827 2525h0M1006 2027h0M760 1954h0M701 2357h0M891 2490h0M549 2005h0M810 1941h0M794 1963h0M860 2458h0M742 2055h0M748 2345h0M705 1985h0M706 2213h0M677 1914h0M560 2023h0M994 1987h0M598 2112h0M954 2130h0M755 1999h0M704 2296h0M1003 2058h0M797 2292h0M939 2472h0M574 1950h0M648 2241h0M484 2008h0M625 2056h0M609 2225h0M660 2449h0M577 1965h0M652 2346h0M915 2056h0M627 2346h0M746 2374h0M622 2010h0M683 1878h0M681 2327h0M551 2007h0M949 2085h0M611 2292h0M850 2263h0M863 2471h0M638 2399h0M654 1992h0M1007 1970h0M733 1940h0M604 2135h0M915 2115h0M999 2095h0M697 2278h0M510 2173h0M750 2063h0M653 2465h0M720 2107h0M937 2123h0M630 2501h0M646 2116h0M717 2134h0M656 2375h0M946 2398h0M947 1977h0M620 2243h0M982 1996h0M1019 2459h0M754 2113h0M995 2491h0M678 2017h0M949 2004h0M864 2308h0M655 2492h0M911 2134h0M672 2413h0M637 1862h0M695 2217h0M707 2004h0M1014 2386h0M931 2477h0M904 2109h0M587 1987h0M531 1963h0M844 2466h0M992 1941h0M986 1991h0M533 2024h0M947 2369h0M909 2466h0M980 2480h0M614 2258h0M777 2092h0M943 2098h0M480 1998h0M688 1920h0M787 2280h0M678 2207h0M893 2475h0M1011 2451h0M606 2465h0M783 2247h0M930 1986h0M694 2471h0M778 2016h0M978 2027h0M821 2363h0M815 2501h0M670 2470h0M640 2320h0M610 2497h0M988 2021h0M828 1995h0M836 2491h0M708 2162h0M485 2075h0M682 2369h0M760 2147h0M899 2038h0M770 2005h0M869 2482h0M893 2483h0M1006 2503h0M936 2501h0M748 2123h0M721 1917h0M978 2122h0M788 2518h0M839 2350h0M818 2101h0M836 2513h0M474 2144h0M490 2049h0M701 2120h0M866 2544h0M734 1855h0M651 2266h0M632 1975h0M528 2063h0M818 2265h0M800 1967h0M790 2315h0M850 2293h0M1004 2386h0M645 2512h0M863 2531h0M985 1962h0M509 2028h0M700 2306h0M760 2052h0M692 1848h0M926 2427h0M625 2496h0M823 2501h0M654 2221h0M869 2286h0M744 1933h0M616 2137h0M851 2348h0M827 2097h0M970 2465h0M794 2253h0M633 2214h0M759 2119h0M670 1902h0M906 2049h0M624 2513h0M739 1895h0M959 2027h0M709 2252h0M975 2382h0M904 2428h0M986 2002h0M561 2037h0M1007 2062h0M941 2132h0M508 1982h0M513 2077h0M1013 2054h0M678 2387h0M899 2040h0M704 2309h0M673 1991h0M826 2270h0M769 2019h0M603 2072h0M555 2076h0M780 2266h0M744 2156h0M833 2521h0M671 2333h0M715 2067h0M818 2229h0M632 2223h0M830 2310h0M991 2497h0M785 2007h0M993 1988h0M710 1934h0M652 2070h0M953 2018h0M981 2021h0M689 1842h0M613 2078h0M942 2459h0M951 2484h0M965 2428h0M766 2366h0M805 2570h0M786 1941h0M782 2233h0M760 2299h0M658 1853h0M560 2123h0M919 2043h0M972 1946h0M660 2308h0M991 1966h0M931 2050h0M667 1936h0M784 2204h0M701 2100h0M807 2028h0M769 1938h0M619 2225h0M938 1952h0M795 2103h0M629 2215h0M965 1962h0M817 2481h0M584 1965h0M500 2023h0M781 2040h0M697 1850h0M705 2100h0M636 2196h0M738 2250h0M593 2057h0M518 2008h0M634 2038h0M960 2071h0M982 2522h0M717 2333h0M718 2279h0M802 2425h0M846 2509h0M904 2440h0M597 2156h0M841 2400h0M986 2485h0M675 2434h0M828 2328h0M629 1929h0M946 2402h0M850 2433h0M707 2012h0M558 1975h0M964 1943h0M616 2308h0M639 2234h0M698 1850h0M797 1969h0M702 1936h0M948 1958h0M980 2036h0M638 1879h0M1004 2038h0M649 2085h0M961 1931h0M850 2465h0M768 2409h0M697 1859h0M646 2436h0M645 2272h0M591 2034h0M798 2423h0M1002 2095h0M991 2468h0M880 2407h0M704 2103h0M899 2445h0M681 1889h0M850 2359h0M900 2006h0M919 2112h0M944 2495h0M925 1940h0M766 1894h0M682 2154h0M695 1901h0M569 1958h0M957 1944h0M609 2100h0M791 1966h0M821 2220h0M670 2070h0M650 2495h0M713 1936h0M735 2045h0M644 2525h0M802 2491h0M746 2271h0M1001 2381h0M751 2397h0M929 2115h0M851 2316h0M640 1979h0M782 2339h0M972 1934h0M972 2059h0M720 1967h0M996 1940h0M975 2447h0M687 2207h0M665 2038h0M1018 1977h0M991 2038h0M914 1981h0M625 1960h0M981 2407h0M577 2017h0M918 2418h0M627 1888h0M780 2082h0M911 1988h0M959 1982h0M700 2369h0M684 2025h0M981 2481h0M742 2386h0M817 1995h0M600 2352h0M523 1995h0M1019 1981h0M749 1870h0M719 2281h0M923 1901h0M901 2429h0M992 2455h0M816 2224h0M597 1993h0M834 2377h0M996 2374h0M911 2407h0M831 2043h0M873 2451h0M612 2374h0M470 2042h0M866 2519h0M816 2302h0M698 2223h0M589 2087h0M978 2053h0M967 2501h0M905 2447h0M672 2364h0M686 1919h0M796 2524h0M696 1950h0M671 2129h0M643 1862h0M844 2252h0M726 2247h0M978 2401h0M407 1975h0M743 1950h0M975 2016h0M654 2019h0M997 1952h0M847 2284h0M655 1927h0M429 1964h0M959 1970h0M649 2036h0M564 2082h0M548 1997h0M620 2512h0M754 1918h0M609 2277h0M766 2314h0M793 2065h0M671 1949h0M810 2306h0M808 2266h0M969 1949h0M815 2499h0M721 2088h0M728 1935h0M888 2448h0M851 2260h0M736 2403h0M644 2232h0M810 2091h0M623 2239h0M882 2496h0M658 2400h0M712 2156h0M627 2127h0M968 2127h0M749 1994h0M746 2000h0M356 2137h0M723 2059h0M963 1989h0M636 2215h0M878 2481h0M476 2146h0M929 1973h0M835 2005h0M939 2056h0M881 2490h0M866 2274h0M889 2425h0M421 2211h0M467 2221h0M1002 2087h0M1089 2173h0M798 2004h0M557 1992h0M724 2133h0M585 1953h0M866 2461h0M943 1936h0M950 2390h0M808 2059h0M636 2377h0M806 2467h0M672 1978h0M968 2022h0M920 2075h0M650 2042h0M999 2093h0M687 1981h0M949 2047h0M630 1901h0M649 1936h0M653 2512h0M642 2407h0M851 2334h0M900 2047h0M678 1881h0M570 1958h0M655 2410h0M719 1875h0M776 2380h0M641 1886h0M633 2186h0M933 2450h0M972 2451h0M644 2001h0M649 2383h0M597 2141h0M1077 2180h0M715 1845h0M987 2083h0M639 2109h0M691 2089h0M978 2060h0M960 2508h0M678 2455h0M886 2481h0M893 1878h0M990 2414h0M677 2452h0M864 2471h0M647 2478h0M928 2414h0M714 2029h0M623 2496h0M591 2043h0M712 2074h0M910 2148h0M659 2398h0M567 2092h0M732 2040h0M579 1961h0M779 2377h0M999 2460h0M799 2535h0M785 2043h0M851 2534h0M980 2031h0M677 2478h0M936 2405h0M570 2114h0M632 2514h0M953 2468h0M744 2295h0M1003 1999h0M767 2118h0M635 1904h0M638 2086h0M628 2032h0M710 2013h0M951 2476h0M507 2061h0M746 2017h0M854 2345h0M840 2549h0M828 2568h0M956 2135h0M617 2125h0M761 2108h0M632 2318h0M948 2145h0M634 2109h0M599 2035h0M907 1961h0M981 2073h0M707 1916h0M862 2532h0M825 2329h0M951 2070h0M764 2238h0M596 2094h0M503 2013h0M849 2544h0M900 2460h0M618 2134h0M1013 1990h0M776 2377h0M1019 1981h0M609 1986h0M984 2456h0M874 2497h0M694 2286h0M993 2065h0M932 1957h0M847 2340h0M717 2292h0M690 2040h0M342 2116h0M978 2002h0M864 2284h0M617 2506h0M766 2415h0M747 2284h0M905 1973h0M668 2543h0M487 1991h0M687 1973h0M780 2427h0M636 2244h0M910 2064h0M922 1883h0M702 1913h0M619 2388h0M972 2461h0M985 2098h0M638 2374h0M634 2448h0M793 2269h0M915 2004h0M954 1955h0M687 2403h0M706 1876h0M649 2016h0M809 2142h0M972 1971h0M986 1983h0M771 1978h0M600 2182h0M797 2030h0M622 2129h0M910 2408h0M762 1925h0M925 2030h0M649 2528h0M638 2217h0M766 2244h0M660 2163h0M829 2226h0M651 2517h0M990 1951h0M705 2056h0M676 2275h0M668 2205h0M838 2535h0M849 2513h0M802 2490h0M625 2257h0M977 2484h0M432 2220h0M912 2036h0M717 2118h0M928 2049h0M845 2511h0M924 2045h0M952 2493h0M640 1915h0M913 2135h0M868 2489h0M700 2477h0M945 2024h0M838 2391h0M568 2042h0M742 2249h0M644 2108h0M706 2402h0M816 2223h0M977 1937h0M973 2061h0M411 1958h0M972 2002h0M721 1943h0M748 2231h0M689 1969h0M543 1960h0M651 2485h0M814 2541h0M602 2234h0M757 2218h0M598 2177h0M802 2304h0M873 2462h0M678 2333h0M812 2087h0M749 2238h0M940 2026h0M1008 2369h0M928 2404h0M904 1953h0M829 2553h0M667 2059h0M958 2417h0M678 2223h0M993 2452h0M845 1995h0M527 2004h0M536 2017h0M615 2058h0M540 2071h0M662 2475h0M628 2157h0M570 2159h0M936 2027h0M342 2124h0M830 2096h0M756 2150h0M832 2540h0M1013 2078h0M760 2398h0M796 2056h0M661 1835h0M933 2096h0M668 2415h0M729 1909h0M770 2248h0M1000 2072h0M705 1995h0M734 2268h0M782 2150h0M701 2380h0M722 1912h0M907 1958h0M517 1992h0M764 2424h0M821 2402h0M719 2229h0M829 2360h0M889 2474h0M750 2136h0M704 1839h0M790 2494h0M971 2459h0M659 2186h0M952 2086h0M763 2247h0M696 2472h0M894 2459h0M645 2448h0M1018 2010h0M415 2187h0M946 1989h0M903 2435h0M952 2082h0M520 1990h0M760 2282h0M734 1871h0M819 2300h0M833 2408h0M1013 2055h0M884 2437h0M906 2431h0M870 2503h0M911 2085h0M904 2402h0M967 2506h0M565 1992h0M966 1957h0M663 2032h0M656 2245h0M929 2432h0M687 1823h0M928 2430h0M917 1979h0M725 1898h0M628 2222h0M814 2276h0M649 2405h0M910 1875h0M952 2479h0M691 2282h0M771 2015h0M961 2474h0M675 2450h0M881 2513h0M719 2152h0M690 2106h0M919 2120h0M608 2032h0M677 1967h0M737 2212h0M828 2003h0M703 2268h0M969 1993h0M896 2118h0M1008 2025h0M615 2194h0M860 2301h0M813 2465h0M793 2275h0M1016 1995h0M937 1991h0M749 2363h0M854 2475h0M626 1927h0M778 2406h0M495 2014h0M689 2204h0M1002 1954h0M564 2054h0M652 1989h0M731 2038h0M625 2151h0M676 2248h0M502 1984h0M736 1926h0M646 2384h0M492 2166h0M991 1942h0M834 2251h0M783 2348h0M624 1899h0M909 2071h0M684 2203h0M675 1855h0M819 2526h0M422 2178h0M747 2086h0M659 2364h0M960 2467h0M802 2327h0M705 2257h0M912 1875h0M1106 2159h0M592 2045h0M904 2488h0M911 2457h0M937 2010h0M766 2252h0M630 2334h0M844 2495h0M934 2449h0M906 2487h0M635 2274h0M649 1838h0M796 2048h0M632 2219h0M1092 2177h0M721 1988h0M761 2071h0M841 2291h0M744 2071h0M931 2396h0M825 1959h0M915 2132h0M835 2469h0M766 2290h0M738 2063h0M656 2292h0M812 2493h0M703 2146h0M739 2097h0M678 2334h0M919 2126h0M569 2110h0M802 2014h0M831 2500h0M673 2383h0M629 2120h0M797 2072h0M932 2017h0M854 2542h0M735 2396h0M796 1983h0M460 2161h0M729 2232h0M978 2494h0M962 1975h0M618 1943h0M548 2064h0M700 2394h0M622 2308h0M823 2255h0M908 2131h0M729 2203h0M816 2498h0M914 2448h0M821 2377h0M692 2251h0M1003 2442h0M515 1985h0M1024 2405h0M620 2193h0M701 1906h0M660 2408h0M558 2116h0M975 2374h0M628 2040h0M980 2443h0M943 2466h0M643 2176h0M425 2205h0M880 2491h0M962 2448h0M1004 2361h0M553 2036h0M606 2301h0M637 2343h0M619 2377h0M924 2149h0M626 2036h0M978 2404h0M715 2346h0M951 2134h0M746 1888h0M975 2402h0M815 2120h0M842 2464h0M667 1884h0M713 2013h0M801 2552h0M738 2029h0M683 2469h0M713 2295h0M783 2249h0M636 1952h0M742 1860h0M796 2389h0M893 1868h0M503 2161h0M761 2215h0M796 2205h0M728 2052h0M485 2206h0M1068 2150h0M773 2354h0M739 2208h0M590 2094h0M627 2174h0M526 1992h0M1104 2176h0M560 2129h0M675 1981h0M947 2094h0M731 2226h0M954 2077h0M772 1953h0M843 2447h0M656 2508h0M625 1967h0M763 2107h0M925 2023h0M978 1950h0M645 2287h0M860 2076h0M788 2557h0M993 2464h0M816 2240h0M611 2093h0M920 2104h0M615 2476h0M902 2131h0M949 2036h0M803 1984h0M606 2242h0M897 2049h0M691 2418h0M784 1921h0M958 2449h0M646 2469h0M663 2441h0M426 2170h0M984 2068h0M954 1935h0M422 2235h0M685 2342h0M750 1903h0M637 2488h0M494 2059h0M645 2054h0M717 1884h0M966 2378h0M983 2444h0M786 2264h0M721 2270h0M834 2371h0M640 2529h0M785 2001h0M621 2120h0M729 2087h0M600 2285h0M990 1944h0M783 2221h0M535 1979h0M820 2249h0M591 2154h0M745 1960h0M860 2427h0M817 2388h0M703 2303h0M738 2111h0M646 2089h0M629 2367h0M791 2332h0M729 2034h0M561 2009h0M577 2061h0M805 2266h0M733 2054h0M836 1992h0M919 2113h0M969 2484h0M898 1866h0M828 2506h0M614 2302h0M982 2398h0M957 2090h0M976 2005h0M912 1997h0M459 2194h0M985 2024h0M689 2320h0M348 2112h0M685 2251h0M808 2048h0M632 2271h0M985 2116h0M674 2054h0M786 2561h0M934 2413h0M632 2139h0M852 2378h0M706 2306h0M726 1850h0M557 1959h0M672 2079h0M639 2037h0M918 2492h0M883 2519h0M728 2334h0M653 2326h0M737 2351h0M622 2310h0M652 2374h0M609 1933h0M649 2080h0M801 2422h0M841 2513h0M904 1981h0M623 2192h0M717 2067h0M702 1937h0M645 2355h0M861 2048h0M648 2504h0M735 2094h0M739 2414h0M956 2097h0M693 2025h0M951 2066h0M700 2282h0M762 1877h0M962 2119h0M657 2377h0M783 2145h0M995 2000h0M567 1967h0M688 2268h0M684 1944h0M679 1940h0M905 2085h0M737 2052h0M842 2224h0M626 2114h0M477 2197h0M1014 2077h0M830 2474h0M726 1886h0M489 2172h0M727 2150h0M921 2032h0M721 1983h0M737 2145h0M669 2449h0M668 1888h0M920 2134h0M739 2401h0M781 2121h0M623 2222h0M835 2564h0M993 2400h0M954 1942h0M493 2006h0M658 2415h0M818 2381h0M843 2525h0M912 1942h0M436 2220h0M840 2067h0M938 1985h0M1093 2177h0M819 2121h0M953 2395h0M582 2024h0M707 2260h0M875 2508h0M602 1987h0M899 2416h0M621 2208h0M729 2277h0M988 2484h0M943 2091h0M719 1926h0M864 2461h0M673 1845h0M905 2033h0M653 2111h0M346 2111h0M607 2133h0M524 1973h0M684 2319h0M935 2029h0M824 2545h0M942 2395h0M751 1956h0M682 2244h0M707 2108h0M556 1982h0M941 2145h0M836 2548h0M868 2495h0M517 2054h0M959 2071h0M635 2241h0M731 2122h0M700 1864h0M579 1960h0M666 2252h0M623 2334h0M929 2457h0M650 1871h0M743 2313h0M645 2099h0M1097 2125h0M916 2051h0M601 2129h0M558 1970h0M786 2046h0M759 2431h0M839 2548h0M655 2161h0M931 2403h0M700 2116h0M773 1958h0M775 1909h0M901 2093h0M915 2080h0M909 2112h0M1021 2021h0M574 2138h0M662 2172h0M629 2534h0M940 2443h0M694 1991h0M687 2149h0M809 2572h0M1003 2393h0M645 2018h0M507 2067h0M718 2327h0M699 1889h0M980 2459h0M907 2466h0M968 2375h0M679 2449h0M775 1954h0M1107 2166h0M661 1849h0M831 2229h0M918 2488h0M678 2451h0M983 2101h0M509 2198h0M786 2235h0M841 2342h0M832 2083h0M432 2142h0M696 2041h0M896 2434h0M446 2178h0M998 2059h0M691 2267h0M809 1993h0M836 2237h0M732 1977h0M677 2445h0M950 2005h0M752 1915h0M863 2487h0M993 1959h0M652 2224h0M761 2114h0M817 2505h0M705 2313h0M924 2416h0M965 2497h0M562 1957h0M360 2129h0M888 2477h0M680 2344h0M633 1972h0M758 2105h0M918 2083h0M479 2164h0M737 2254h0M852 2067h0M589 2130h0M692 2155h0M691 1928h0M683 1990h0M738 1950h0M751 2207h0M676 2371h0M689 1866h0M607 2087h0M889 2481h0M991 2030h0M511 2220h0M753 1924h0M640 2235h0M998 1956h0M524 2010h0M946 2096h0M791 2514h0M800 1990h0M528 1998h0M939 1957h0M687 2483h0M418 2165h0M657 2023h0M642 2378h0M627 2104h0M698 1979h0M771 2261h0M683 2129h0M463 2135h0M786 2557h0M840 2058h0M791 2060h0M704 2036h0M992 2095h0M786 2294h0M484 2004h0M408 1978h0M490 2031h0M654 1924h0M434 2144h0M1101 2173h0M657 2120h0M956 2116h0M668 2489h0M795 2520h0M755 2423h0M732 1960h0M905 2488h0M740 2033h0M919 1977h0M652 2043h0M923 1872h0M559 2048h0M907 2114h0M625 2383h0M667 2085h0M748 2153h0M668 2088h0M919 2463h0M626 2009h0M796 2484h0M356 2137h0M779 2545h0M641 1866h0M683 2071h0M690 1907h0M760 1916h0M905 2109h0M896 1909h0M646 2238h0M797 2091h0M903 1973h0M827 2537h0M990 2073h0M718 2040h0M977 2071h0M982 2483h0M729 2053h0M805 2083h0M853 2261h0M608 2019h0M693 1985h0M681 2384h0M816 2487h0M674 1833h0M530 2062h0M641 2236h0M725 1942h0M652 2209h0M745 2314h0M897 2075h0M704 2215h0M678 2036h0M679 2125h0M807 2081h0M725 2069h0M553 2080h0M582 2144h0M673 2377h0M655 2010h0M792 2123h0M659 2055h0M704 2083h0M836 2372h0M977 2473h0M991 1951h0M601 1960h0M715 2054h0M980 2487h0M890 2494h0M906 2079h0M868 2425h0M621 2294h0M603 2324h0M750 1950h0M802 2366h0M675 2215h0M899 2428h0M675 2349h0M777 2010h0M848 2313h0M976 2401h0M483 2183h0M482 2163h0M694 2034h0M860 2073h0M876 2459h0M582 1987h0M804 2463h0M609 2514h0M473 2209h0M482 2216h0M831 2453h0M851 2469h0M813 2007h0M528 2018h0M772 2039h0M953 2460h0M821 2244h0M725 1874h0M973 2055h0M920 1979h0M932 2032h0M774 2251h0M670 1963h0M633 2108h0M637 1963h0M727 1961h0M898 2482h0M567 2147h0M876 2463h0M498 2035h0M879 2468h0M970 2417h0M985 2028h0M962 2476h0M976 2112h0M818 2570h0M767 1931h0M761 2271h0M758 2062h0M639 2145h0M719 2310h0M1096 2133h0M678 2376h0M671 2248h0M572 2053h0M805 2339h0M649 2243h0M980 2103h0M490 2017h0M764 2223h0M890 1899h0M948 2047h0M772 2049h0M659 1845h0M517 2007h0M719 2352h0M565 2120h0M929 2043h0M887 2462h0M719 2046h0M902 2488h0M505 1973h0M784 2348h0M974 2522h0M819 2491h0M660 2198h0M833 2020h0M968 1966h0M708 1877h0M905 2457h0M701 1984h0M804 2281h0M612 2528h0M910 1856h0M995 2035h0M697 2084h0M722 2379h0M707 2072h0M875 2537h0M841 2544h0M716 1914h0M732 2210h0M982 2064h0M871 2495h0M437 1942h0M971 2448h0M818 2069h0M518 2056h0M910 2060h0M749 2328h0M833 2381h0M781 2231h0M696 1890h0M595 2123h0M939 1979h0M1015 1967h0M843 2517h0M601 2350h0M663 2234h0M895 1894h0M667 2352h0M710 2247h0M839 2001h0M342 2116h0M850 2554h0M653 2472h0M905 1858h0M772 2401h0M646 2240h0M615 1964h0M726 2244h0M858 2468h0M935 2039h0M974 1976h0M939 2011h0M813 2497h0M814 2536h0M939 2011h0M990 2049h0M644 2400h0M977 2115h0M1016 2387h0M603 2185h0M410 1956h0M676 2411h0M1002 2016h0M550 2024h0M835 2238h0M772 2256h0M1021 2010h0M717 1876h0M881 1878h0M647 2064h0M661 2413h0M856 2434h0M751 1967h0M908 1908h0M722 1973h0M1006 2044h0M766 2321h0M685 2152h0M585 1962h0M405 1962h0M792 2427h0M901 2144h0M712 1884h0M744 2344h0M887 2492h0M825 2377h0M693 2310h0M662 2324h0M874 2497h0M814 2298h0M637 2038h0M752 2403h0M835 2416h0M984 2118h0M943 2457h0M849 2479h0M927 2450h0M739 1970h0M532 1972h0M850 2059h0M856 2461h0M916 2060h0M639 2326h0M835 2524h0M944 2499h0M533 2009h0M859 2075h0M609 2480h0M950 2390h0M594 2068h0M939 1964h0M812 2103h0M606 2309h0M802 2027h0M576 2059h0M568 2003h0M834 2119h0M937 2515h0M965 2010h0M736 2051h0M608 2105h0M772 2248h0M786 2528h0M1097 2156h0M772 2215h0M475 2039h0M994 2456h0M912 2408h0M614 2505h0M686 1938h0M810 1958h0M947 2463h0M779 2000h0M519 2011h0M943 2045h0M919 2033h0M709 2262h0M844 2086h0M644 2104h0M855 2041h0M977 2005h0M741 1924h0M876 1901h0M677 1846h0M731 2230h0M603 2054h0M693 2077h0M619 2117h0M830 2085h0M850 2537h0M976 2411h0M920 2421h0M889 1902h0M987 1977h0M725 2015h0M609 1952h0M683 1825h0M643 2245h0M564 1990h0M619 2232h0M507 1988h0M987 2019h0M797 2508h0M904 2482h0M651 2317h0M951 2383h0M983 1981h0M601 2354h0M736 1858h0M955 2449h0M1019 2024h0M858 2422h0M952 2418h0M896 1892h0M1020 2452h0M608 2166h0M743 2312h0M837 2359h0M647 2499h0M877 1873h0M741 2083h0M591 2127h0M1000 2096h0M753 2318h0M874 2501h0M772 1898h0M690 2025h0M628 2022h0M616 1964h0M1020 2022h0M648 2065h0M948 2478h0M924 2397h0M897 2452h0M785 2099h0M977 2048h0M855 2334h0M1009 2056h0M729 2336h0M921 2415h0M726 2085h0M652 2241h0M789 2049h0M792 2141h0M748 1987h0M763 2346h0M950 2089h0M850 2102h0M930 1964h0M860 2302h0M926 2064h0M825 2217h0M820 2248h0M675 2516h0M617 2372h0M771 2051h0M784 2499h0M522 2065h0M991 2079h0M922 2419h0M628 2056h0M851 2073h0M968 2402h0M532 1971h0M946 2110h0M660 2437h0M972 1943h0M448 2176h0M867 2460h0M990 1946h0M475 2227h0M777 2404h0M907 2118h0M877 2492h0M549 2074h0M638 2089h0M820 2363h0M634 1982h0M591 2065h0M850 2070h0M960 1933h0M1018 2002h0M813 1978h0M909 2094h0M911 1946h0M610 2202h0M688 2356h0M984 1946h0M922 2445h0M774 1933h0M585 2068h0M713 1966h0M620 1989h0M871 2451h0M886 2489h0M762 2427h0M501 2070h0M956 2418h0M678 2063h0M559 2007h0M949 2486h0M972 1949h0M811 2012h0M840 2542h0M705 1930h0M859 2032h0M719 2346h0M690 2017h0M1014 2484h0M619 2163h0M647 2184h0M671 2348h0M765 1941h0M653 1882h0M676 1904h0M853 2050h0M591 2114h0M729 1874h0M642 2090h0M803 2478h0M924 1994h0M830 2508h0M673 1868h0M1004 1969h0M797 2549h0M770 2331h0M653 2043h0M720 2237h0M794 2544h0M791 2148h0M904 1973h0M424 2161h0M668 1943h0M689 2157h0M821 2555h0M716 2233h0M755 2407h0M622 2466h0M825 2446h0M534 2054h0M978 1967h0M634 2491h0M658 2128h0M948 2388h0M622 2230h0M631 2057h0M753 1883h0M908 2109h0M609 2267h0M746 1908h0M624 2194h0M690 2295h0M941 2470h0M956 2013h0M951 2470h0M432 2168h0M704 2085h0M766 2122h0M814 2306h0M936 2419h0M671 2333h0M1016 2398h0M941 2125h0M482 1995h0M704 2201h0M413 1975h0M615 1953h0M811 2074h0M949 2472h0M459 2147h0M899 2029h0M641 2372h0M760 1916h0M787 2149h0M530 2011h0M949 2026h0M683 2101h0M788 2020h0M634 2448h0M731 2230h0M854 2016h0M792 2509h0M669 2469h0M882 2474h0M796 2316h0M973 2052h0M485 2069h0M802 2533h0M709 2089h0M704 2160h0M570 2118h0M643 2209h0M614 1956h0M704 2260h0M679 1966h0M896 2495h0M715 2016h0M985 2120h0M1018 2381h0M575 2140h0M900 2003h0M565 2142h0M771 2293h0M963 1964h0M973 1995h0M838 2075h0M576 2020h0M976 1965h0M940 2147h0M915 1992h0M625 2032h0M651 2001h0M651 2001h0M981 1987h0M613 2109h0M663 2476h0M537 1976h0M674 2494h0M732 1903h0M681 2333h0M689 2055h0M675 2247h0M798 2094h0M708 2420h0M839 2252h0M913 1960h0M803 2466h0M912 1960h0M637 2062h0M621 2298h0M807 2538h0M548 1978h0M689 2416h0M477 2198h0M830 2475h0M485 2075h0M922 2028h0M984 2033h0M898 2478h0M778 2281h0M933 2445h0M643 2261h0M943 2099h0M800 2059h0M574 2000h0M553 1987h0M943 2369h0M876 2519h0M716 2298h0M914 2102h0M965 2366h0M762 1911h0M799 2133h0M579 2035h0M792 2381h0M939 2044h0M654 2302h0M771 1939h0M448 2200h0M936 2489h0M686 2485h0M650 2465h0M779 1981h0M637 2438h0M827 2462h0M818 2075h0M615 2322h0M978 2392h0M620 2325h0M423 2195h0M699 2242h0M782 2505h0M1087 2138h0M651 2225h0M629 1892h0M945 2009h0M810 1964h0M967 2474h0M507 2046h0M674 2125h0M809 2564h0M619 2129h0M476 2178h0M911 2039h0M948 2385h0M716 1846h0M419 2193h0M967 1959h0M669 2438h0M981 2471h0M552 2025h0M478 2012h0M901 2487h0M755 2224h0M614 2028h0M805 2551h0M426 2150h0M794 2221h0M654 1976h0M1014 2361h0M577 2162h0M877 2470h0M619 2139h0M990 2053h0M578 2131h0M764 1940h0M607 2097h0M476 2198h0M720 2373h0M683 2387h0M558 1989h0M982 2099h0M831 2100h0M553 2028h0M983 1952h0M709 2248h0M969 2053h0M1022 2374h0M1007 2005h0M871 2490h0M885 1883h0M782 2517h0M460 2211h0M529 1977h0M914 2480h0M457 2185h0M617 2452h0M991 1949h0M777 2403h0M968 2445h0M980 2084h0M1001 1963h0M563 2113h0M695 1946h0M610 2218h0M742 2396h0M934 1971h0M703 1827h0M815 2091h0M630 2380h0M815 2512h0M669 2128h0M706 2145h0M539 2026h0M947 2451h0M861 2302h0M706 1984h0M906 1889h0M857 2504h0M733 1978h0M977 2369h0M740 2268h0M767 2259h0M1010 2069h0M685 1850h0M747 2326h0M632 1942h0M949 1993h0M598 1958h0M491 1996h0M828 1965h0M755 2254h0M584 1980h0M744 2380h0M739 2024h0M431 2206h0M787 2133h0M740 1972h0M691 2268h0M475 2194h0M745 2327h0M658 1822h0M761 2275h0M672 2203h0M683 2259h0M800 1939h0M921 1897h0M803 2319h0M720 2374h0M709 2024h0M919 1984h0M594 1993h0M938 2070h0M903 1863h0M974 2460h0M817 2389h0M951 2043h0M781 2123h0M961 1939h0M734 2419h0M823 2230h0M648 1870h0M791 2204h0M928 2098h0M781 2314h0M957 2388h0M807 2496h0M991 1951h0M808 2364h0M955 2076h0M824 2004h0M493 2221h0M749 1928h0M713 1946h0M629 1894h0M626 2376h0M693 2112h0M720 2028h0M691 2353h0M798 2396h0M834 2029h0M836 2108h0M579 2100h0M723 2381h0M746 2311h0M948 1997h0M655 2277h0M952 2413h0M679 2410h0M757 1998h0M1015 1974h0M997 1993h0M774 2012h0M839 2542h0M830 2520h0M612 2360h0M606 1937h0M760 2029h0M672 2400h0M623 2180h0M941 2416h0M975 2488h0M941 2454h0M648 2367h0M591 2171h0M761 2216h0M661 1939h0M902 2096h0M909 1976h0M644 2007h0M944 1999h0M545 2073h0M792 1986h0M683 2110h0M927 2116h0M1003 2058h0M750 2001h0M618 2119h0M508 1997h0M905 1991h0M809 2565h0M786 2112h0M762 2061h0M510 1974h0M568 2127h0M1011 1969h0M986 1997h0M646 2327h0M590 2024h0M630 1913h0M583 2070h0M902 2447h0M615 2370h0M690 2358h0M811 2548h0M861 2484h0M479 2144h0M739 2395h0M502 2164h0M915 2027h0M880 2452h0M803 2020h0M892 1891h0M745 2384h0M682 1937h0M991 1958h0M546 1977h0M807 2261h0M783 1925h0M811 2416h0M848 2504h0M969 2096h0M974 2013h0M693 2518h0M780 2282h0M715 2382h0M660 2019h0M643 2270h0M817 2389h0M612 2287h0M639 2408h0M724 2278h0M802 2124h0M959 2090h0M648 1832h0M925 2083h0M1077 2157h0M645 2543h0M719 2111h0M909 1942h0M910 1881h0M672 2237h0M564 1980h0M657 1839h0M698 2474h0M801 2480h0M841 2533h0M881 1876h0M636 2129h0M922 2024h0M632 2302h0M741 2233h0M1000 2381h0M834 2052h0M605 2337h0M483 2005h0M681 2130h0M666 2270h0M913 2453h0M719 2296h0M727 1996h0M981 2118h0M677 1879h0M754 2025h0M1105 2139h0M805 2127h0M937 2149h0M988 2028h0M642 2207h0M665 1909h0M662 1873h0M768 2300h0M818 1999h0M764 1969h0M668 1926h0M946 2392h0M688 1925h0M916 2012h0M789 2545h0M627 2501h0M861 2502h0M677 2384h0M635 2264h0M434 1957h0M785 2304h0M1002 2027h0M624 1989h0M816 2396h0M711 2031h0M814 1973h0M646 2022h0M576 1984h0M966 2081h0M904 2445h0M954 1944h0M772 2400h0M576 2035h0M643 1916h0M952 2414h0M879 1898h0M935 2036h0M675 2009h0M973 2129h0M610 2202h0M732 2063h0M916 2481h0M606 2510h0M920 2424h0M796 2371h0M989 2045h0M684 2092h0M594 1957h0M643 1909h0M687 2110h0M765 2097h0M661 2463h0M619 2185h0M923 2147h0M797 2304h0M976 2461h0M545 1977h0M626 2115h0M631 2373h0M548 1989h0M967 2126h0M903 2050h0M571 2012h0M914 2395h0M876 2473h0M816 2086h0M879 1864h0M904 2453h0M492 2207h0M855 2374h0M686 2158h0M905 2088h0M944 2095h0M641 2223h0M679 1925h0M880 2492h0M630 1873h0M611 2049h0M736 1851h0M640 2125h0M963 1994h0M693 2038h0M972 2448h0M719 1960h0M649 2036h0M628 2024h0M804 2546h0M891 2439h0M735 2099h0M906 2448h0M437 2184h0M840 2271h0M972 2409h0M706 2409h0M994 2404h0M509 1986h0M621 2361h0M416 1966h0M626 2182h0M681 2446h0M668 2229h0M727 2402h0M688 2274h0M1012 1992h0M866 2449h0M641 2390h0M745 2013h0M1004 1973h0M744 2100h0M718 1897h0M842 2386h0M916 2406h0M960 2498h0M978 2487h0M937 2453h0M773 2263h0M919 1956h0M778 1945h0M988 2102h0M745 2343h0M621 2296h0M785 2514h0M1028 2432h0M915 1876h0M614 1989h0M652 2182h0M999 2050h0M720 2237h0M671 2447h0M815 2476h0M651 2122h0M944 2388h0M710 2122h0M802 2497h0M670 2492h0M687 2108h0M761 2058h0M718 2317h0M836 2493h0M496 2166h0M756 2349h0M751 2236h0M494 2160h0M670 2112h0M699 1868h0M869 2473h0M851 2460h0M682 1827h0M714 2250h0M748 1925h0M995 2087h0M754 2091h0M662 2347h0M997 2044h0M457 2187h0M928 2432h0M723 2409h0M752 2043h0M650 2401h0M774 1895h0M959 2398h0M660 2106h0M904 1988h0M753 2242h0M771 1939h0M938 2133h0M767 2159h0M602 1938h0M584 2156h0M673 2351h0M971 2491h0M722 2314h0M600 2019h0M898 2405h0M1003 1950h0M695 2299h0M655 2247h0M646 2000h0M493 2023h0M956 2480h0M752 2010h0M427 2147h0M443 2181h0M729 2375h0M518 2017h0M936 1943h0M679 1950h0M632 2310h0M641 2399h0M637 2310h0M851 2009h0M534 2064h0M867 2467h0M419 1964h0M590 2164h0M908 2093h0M969 2476h0M477 2026h0M790 2420h0M945 2041h0M498 1984h0M940 2127h0M790 2054h0M698 1891h0M722 2068h0M935 2085h0M934 2076h0M799 1937h0M971 2469h0M899 2428h0M704 2338h0M951 1965h0M912 1863h0M968 2113h0M968 2067h0M715 2056h0M1007 1954h0M880 2501h0M974 2460h0M931 2424h0M806 2291h0M990 1977h0M924 1975h0M978 2100h0M948 2007h0M745 2297h0M972 2028h0M1002 2476h0M965 2468h0M974 2489h0M788 2347h0M895 2412h0M781 2134h0M799 2540h0M1077 2178h0M818 2506h0M794 2561h0M636 2448h0M928 2483h0M730 1996h0M702 2228h0M615 2228h0M630 2222h0M986 2453h0M669 2522h0M804 1987h0M920 1980h0M970 2028h0M849 2351h0M690 2228h0M748 1865h0M438 1927h0M690 2123h0M941 2452h0M914 2460h0M811 2480h0M698 2271h0M748 2425h0M660 2525h0M831 2220h0M655 2046h0M731 2294h0M642 1860h0M804 2574h0M693 2000h0M901 2028h0M888 2456h0M653 2301h0M988 2071h0M565 1982h0M890 2493h0M859 2334h0M636 1973h0M690 1965h0M808 1982h0M838 2369h0M600 1979h0M908 1948h0M847 2461h0M917 2084h0M874 2481h0M716 2306h0M967 2399h0M764 1887h0M411 1973h0M809 2344h0M657 1959h0M848 2100h0M721 2228h0M694 2266h0M718 1874h0M827 1992h0M735 2390h0M651 1891h0M707 2359h0M799 2409h0M820 2500h0M997 2383h0M483 2000h0M707 2088h0M888 2488h0M747 2367h0M635 1851h0M913 1954h0"/>
<path stroke="#fbecf0" d="M666 1941h0M742 2129h0M800 2534h0M812 1946h0M1008 2033h0M725 2234h0M665 1846h0M922 1940h0M808 2128h0M930 2450h0M886 2487h0M623 2079h0M824 2543h0M978 2113h0M791 1911h0M906 1950h0M647 1868h0M818 2348h0M634 2459h0M617 2023h0M640 1864h0M735 2118h0M649 1920h0M652 2497h0M940 1995h0M1073 2149h0M639 2256h0M715 2009h0M775 2217h0M602 1954h0M822 2076h0M694 1986h0M963 2140h0M739 2083h0M766 2020h0M727 2116h0M705 1893h0M497 2011h0M657 2058h0M866 2531h0M849 2304h0M630 2053h0M995 2077h0M992 2092h0M507 1973h0M1007 2014h0M835 2468h0M521 2226h0M802 2071h0M824 2310h0M748 1955h0M613 1989h0M606 2494h0M655 2147h0M977 2457h0M981 2010h0M749 2422h0M797 2549h0M721 2042h0M763 2277h0M899 2433h0M698 2290h0M986 1964h0M897 2109h0M492 1997h0M643 2292h0M1021 2008h0M928 2482h0M812 2305h0M662 2115h0M678 2292h0M834 2478h0M442 2201h0M986 1938h0M511 2048h0M820 2264h0M874 2465h0M943 2032h0M598 2147h0M676 2290h0M871 2461h0M821 2220h0M634 2285h0M629 2537h0M717 2262h0M636 2283h0M647 1891h0M639 2022h0M683 1936h0M692 1910h0M715 2417h0M776 2353h0M654 2276h0M812 2515h0M511 1975h0M804 2096h0M771 2341h0M791 1970h0M717 2157h0M648 2127h0M818 2558h0M898 2140h0M991 2445h0M607 2076h0M900 2098h0M751 2425h0M868 1882h0M685 2488h0M735 2001h0M709 2355h0M812 2344h0M836 2267h0M1089 2142h0M885 1906h0M840 2397h0M627 2225h0M822 2021h0M647 2472h0M893 1871h0M635 2202h0M695 2376h0M809 2500h0M680 2443h0M952 1964h0M823 2564h0M831 2395h0M910 1960h0M1006 2024h0M850 2507h0M702 2329h0M622 2228h0M964 2109h0M820 2139h0M564 1982h0M958 2030h0M601 2047h0M806 2459h0M685 2502h0M967 1966h0M826 2118h0M500 2022h0M993 2387h0M925 2060h0M661 2296h0M763 2425h0M863 2336h0M597 2043h0M740 2092h0M520 2072h0M968 2404h0M955 2131h0M906 1949h0M623 2360h0M342 2114h0M925 2117h0M470 2137h0M916 2450h0M922 2422h0M616 2000h0M928 2080h0M657 2044h0M647 2051h0M767 2341h0M736 1921h0M626 2185h0M817 2497h0M934 2105h0M628 2516h0M929 2127h0M846 2522h0M959 2390h0M770 2124h0M879 2431h0M762 2348h0M603 2039h0M970 1967h0M737 2020h0M465 2134h0M897 2137h0M951 2368h0M693 1918h0M843 2548h0M489 2152h0M713 2416h0M710 1949h0M933 2017h0M759 1913h0M600 2198h0M954 2014h0M691 2144h0M944 2128h0M875 2514h0M675 1874h0M963 1946h0M741 1939h0M796 2111h0M741 2294h0M762 2014h0M779 1923h0M811 2500h0M1006 2022h0M976 2503h0M694 2520h0M1000 1988h0M604 2161h0M695 1907h0M921 1979h0M940 1961h0M653 2300h0M976 2520h0M782 2143h0M953 2033h0M736 1991h0M996 2474h0M926 2486h0M785 2234h0M860 2487h0M963 2414h0M609 2037h0M676 2540h0M654 2194h0M790 2517h0M844 2277h0M653 2111h0M824 2476h0M1002 2375h0M841 2314h0M801 2349h0M669 2512h0M915 2001h0M728 2125h0M899 2094h0M960 1991h0M612 2307h0M648 1890h0M981 1941h0M850 2002h0M933 2085h0M836 2462h0M717 2146h0M603 2267h0M660 2055h0M805 2110h0M668 1844h0M636 2114h0M1006 2058h0M715 1858h0M754 2154h0M838 2280h0M617 2367h0M907 2438h0M774 2268h0M414 2177h0M889 1907h0M1078 2173h0M639 1909h0M831 2304h0M780 1999h0M726 2245h0M685 2282h0M629 1962h0M689 1932h0M932 2094h0M541 2049h0M666 2063h0M788 2107h0M709 2225h0M599 1998h0M624 2158h0M888 1870h0M708 1830h0M739 2279h0M643 2234h0M640 2328h0M950 2033h0M888 2434h0M682 1949h0M980 2053h0M514 2171h0M912 2117h0M883 1876h0M930 1964h0M652 2130h0M612 2079h0M754 1865h0M788 2150h0M600 2028h0M793 2509h0M974 1993h0M664 1875h0M961 2508h0M888 2480h0M792 2020h0M874 2520h0M951 2005h0M790 2355h0M907 2148h0M623 2257h0M745 1886h0M910 2128h0M658 2175h0M781 2254h0M816 2402h0M636 2350h0M933 1948h0M942 2003h0M785 2344h0M768 2370h0M669 2114h0M856 2492h0M568 2059h0M684 2087h0M765 2319h0M983 2118h0M837 2333h0M638 2410h0M987 1969h0M715 2298h0M616 1938h0M652 1850h0M1014 2013h0M772 2423h0M513 2062h0M1008 2064h0M766 1977h0M664 1982h0M947 2396h0M702 2114h0M988 1998h0M643 2267h0M968 1960h0M1005 2383h0M679 2511h0M769 1939h0M831 1970h0M558 2041h0M617 2218h0M586 2033h0M782 2031h0M650 2169h0M543 2017h0M626 2260h0M969 2444h0M759 2150h0M931 2453h0M656 2058h0M765 2304h0M996 2426h0M647 2258h0M843 2320h0M975 2444h0M876 1871h0M675 1904h0M571 2097h0M634 1879h0M851 2066h0M706 2011h0M712 1843h0M685 2485h0M739 1874h0M798 2530h0M980 2105h0M614 2021h0M759 2234h0M635 1857h0M717 2067h0M896 2061h0M959 2451h0M965 2074h0M711 1918h0M926 1965h0M613 1930h0M951 2095h0M712 1975h0M653 2506h0M912 2021h0M906 2030h0M845 2102h0M675 1852h0M962 2081h0M661 2249h0M835 2004h0M615 2273h0M672 1853h0M616 2331h0M703 1980h0M844 2261h0M989 2503h0M1015 1992h0M515 2028h0M695 2482h0M733 2286h0M713 1987h0M851 2307h0M987 2096h0M641 1873h0M503 2010h0M589 2128h0M915 2034h0M713 1990h0M691 1845h0M954 2448h0M898 2039h0M706 2098h0M670 1932h0M527 2045h0M953 2398h0M489 2197h0M681 2512h0M838 2110h0M991 2072h0M944 2004h0M908 1868h0M647 2470h0M815 2366h0M919 2032h0M805 2550h0M708 2390h0M590 1983h0M782 2019h0M643 2173h0M788 2514h0M924 2018h0M1003 2078h0M698 2046h0M1001 2023h0M647 1830h0M751 2334h0M500 2215h0M679 2350h0M806 2004h0M911 2413h0M890 2506h0M810 2033h0M756 1995h0M738 2408h0M672 2086h0M735 2347h0M660 2086h0M523 2021h0M865 2496h0M709 1999h0M855 2456h0M1000 2005h0M723 2371h0M667 2348h0M1019 2272h0M1052 2298h0M582 2048h0M800 2394h0M1019 1974h0M676 2333h0M662 2091h0M658 2231h0M935 2132h0M752 2159h0M710 2405h0M1078 2275h0M647 2156h0M904 2423h0M990 2016h0M919 1998h0M1030 2230h0M645 2165h0M1034 2295h0M978 2021h0M906 2442h0M819 2518h0M1046 2279h0M750 2090h0M886 2485h0M436 2181h0M822 2252h0M1078 2312h0M1014 2228h0M1033 2276h0M1038 2301h0M951 2000h0M884 1907h0M1025 2285h0M654 2243h0M921 2000h0M1012 2221h0M924 1992h0M720 2306h0M738 2426h0M614 2207h0M579 2136h0M1035 2267h0M605 2143h0M1049 2246h0M1000 2399h0M996 2458h0M1010 2220h0M798 1990h0M818 2521h0M949 2018h0M597 2039h0M644 1939h0M778 2000h0M1008 1976h0M643 2366h0M1018 2283h0M987 2209h0M560 1996h0M849 2475h0M1078 2134h0M864 2321h0M1028 2293h0M1031 2243h0M778 1965h0M1071 2279h0M421 2224h0M678 2498h0M709 2202h0M969 1986h0M531 1980h0M956 1947h0M988 2281h0M617 2122h0M872 2467h0M569 1958h0M831 2114h0M504 2050h0M1029 2294h0M994 2248h0M1016 2275h0M992 2373h0M1046 2292h0M726 1865h0M489 2016h0M678 1980h0M787 2552h0M1030 2227h0M768 2250h0M822 2475h0M1043 2256h0M942 2015h0M1005 2267h0M739 2231h0M684 2074h0M911 2454h0M518 2065h0M472 2027h0M934 2037h0M786 2063h0M1041 2250h0M1008 2247h0M628 1949h0M1008 2236h0M784 2509h0M821 1982h0M1035 2264h0M1016 2218h0M639 2533h0M1051 2289h0M1044 2244h0M512 2032h0M695 2157h0M621 2339h0M1003 2276h0M916 1952h0M945 2110h0M642 1966h0M544 2027h0M554 2016h0M720 2379h0M926 2451h0M855 2070h0M509 1982h0M1062 2288h0M642 2305h0M1015 1975h0M1061 2288h0M1072 2301h0M606 2152h0M604 2494h0M1066 2308h0M645 2196h0M932 2000h0M1007 2274h0M935 2069h0M655 2236h0M703 2009h0M701 1863h0M829 2473h0M921 2040h0M913 2399h0M843 2331h0M820 2525h0M646 2244h0M801 2308h0"/>
<path stroke="#f8dee5" d="M837 2473h0M755 1990h0M1027 2279h0M808 2423h0M1052 2291h0M677 2453h0M986 2276h0M595 2062h0M823 2508h0M777 2231h0M862 2547h0M915 1972h0M974 2488h0M958 2455h0M652 2234h0M1067 2300h0M995 2227h0M704 2504h0M1064 2260h0M948 1954h0M940 1938h0M940 2137h0M676 2298h0M924 1964h0M660 2255h0M611 2194h0M632 1930h0M1001 2229h0M1044 2254h0M925 2011h0M935 2000h0M1076 2308h0M964 2004h0M746 1996h0M1009 2002h0M1001 2229h0M450 2223h0M955 2465h0M866 2534h0M783 2507h0M708 2334h0M649 1956h0M774 2222h0M1017 2258h0M725 2103h0M963 2361h0M720 2413h0M759 1900h0M776 1894h0M1024 2262h0M723 2134h0M637 2201h0M1080 2301h0M1050 2249h0M636 2275h0M1014 2250h0M774 1981h0M641 2080h0M497 2168h0M567 2149h0M710 2248h0M1058 2270h0M681 1863h0M996 2027h0M869 2518h0M594 1953h0M684 2092h0M652 2057h0M1014 2239h0M1002 2269h0M1040 2291h0M1022 2278h0M839 2393h0M603 2313h0M641 2012h0M528 2073h0M1025 2277h0M1062 2276h0M732 2112h0M416 1988h0M790 2204h0M828 1986h0M1012 2224h0M992 2252h0M816 2533h0M620 2491h0M771 1998h0M1063 2294h0M522 2196h0M674 2159h0M675 2439h0M1020 2279h0M937 2445h0M599 2064h0M1017 2007h0M741 2047h0M609 2275h0M1054 2271h0M636 2363h0M673 1957h0M794 2139h0M993 2280h0M1041 2288h0M640 2137h0M982 2474h0M656 2368h0M988 2364h0M777 2132h0M706 2272h0M1070 2279h0M1015 2240h0M1016 2261h0M1035 2228h0M1050 2291h0M1011 2228h0M1055 2243h0M1000 2223h0M1067 2316h0M1016 2236h0M1056 2254h0M1040 2261h0M1000 2241h0M1042 2246h0M1077 2290h0M993 2241h0M1026 2244h0M1064 2297h0M999 2210h0M997 2266h0M950 2200h0M1047 2287h0M502 2488h0M1063 2282h0M956 2233h0M992 2211h0M1036 2251h0M925 2208h0M890 2284h0"/>
<path stroke="#f5d0db" d="M931 2261h0M1073 2318h0M1027 2283h0M1042 2242h0M1029 2251h0M1007 2242h0M922 2198h0M960 2280h0M916 2243h0M910 2232h0M981 2258h0M961 2231h0M1032 2302h0M1041 2258h0M999 2288h0M1064 2282h0M980 2213h0M1065 2315h0M1035 2256h0M889 2253h0M990 2278h0M1065 2319h0M880 2215h0M488 2501h0M921 2199h0M926 2247h0M971 2260h0M913 2202h0M1014 2238h0M1067 2305h0M949 2286h0M1043 2244h0M955 2270h0M996 2277h0M1000 2271h0M960 2205h0M899 2256h0M889 2290h0M951 2208h0M1026 2276h0M486 2494h0M962 2259h0M896 2225h0M971 2248h0M992 2291h0M882 2237h0M934 2255h0M1019 2221h0M915 2201h0M997 2288h0M927 2193h0M1000 2239h0M891 2264h0M913 2284h0M506 2492h0M987 2218h0M977 2268h0M1064 2304h0M909 2255h0M959 2239h0M1008 2289h0M954 2281h0M935 2194h0M976 2284h0M1076 2274h0M977 2270h0M1069 2281h0M976 2281h0M996 2208h0M1042 2234h0M1053 2242h0M992 2245h0M977 2228h0M1023 2268h0M891 2228h0M898 2237h0M1077 2305h0M1005 2214h0M1025 2285h0M1017 2268h0M1077 2299h0M883 2230h0M888 2213h0M915 2254h0M895 2222h0M1009 2259h0M885 2219h0M931 2268h0M1076 2303h0M1058 2318h0M894 2219h0M942 2261h0M429 2352h0M505 2276h0M961 2224h0M938 2244h0M1011 2290h0M1010 2213h0M433 2316h0M1078 2316h0M920 2205h0M473 2352h0M528 2395h0M977 2267h0M472 2350h0M497 2330h0M1043 2254h0M436 2308h0M940 2221h0M554 2405h0M967 2258h0M912 2284h0M451 2339h0M1012 2270h0M922 2204h0M1072 2287h0M953 2272h0M452 2338h0M921 2250h0M905 2257h0M1045 2272h0M985 2254h0M434 2233h0M479 2366h0M989 2212h0M469 2363h0M914 2286h0M933 2244h0M1013 2227h0M564 2368h0M1029 2248h0M1024 2229h0M1047 2271h0M1060 2297h0M475 2358h0M1061 2248h0M1047 2240h0M985 2242h0M526 2279h0M911 2189h0M971 2248h0M881 2193h0M1056 2260h0M1036 2288h0M902 2260h0M1008 2242h0M483 2328h0M442 2327h0M447 2292h0M912 2208h0M533 2347h0M1062 2287h0"/>
<path stroke="#f2c1d0" d="M931 2217h0M923 2234h0M890 2204h0M1054 2259h0M518 2281h0M966 2222h0M499 2383h0M967 2284h0M1062 2301h0M1032 2234h0M434 2332h0M1056 2264h0M1053 2253h0M549 2307h0M1023 2285h0M925 2253h0M485 2317h0M545 2384h0M1080 2297h0M944 2269h0M453 2258h0M993 2269h0M552 2356h0M922 2211h0M976 2263h0M432 2239h0M928 2282h0M922 2183h0M534 2318h0M1049 2240h0M913 2192h0M904 2228h0M932 2287h0M1010 2239h0M903 2204h0M981 2252h0M466 2370h0M917 2302h0M1052 2250h0M467 2304h0M1075 2282h0M498 2339h0M445 2343h0M478 2282h0M436 2301h0M458 2302h0M524 2341h0M939 2279h0M529 2345h0M907 2281h0M495 2287h0M1017 2227h0M1001 2237h0M887 2281h0M967 2207h0M1026 2239h0M1025 2236h0M511 2320h0M980 2263h0M988 2259h0M1069 2266h0M971 2259h0M530 2380h0M1041 2284h0M913 2278h0M909 2184h0M997 2233h0M926 2213h0M977 2243h0M990 2238h0M530 2389h0M558 2367h0M940 2204h0M430 2332h0M931 2260h0M432 2280h0M977 2265h0M907 2244h0M989 2269h0M455 2367h0M539 2344h0M546 2296h0M469 2370h0M516 2292h0M957 2229h0M531 2312h0M901 2287h0M549 2317h0M547 2390h0M492 2331h0M497 2340h0M469 2301h0M445 2251h0M907 2243h0M429 2332h0M488 2268h0M980 2255h0M490 2266h0M503 2331h0M459 2373h0M440 2323h0M929 2193h0M452 2366h0M915 2236h0M466 2345h0M520 2410h0M500 2272h0M944 2213h0M942 2261h0M970 2254h0M917 2217h0M884 2196h0M950 2285h0M932 2208h0M917 2198h0M897 2225h0M962 2239h0M461 2386h0M538 2329h0M925 2214h0M441 2299h0M969 2244h0M923 2265h0M534 2276h0M939 2202h0M518 2325h0M517 2299h0M476 2360h0M536 2313h0M909 2185h0M543 2305h0M503 2499h0M982 2228h0M460 2272h0M905 2294h0M446 2342h0M960 2202h0M922 2242h0M884 2290h0M904 2197h0M898 2218h0M502 2396h0M425 2257h0M506 2348h0M453 2350h0"/>
<path stroke="#f1b2c5" d="M550 2376h0M943 2245h0M531 2419h0M565 2401h0M905 2246h0M461 2332h0M959 2202h0M982 2212h0M472 2386h0M914 2266h0M541 2285h0M470 2367h0M946 2233h0M513 2312h0M442 2257h0M548 2414h0M536 2311h0M951 2282h0M474 2294h0M509 2273h0M909 2226h0M445 2244h0M507 2399h0M478 2315h0M535 2307h0M523 2340h0M532 2362h0M911 2221h0M967 2238h0M973 2262h0M889 2259h0M914 2185h0M487 2496h0M447 2367h0M911 2189h0M497 2496h0M470 2272h0M510 2296h0M953 2223h0M929 2218h0M515 2409h0M983 2235h0M914 2271h0M924 2235h0M899 2188h0M498 2358h0M497 2388h0M884 2291h0M910 2302h0M907 2234h0M942 2211h0M440 2230h0M503 2296h0M461 2289h0M512 2496h0M467 2283h0M925 2227h0M433 2339h0M951 2251h0M925 2294h0M423 2307h0M528 2393h0M489 2267h0M542 2287h0M555 2316h0M947 2214h0M515 2402h0M931 2229h0M503 2372h0M892 2213h0M524 2369h0M931 2201h0M891 2201h0M531 2282h0M917 2216h0M528 2308h0M978 2270h0M566 2405h0M934 2190h0M516 2377h0M523 2397h0M918 2244h0M425 2279h0M506 2326h0M481 2364h0M935 2294h0M942 2293h0M433 2360h0M958 2220h0M463 2281h0M959 2293h0M460 2387h0M492 2313h0M883 2271h0M527 2299h0M918 2262h0M448 2236h0M472 2290h0M980 2232h0M926 2241h0M504 2485h0M460 2284h0M903 2229h0M432 2353h0M956 2222h0M916 2242h0M505 2292h0"/>
<path stroke="#f79cb7" d="M550 2329h0M930 2228h0M984 2243h0M899 2269h0M926 2208h0M502 2507h0M456 2380h0M930 2237h0M454 2284h0M471 2281h0M954 2266h0M889 2256h0M945 2294h0M958 2259h0M523 2317h0M446 2242h0M423 2245h0M426 2233h0M498 2389h0M438 2252h0M892 2227h0M551 2308h0M540 2384h0M979 2286h0M932 2268h0M517 2314h0M538 2420h0M978 2272h0M436 2335h0M937 2299h0M488 2488h0M962 2202h0M982 2285h0M901 2272h0M439 2306h0M931 2239h0M903 2198h0M514 2381h0M911 2254h0M424 2265h0M434 2347h0M934 2249h0M536 2294h0M540 2319h0M954 2258h0M549 2296h0M537 2327h0M564 2401h0M902 2248h0M943 2252h0M448 2372h0M514 2386h0M898 2287h0M446 2363h0M447 2354h0M970 2206h0M514 2488h0M487 2363h0M951 2247h0M517 2378h0M882 2221h0M891 2269h0M968 2236h0M953 2272h0M939 2284h0M523 2329h0M927 2283h0M536 2369h0M444 2295h0M916 2270h0M521 2335h0M445 2326h0M534 2359h0M970 2285h0M937 2251h0M980 2219h0M907 2202h0M419 2280h0M451 2278h0M942 2238h0M919 2186h0M968 2232h0M532 2314h0M967 2220h0M971 2291h0M481 2289h0M487 2296h0M428 2233h0M922 2183h0M444 2270h0M460 2390h0M973 2245h0M465 2380h0M535 2324h0M424 2256h0M558 2355h0M481 2299h0M929 2232h0M490 2483h0M949 2296h0M551 2423h0M930 2187h0M916 2299h0M521 2388h0M464 2288h0M548 2355h0M979 2253h0M981 2240h0M537 2369h0M932 2264h0M534 2303h0M974 2285h0M511 2390h0M459 2350h0M505 2363h0M494 2294h0M522 2407h0M982 2263h0M973 2231h0M489 2290h0M491 2314h0M918 2226h0M471 2373h0M962 2241h0M492 2313h0M931 2225h0M960 2251h0M520 2320h0M958 2207h0M477 2343h0M428 2265h0M920 2269h0M506 2474h0M955 2272h0M525 2288h0M920 2253h0M488 2328h0M452 2280h0M898 2203h0M960 2243h0M966 2215h0M512 2348h0M968 2222h0M432 2261h0M944 2266h0M503 2314h0M439 2370h0M514 2336h0M438 2260h0"/>
<path stroke="#f883ab" d="M916 2262h0M971 2235h0M910 2261h0M438 2358h0M558 2316h0M902 2216h0M501 2385h0M516 2302h0M926 2236h0M452 2295h0M885 2273h0M556 2326h0M542 2372h0M899 2248h0M535 2371h0M974 2289h0M512 2391h0M538 2309h0M541 2295h0M482 2316h0M969 2284h0M450 2241h0M475 2380h0M497 2378h0M977 2279h0M952 2250h0M948 2252h0M889 2283h0M896 2253h0M942 2225h0M525 2299h0M948 2243h0M880 2216h0M918 2267h0M958 2206h0M482 2380h0M974 2210h0M980 2277h0M896 2240h0M900 2254h0M458 2260h0M536 2286h0M531 2414h0M928 2194h0M489 2392h0M524 2352h0M448 2281h0M930 2219h0M481 2391h0M913 2293h0M931 2284h0M500 2293h0M912 2201h0M472 2289h0M899 2242h0M923 2222h0M426 2232h0M950 2197h0M447 2316h0M922 2302h0M456 2366h0M904 2263h0M543 2320h0M932 2287h0M541 2351h0M947 2262h0M890 2278h0M951 2261h0M471 2305h0M504 2274h0M444 2253h0M901 2198h0M888 2254h0M450 2258h0M516 2357h0M451 2379h0M894 2298h0M454 2256h0M440 2276h0M524 2284h0M471 2328h0M534 2302h0M504 2359h0M425 2340h0M540 2298h0M525 2286h0M432 2313h0M430 2261h0M523 2395h0"/>
<path stroke="#f767a1" d="M446 2326h0M519 2349h0M491 2287h0M509 2378h0M515 2385h0M510 2340h0M474 2372h0M523 2370h0M559 2343h0M455 2262h0M559 2318h0M493 2308h0M534 2422h0M467 2327h0M492 2299h0M445 2332h0M512 2326h0M496 2308h0M435 2358h0M479 2347h0M458 2372h0M449 2330h0M451 2274h0M514 2299h0M517 2369h0M428 2308h0M494 2284h0M559 2369h0M441 2252h0M444 2300h0M544 2350h0M557 2393h0M426 2313h0M525 2392h0M533 2276h0M479 2283h0M534 2421h0M435 2231h0M467 2338h0M527 2404h0"/>
<path stroke="#ea4d9c" d="M524 2306h0M522 2401h0M522 2295h0M438 2343h0M457 2240h0M459 2324h0M492 2335h0M477 2349h0M447 2278h0M508 2321h0M528 2300h0M502 2372h0M511 2339h0M514 2339h0M510 2302h0M474 2389h0M461 2294h0M425 2324h0M522 2404h0M500 2318h0M449 2291h0M428 2295h0M436 2355h0M562 2406h0M477 2383h0M546 2324h0M462 2294h0M457 2296h0M544 2293h0M511 2278h0M538 2376h0M441 2365h0M489 2388h0M465 2267h0M514 2388h0M515 2363h0M499 2311h0M504 2337h0M447 2298h0"/>
<path stroke="#dc3397" d="M481 2338h0M500 2356h0M488 2336h0M530 2374h0M508 2377h0M447 2291h0M419 2272h0M498 2368h0M444 2253h0M467 2356h0M438 2367h0M546 2370h0M558 2341h0M488 2368h0M547 2344h0M490 2391h0"/>
<path stroke="#c4198a" d="M466 2301h0M510 2301h0M496 2350h0M445 2317h0M453 2260h0M454 2323h0M509 2331h0M449 2286h0M445 2342h0M475 2387h0M542 2380h0M558 2388h0"/>
<path stroke="#ad017e" d="M544 2387h0M493 2346h0M437 2282h0M438 2307h0M548 2327h0M471 2361h0M527 2414h0M494 2388h0M501 2330h0M559 2387h0M445 2326h0M480 2306h0M441 2244h0M424 2256h0M552 2417h0M531 2367h0M514 2341h0M436 2351h0M462 2327h0"/>
</g></g>
<g filter="url(#bl)"><g transform="translate(692.10 0) scale(0.2)" stroke-linecap="round" stroke-width="9.5" fill="none">
<path stroke="#fefafa" d="M437 2184h0M784 2499h0M534 2421h0M971 2260h0M718 2317h0M757 2221h0M943 2466h0M779 2377h0M683 2259h0M967 2238h0M940 2204h0M706 2306h0M523 2370h0M911 2189h0M429 2332h0M479 2153h0M620 2491h0M926 2213h0M739 2208h0M952 2493h0M1032 2234h0M617 2507h0M855 2456h0M843 2548h0M1035 2267h0M831 2453h0M1052 2298h0M496 2308h0M960 2508h0M960 2280h0M963 2361h0M907 2234h0M475 2387h0M530 2374h0M966 2215h0M971 2459h0M924 2235h0M636 2275h0M976 2461h0M666 2270h0M742 2386h0M890 2493h0M709 2252h0M1001 2407h0M842 2224h0M488 2368h0M1053 2253h0M837 2359h0M820 2249h0M520 2320h0M849 2475h0M949 2296h0M621 2294h0M1093 2177h0M919 2463h0M942 2459h0M904 2423h0M448 2281h0M459 2373h0M489 2187h0M967 2220h0M814 2536h0M656 2368h0M831 2395h0M931 2453h0M662 2475h0M959 2239h0M650 2378h0M815 2499h0M888 2456h0M793 2269h0M822 2475h0M809 2500h0M943 2245h0M823 2508h0M970 2285h0M781 2314h0M735 2396h0M903 2411h0M719 2296h0M889 2449h0M702 2228h0M479 2283h0M794 2544h0M541 2285h0M419 2280h0M467 2221h0M717 2262h0M448 2176h0M460 2272h0M490 2266h0M739 2414h0M796 2205h0M824 2543h0M804 2281h0M761 2271h0M847 2340h0M1000 2241h0M615 2370h0M993 2269h0M1056 2264h0M1064 2260h0M808 2364h0M830 2520h0M915 2201h0M962 2448h0M742 2382h0M951 2247h0M472 2350h0M433 2339h0M718 2279h0M645 2355h0M784 2419h0M942 2293h0M1058 2318h0M775 2217h0M540 2384h0M976 2401h0M503 2296h0M955 2449h0M806 2467h0M914 2480h0M630 2334h0M941 2397h0M880 2216h0M762 2348h0M900 2460h0M502 2396h0M552 2356h0M931 2424h0M977 2473h0M755 2224h0M929 2457h0M870 2538h0M804 2463h0M442 2173h0M992 2373h0M969 2484h0M875 2508h0M600 2285h0M859 2334h0M994 2404h0M704 2215h0M619 2377h0M787 2280h0M728 2334h0M405 1962h0M467 2283h0M704 2309h0M651 2300h0M861 2304h0M967 2284h0M934 2255h0M850 2293h0M954 2281h0M627 2346h0M993 2452h0M419 2193h0M969 2284h0M911 2189h0M1008 2289h0M1013 2227h0M829 2553h0M930 2187h0M797 2549h0M481 2364h0M655 2247h0M653 2301h0M823 2307h0M668 2415h0M979 2286h0M920 2424h0M720 2413h0M623 2493h0M955 2397h0M989 2503h0M830 2347h0M958 2259h0M777 2231h0M1067 2305h0M791 2514h0M428 2295h0M654 2243h0M836 2513h0M926 2208h0M617 2506h0M753 2318h0M448 2372h0M1058 2270h0M872 2467h0M534 2318h0M861 2302h0M687 2207h0M638 2337h0M850 2537h0M498 2389h0M556 2326h0M864 2308h0M966 2378h0M535 2324h0M482 2163h0M841 2544h0M851 2348h0M866 2531h0M813 2465h0M645 2543h0M815 2512h0M890 2506h0M801 2480h0M547 2390h0M1049 2246h0M780 2427h0M969 2244h0M630 2222h0M1011 2451h0M993 2400h0M904 2402h0M660 2525h0M781 2231h0M909 2466h0M814 2306h0M620 2512h0M1076 2303h0M982 2398h0M432 2239h0M947 2262h0M994 2248h0M972 2409h0M421 2211h0M691 2418h0M950 2197h0M558 2367h0M446 2342h0M916 2243h0M661 2463h0M992 2245h0M447 2354h0M710 2248h0M655 2525h0M692 2501h0M747 2367h0M922 2183h0M508 2321h0M961 2474h0M677 2445h0M930 2237h0M867 2467h0M854 2345h0M1040 2261h0M977 2268h0M1000 2239h0M661 2413h0M499 2311h0M888 2477h0M840 2542h0M641 2399h0M960 2498h0M424 2265h0M922 2198h0M522 2404h0M899 2416h0M1080 2301h0M441 2252h0M606 2309h0M958 2449h0M717 2292h0M433 2360h0M941 2416h0M889 2253h0M832 2540h0M880 2501h0M971 2469h0M980 2459h0M695 2217h0M1097 2125h0M954 2258h0M933 2244h0M504 2337h0M751 2207h0M640 2529h0M541 2351h0M677 2384h0M967 2506h0M1050 2291h0M783 2249h0M918 2262h0M949 2486h0M426 2162h0M646 2240h0M610 2519h0M833 2381h0M772 2215h0M785 2344h0M796 2484h0M532 2362h0M424 2161h0M1096 2133h0M965 2468h0M445 2343h0M1087 2138h0M635 2264h0M512 2496h0M986 2453h0M511 2320h0M959 2398h0M793 2509h0M877 2492h0M564 2401h0M931 2201h0M934 2190h0M694 2471h0M800 2534h0M621 2361h0M629 2537h0M847 2284h0M917 2216h0M724 2353h0M454 2284h0M869 2482h0M997 2233h0M521 2226h0M992 2455h0M493 2221h0M451 2379h0M669 2512h0M642 2305h0M828 2568h0M447 2278h0M1061 2288h0M516 2302h0M422 2235h0M652 2374h0M690 2295h0M474 2144h0M627 2225h0M689 2478h0M876 2473h0M974 2289h0M863 2336h0M971 2248h0M559 2318h0M1046 2279h0M1019 2459h0M833 2386h0M942 2238h0M441 2244h0M668 2543h0M422 2178h0M806 2234h0M817 2488h0M1038 2301h0M941 2454h0M960 2202h0M890 2502h0M913 2284h0M454 2256h0M863 2531h0M543 2320h0M891 2228h0M895 2222h0M995 2500h0M505 2276h0M1024 2405h0M709 2355h0M918 2226h0M854 2475h0M773 2263h0M821 2363h0M457 2185h0M918 2488h0M649 2528h0M962 2241h0M1044 2244h0M816 2223h0M990 2278h0M996 2277h0M980 2213h0M639 2533h0M746 2271h0M498 2358h0M918 2418h0M1004 2386h0M508 2377h0M980 2255h0M881 2513h0M904 2422h0M636 2350h0M506 2474h0M503 2314h0M606 2301h0M675 2247h0M952 2250h0M926 2236h0M802 2533h0M471 2328h0M806 2395h0M967 2399h0M842 2464h0M916 2270h0M464 2288h0M820 2500h0M698 2223h0M509 2198h0M962 2239h0M544 2293h0M612 2528h0M528 2395h0M747 2284h0M515 2385h0M638 2217h0M461 2386h0M899 2269h0M914 2271h0M834 2294h0M862 2547h0M971 2483h0M652 2497h0M497 2340h0M928 2194h0M677 2453h0M672 2400h0M466 2301h0M965 2428h0M535 2307h0M946 2392h0M489 2392h0M720 2237h0M741 2399h0M632 2271h0M434 2347h0M971 2248h0M901 2198h0M510 2296h0M874 2497h0M779 2545h0M917 2302h0M929 2218h0M921 2250h0M538 2376h0M971 2448h0M802 2327h0M422 2183h0M1078 2275h0M866 2544h0M1002 2476h0M517 2314h0M976 2520h0M817 2497h0M492 2313h0M794 2483h0M770 2419h0M669 2469h0M856 2434h0M531 2419h0M880 2492h0M815 2366h0M436 2351h0M934 2449h0M719 2281h0M654 2302h0M514 2171h0M1000 2381h0M977 2228h0M869 2286h0M617 2367h0M752 2403h0M970 2415h0M653 2326h0M929 2432h0M1031 2243h0M931 2225h0M655 2236h0M913 2453h0M838 2535h0M1062 2288h0M512 2326h0M1075 2145h0M718 2327h0M973 2231h0M843 2525h0M816 2396h0M824 2476h0M646 2469h0M493 2308h0M535 2371h0M631 2373h0M479 2366h0M956 2418h0M419 1964h0M430 2332h0M961 2231h0M1004 2361h0M993 2387h0M881 2490h0M511 2339h0M838 2391h0M732 2298h0M958 2220h0M508 2195h0M701 2421h0M479 2347h0M971 2259h0M955 2270h0M916 2481h0M676 2248h0M821 2244h0M723 2409h0M685 2488h0M866 2461h0M778 2522h0M903 2204h0M542 2380h0M896 2240h0M500 2318h0M470 2272h0M458 2260h0M817 2505h0M922 2422h0M524 2352h0M858 2422h0M522 2295h0M817 2481h0M643 2292h0M536 2311h0M816 2487h0M919 2186h0M959 2490h0M939 2472h0M823 2263h0M650 2495h0M673 2383h0M679 2454h0M416 1988h0M715 2346h0M990 2238h0M850 2263h0M462 2294h0M742 2249h0M882 2496h0M1070 2279h0M729 2336h0M489 2388h0M918 2492h0M634 2459h0M525 2286h0M942 2225h0M992 2211h0M436 2220h0M627 2501h0M675 2516h0M968 2222h0M1011 2228h0M693 2310h0M537 2327h0M816 2498h0M939 2284h0M946 2402h0M467 2338h0M481 2391h0M957 2388h0M471 2361h0M953 2468h0M683 2469h0M852 2480h0M678 2451h0M950 2200h0M837 2287h0M836 2237h0M816 2224h0M450 2223h0M487 2496h0M806 2291h0M680 2344h0M435 2358h0M748 2231h0M634 2306h0M988 2364h0M950 2390h0M768 2370h0M522 2401h0M777 2404h0M976 2503h0M999 2210h0M670 2470h0M620 2325h0M907 2243h0M410 1956h0M896 2495h0M833 2521h0M854 2542h0M936 2501h0M963 2414h0M821 2377h0M744 2380h0M437 2282h0M993 2241h0M852 2378h0M952 2414h0M823 2255h0M492 2166h0M643 2366h0M742 2396h0M558 2316h0M656 2245h0M934 2249h0M829 2543h0M455 2262h0M882 2471h0M970 2417h0M901 2287h0M959 2451h0M704 2296h0M514 2336h0M517 2378h0M465 2380h0M922 2419h0M496 2350h0M670 2492h0M638 2399h0M1028 2432h0M622 2308h0M675 2450h0M949 2286h0M1014 2361h0M679 2209h0M658 2415h0M946 2398h0M883 2519h0M607 2292h0M1066 2308h0M685 2282h0M1071 2279h0M904 2197h0M637 2343h0M710 2405h0M663 2476h0M843 2517h0M469 2363h0M967 2474h0M811 2416h0M761 2215h0M836 2493h0M517 2369h0M559 2387h0M886 2487h0M418 2165h0M500 2356h0M809 2565h0M864 2461h0M867 2460h0M973 2245h0M698 2271h0M439 2370h0M953 2460h0M830 2310h0M936 2405h0M1062 2301h0M637 2488h0M834 2233h0M704 2504h0M496 2166h0M809 2564h0M978 2392h0M636 2283h0M470 2367h0M438 2358h0M874 2481h0M706 2402h0M892 2213h0M941 2452h0M675 2439h0M476 2198h0M703 2303h0M767 2341h0M981 2252h0M434 1957h0M660 2255h0M603 2324h0M676 2290h0M942 2395h0M658 2231h0M691 2353h0M918 2267h0M880 2429h0M472 2290h0M449 2330h0M851 2534h0M504 2274h0M781 2254h0M799 2540h0M840 2397h0M876 2463h0M768 2409h0M848 2504h0M948 2385h0M634 2491h0M885 2219h0M959 2202h0M653 2472h0M796 2524h0M925 2444h0M473 2352h0M478 2282h0M980 2443h0M524 2369h0M895 2412h0M768 2250h0M1014 2238h0M709 2225h0M679 2350h0M839 2252h0M931 2260h0M827 2525h0M474 2294h0M694 2266h0M703 2268h0M974 2522h0M425 2279h0M982 2228h0M528 2308h0M797 2208h0M544 2387h0M774 2222h0M875 2482h0M802 2425h0M1042 2234h0M818 2479h0M434 2233h0M709 2335h0M672 2237h0M834 2377h0M746 2311h0M870 2503h0M790 2517h0M915 2416h0M759 2431h0M771 2341h0M662 2324h0M548 2327h0M955 2465h0M889 2259h0M983 2444h0M912 2408h0M830 2474h0M461 2294h0M874 2465h0M996 2426h0M1016 2387h0M648 2367h0M644 2525h0M841 2314h0M816 2402h0M641 2390h0M492 2198h0M1017 2268h0M459 2194h0M472 2386h0M913 2293h0M514 2381h0M717 2333h0M951 2461h0M783 2507h0M671 2447h0M818 2381h0M616 2331h0M634 2325h0M1054 2271h0M950 2444h0M925 2208h0M466 2345h0M821 2411h0M968 2404h0M495 2287h0M1056 2254h0M839 2542h0M953 2395h0M856 2492h0M819 2300h0M667 2352h0M799 2500h0M611 2292h0M720 2289h0M838 2280h0M632 2318h0M436 2301h0M924 2416h0M962 2202h0M807 2512h0M445 2251h0M605 2337h0M648 2241h0M514 2488h0M978 2270h0M1007 2274h0M943 2369h0M1084 2159h0M497 2496h0M887 2281h0M816 2532h0M763 2425h0M996 2374h0M782 2517h0M651 2317h0M931 2396h0M636 2377h0M900 2254h0M888 2448h0M926 2247h0M450 2241h0M1025 2285h0M452 2366h0M905 2457h0M763 2277h0M901 2429h0M995 2227h0M453 2350h0M824 2310h0M515 2409h0M606 2342h0M525 2392h0M678 2376h0M811 2548h0M827 2462h0M846 2509h0M904 2440h0M738 2250h0M1020 2452h0M899 2428h0M691 2267h0M426 2313h0M669 2522h0M944 2388h0M634 2448h0M931 2477h0M911 2254h0M952 2479h0M952 2394h0M988 2520h0M474 2389h0M749 2422h0M1027 2283h0M982 2522h0M476 2360h0M850 2507h0M662 2347h0M751 2421h0M601 2350h0M466 2370h0M909 2226h0M428 2308h0M645 2448h0M679 2511h0M922 2445h0M974 2210h0M767 2259h0M896 2434h0M948 2372h0M437 1942h0M874 2520h0M776 2353h0M965 2366h0M505 2292h0M881 2522h0M675 2434h0M988 2484h0M649 2405h0M630 2361h0M728 2336h0M977 2267h0M960 2251h0M720 2373h0M679 2410h0M1063 2282h0M419 2272h0M822 2252h0M1014 2239h0M549 2307h0M932 2287h0M498 2339h0M982 2483h0M1041 2288h0M951 2484h0M928 2414h0M953 2223h0M432 2151h0M944 2266h0M835 2564h0M637 2310h0M975 2374h0M896 2225h0M722 2314h0M1089 2142h0M945 2294h0M932 2208h0M782 2233h0M434 2332h0M909 2414h0M682 2244h0M786 2294h0M882 2237h0M921 2415h0M914 2448h0M1043 2256h0M948 2388h0M683 2390h0M1012 2224h0M489 2267h0M956 2391h0M926 2486h0M610 2497h0M982 2285h0M967 2207h0M836 2462h0M940 2221h0M1015 2240h0M698 2236h0M536 2369h0M1005 2214h0M510 2173h0M716 2233h0M774 2251h0M905 2294h0M827 2537h0M970 2254h0M688 2356h0M686 2485h0M695 2376h0M980 2487h0M883 2271h0M679 2449h0M721 2426h0M755 2407h0M699 2242h0M772 2400h0M432 2142h0M705 2257h0M766 2244h0M884 2437h0M423 2307h0M626 2260h0M1026 2244h0M756 2208h0M851 2469h0M904 2482h0M943 2457h0M887 2492h0M501 2385h0M731 2230h0M731 2294h0M558 2355h0M531 2312h0M722 2361h0M934 2444h0M1010 2220h0M446 2363h0M786 2264h0M741 2233h0M481 2338h0M1060 2297h0M689 2320h0M638 2214h0M564 2368h0M1106 2159h0M678 2223h0M835 2468h0M928 2430h0M783 2534h0M904 2445h0M931 2268h0M931 2403h0M893 2475h0M503 2372h0M719 2352h0M971 2235h0M709 2248h0M623 2257h0M422 1941h0M460 2387h0M920 2253h0M453 2258h0M804 2574h0M471 2281h0M540 2298h0M1077 2157h0M609 2277h0M489 2172h0M953 2272h0M624 2513h0M951 2261h0M632 2400h0M437 2175h0M982 2474h0M708 2390h0M708 2420h0M460 2390h0M795 2302h0M671 2348h0M713 2295h0M684 2203h0M840 2271h0M743 2313h0M1042 2246h0M492 2213h0M673 2351h0M819 2491h0M897 2447h0M886 2481h0M986 2276h0M866 2534h0M794 2300h0M430 1964h0M600 2352h0M958 2455h0M461 2289h0M799 2409h0M889 2474h0M421 2224h0M996 2474h0M700 2306h0M1064 2297h0M881 2487h0M972 2461h0M792 2509h0M1026 2239h0M995 2491h0M818 2506h0M431 2206h0M636 2448h0M706 2409h0M907 2244h0M884 2196h0M1047 2287h0M1089 2144h0M538 2420h0M1035 2264h0M534 2303h0M809 2572h0M975 2447h0M606 2465h0M629 2367h0M447 2292h0M511 2278h0M1076 2147h0M936 2419h0M1005 2267h0M907 2281h0M515 2363h0M956 2480h0M632 2302h0M810 2306h0M444 2253h0M976 2281h0M635 2274h0M906 2448h0M980 2232h0M475 2227h0M729 2232h0M831 2304h0M843 2447h0M460 2284h0M691 2282h0M514 2388h0M1049 2240h0M704 2223h0M708 2334h0M474 2372h0M1016 2236h0M765 2319h0M694 2520h0M739 2231h0M687 2403h0M853 2512h0M862 2532h0M976 2263h0M926 2427h0M698 2290h0M695 2482h0M552 2417h0M540 2319h0M898 2405h0M527 2404h0M443 2181h0M997 2383h0M999 2288h0M457 2240h0M948 2252h0M840 2549h0M487 2363h0M798 2423h0M673 2239h0M445 2244h0M408 1978h0M1046 2292h0M790 2494h0M1061 2248h0M972 2451h0M789 2545h0M707 2359h0M765 2304h0M720 2306h0M438 2367h0M871 2490h0M633 2408h0M927 2193h0M1065 2319h0M432 2353h0M423 2195h0M831 2220h0M1051 2289h0M531 2414h0M858 2468h0M796 2316h0M449 2286h0M899 2433h0M614 2337h0M740 2268h0M932 2287h0M760 2398h0M1063 2294h0M716 2298h0M760 2299h0M891 2269h0M958 2207h0M931 2239h0M681 2446h0M1010 2400h0M939 2202h0M632 2223h0M477 2343h0M446 2178h0M834 2371h0M630 2464h0M604 2494h0M672 2203h0M837 2333h0M892 2227h0M960 2205h0M976 2473h0M863 2471h0M483 2183h0M432 2163h0M673 2377h0M857 2504h0M898 2237h0M853 2261h0M1047 2271h0M713 2416h0M772 2401h0M906 2442h0M549 2317h0M770 2331h0M606 2494h0M681 2327h0M811 2500h0M924 2397h0M884 2290h0M1024 2229h0M786 2557h0M997 2288h0M692 2251h0M770 2248h0M1052 2250h0M550 2376h0M663 2441h0M966 2222h0M772 2413h0M792 2381h0M485 2206h0M527 2414h0M803 2499h0M923 2234h0M1044 2254h0M928 2483h0M721 2228h0M642 2407h0M435 2231h0M676 2411h0M566 2405h0M978 2420h0M1020 2279h0M977 2265h0M890 2204h0M812 2515h0M950 2390h0M842 2386h0M625 2364h0M836 2548h0M816 2240h0M706 2213h0M801 2422h0M641 2281h0M447 2316h0M432 2168h0M492 2299h0M849 2304h0M439 2306h0M844 2483h0M881 2193h0M923 2265h0M849 2351h0M788 2347h0M755 2423h0M499 2383h0M537 2369h0M648 2504h0M977 2369h0M661 2249h0M1003 2393h0M807 2261h0M534 2359h0M479 2144h0M489 2290h0M452 2295h0M689 2204h0M879 2468h0M772 2256h0M438 2252h0M958 2206h0M855 2334h0M473 2209h0M896 2475h0M745 2314h0M819 2526h0M497 2378h0M860 2535h0M985 2242h0M654 2221h0M736 2275h0M938 2244h0M820 2248h0"/>
<path stroke="#fbecf0" d="M737 2212h0M1001 2229h0M778 2406h0M696 2472h0M668 2205h0M700 2477h0M644 2368h0M702 2329h0M480 2306h0M524 2341h0M978 2401h0M660 2437h0M999 2399h0M516 2292h0M970 2465h0M506 2348h0M845 2511h0M669 2438h0M637 2438h0M889 2283h0M477 2198h0M1007 2242h0M785 2383h0M471 2373h0M512 2348h0M675 2215h0M1092 2177h0M914 2266h0M681 2384h0M655 2277h0M655 2492h0M931 2261h0M459 2350h0M660 2449h0M534 2302h0M927 2450h0M947 2451h0M973 2262h0M909 2255h0M775 2270h0M638 2374h0M548 2355h0M467 2327h0M809 2344h0M452 2280h0M866 2449h0M906 2487h0M932 2264h0M542 2287h0M914 2286h0M521 2388h0M803 2319h0M472 2289h0M510 2301h0M831 2500h0M805 2266h0M905 2488h0M784 2348h0M639 2279h0M719 2310h0M928 2432h0M960 2243h0M667 2348h0M816 2533h0M533 2276h0M690 2198h0M943 2252h0M720 2237h0M506 2326h0M639 2326h0M824 2545h0M650 2401h0M978 2487h0M893 2448h0M855 2374h0M805 2551h0M477 2383h0M603 2267h0M720 2379h0M989 2269h0M1068 2150h0M776 2377h0M843 2331h0M458 2302h0M913 2202h0M450 2258h0M622 2317h0M683 2387h0M523 2329h0M643 2261h0M987 2218h0M445 2342h0M1000 2223h0M804 2546h0M442 2201h0M844 2466h0M897 2452h0M933 2445h0M530 2389h0M961 2508h0M904 2453h0M661 2296h0M851 2460h0M491 2287h0M1009 2259h0M971 2491h0M656 2510h0M921 2199h0M719 2351h0M948 2243h0M829 2360h0M816 2547h0M634 2352h0M917 2397h0M956 2222h0M949 2472h0M475 2194h0M814 2298h0M547 2344h0M898 2478h0M1053 2242h0M816 2302h0M914 2395h0M911 2221h0M929 2193h0M888 2488h0M523 2397h0M823 2501h0M1055 2243h0M469 2301h0M436 2355h0M910 2302h0M645 2512h0M797 2292h0M759 2234h0M539 2344h0M643 2245h0M1076 2274h0M640 2328h0M483 2328h0M839 2350h0M784 2509h0M482 2316h0M518 2325h0M425 2324h0M647 2258h0M546 2324h0M426 2150h0M794 2238h0M516 2377h0M780 2555h0M504 2485h0M653 2465h0M886 2489h0M440 2276h0M636 2363h0M545 2384h0M427 2147h0M952 2418h0M425 2205h0M528 2300h0M783 2247h0M806 2459h0M922 2211h0M937 2445h0M1024 2262h0M1065 2315h0M677 2452h0M751 2334h0M491 2314h0M825 2377h0M1008 2247h0M814 2276h0M734 2419h0M628 2516h0M625 2257h0M609 2225h0M1016 2398h0M894 2459h0M746 2374h0M513 2312h0M423 2245h0M503 2331h0M773 2354h0M909 2184h0M981 2258h0M701 2357h0M889 2425h0M764 2424h0M866 2274h0M776 2380h0M445 2326h0M639 2408h0M772 2545h0M554 2405h0M898 2218h0M997 2266h0M890 2431h0M768 2300h0M872 2487h0M502 2372h0M976 2508h0M964 2423h0M805 2570h0M810 2510h0M899 2428h0M1025 2285h0M634 2448h0M951 2383h0M970 2206h0M458 2372h0M429 2352h0M1000 2399h0M1072 2301h0M925 2294h0M903 2229h0M514 2386h0M519 2349h0M889 2290h0M969 2444h0M932 2268h0M748 2425h0M903 2451h0M1018 2381h0M655 2410h0M850 2465h0M1078 2134h0M617 2452h0M676 2371h0M836 2267h0M778 2281h0M1014 2228h0M863 2487h0M488 2328h0M651 2485h0M498 2368h0M974 2489h0M460 2161h0M821 2220h0M807 2496h0M941 2470h0M764 2223h0M1011 2290h0M514 2339h0M967 2258h0M861 2484h0M601 2354h0M755 2254h0M494 2294h0M1018 2283h0M807 2538h0M787 2552h0M475 2380h0M772 2248h0M925 2227h0M925 2253h0M623 2239h0M460 2211h0M931 2229h0M704 2260h0M786 2528h0M942 2211h0M714 2250h0M901 2272h0M647 2499h0M1019 2221h0M844 2277h0M630 2501h0M878 2481h0M794 2221h0M446 2326h0M907 2466h0M641 2223h0M834 2251h0M651 2517h0M959 2390h0M681 2406h0M899 2242h0M685 2485h0M796 2389h0M956 2233h0M1032 2302h0M622 2310h0M1080 2297h0M503 2499h0M1000 2271h0M482 2216h0M990 2414h0M860 2535h0M790 2204h0M841 2400h0M656 2508h0M413 1975h0M551 2423h0M1019 2272h0M851 2334h0M905 2257h0M1003 2276h0M681 2512h0M971 2291h0M897 2452h0M920 2269h0M497 2388h0M957 2229h0M432 2313h0M447 2298h0M980 2219h0M644 2385h0M700 2282h0M1005 2383h0M676 2333h0M978 2404h0M788 2518h0M678 2207h0M805 2550h0M1064 2304h0M782 2339h0M709 2262h0M890 2284h0M790 2344h0M1045 2272h0M707 2260h0M442 2327h0M1054 2259h0M935 2294h0M817 2389h0M865 2496h0M525 2288h0M542 2372h0M962 2259h0M731 2230h0M803 2466h0M698 2474h0M882 2474h0M541 2295h0M1097 2156h0M821 2220h0M445 2317h0M652 2224h0M665 2390h0M880 2491h0M1073 2318h0M988 2259h0M653 2512h0M622 2230h0M544 2350h0M978 2377h0M514 2341h0M690 2358h0M721 2270h0M609 2267h0M448 2200h0M558 2388h0M913 2192h0M430 2261h0M635 2484h0M955 2272h0M609 2514h0M612 2287h0M984 2243h0M994 2456h0M951 2251h0M726 2244h0M438 2343h0M965 2497h0M832 2450h0M697 2278h0M724 2278h0M1010 2239h0M904 2263h0M442 2257h0M849 2544h0M623 2334h0M805 2339h0M857 2323h0M663 2234h0M981 2471h0M802 2304h0M685 2342h0M407 1975h0M725 2234h0M920 2480h0M417 1950h0M565 2401h0M639 2256h0M818 2558h0M876 2519h0M694 2200h0M828 2506h0M968 2445h0M649 2383h0M648 2349h0M885 2273h0M985 2254h0M981 2240h0M632 2514h0M635 2502h0M676 2298h0M492 2331h0M415 2187h0M509 2378h0M825 2446h0M874 2501h0M710 2243h0M680 2479h0M802 2490h0M931 2217h0M999 2462h0M788 2514h0M444 2253h0M414 2177h0M902 2260h0M1035 2256h0M520 2410h0M912 2208h0M1075 2282h0M866 2519h0M734 2355h0M532 2314h0M820 2525h0M518 2281h0M947 2394h0M1012 2221h0M517 2299h0M438 2260h0M700 2394h0M847 2461h0M753 2242h0M615 2273h0M1077 2305h0M654 2276h0M797 2508h0M693 2518h0M951 2282h0M502 2488h0M623 2496h0M850 2433h0M690 2228h0M1077 2180h0M489 2152h0M615 2476h0M686 2231h0M448 2236h0M883 2230h0M780 2266h0M829 2226h0M424 2256h0M1012 2270h0M784 2204h0M902 2248h0M917 2198h0M738 2408h0M487 2296h0M765 2273h0M974 2285h0M958 2417h0M761 2216h0M928 2482h0M890 2494h0M434 2144h0M884 2488h0M440 2323h0M911 2457h0M725 2327h0M841 2342h0M880 2215h0M524 2306h0M793 2295h0M849 2479h0M497 2330h0M660 2486h0M606 2510h0M918 2244h0M797 2304h0M1029 2251h0M947 2369h0M716 2306h0M974 2488h0M1025 2277h0M479 2164h0M426 2170h0M411 1958h0M645 2272h0M646 2384h0M649 2386h0M825 2329h0M546 2296h0M735 2390h0M451 2278h0M432 2261h0M977 2243h0M1016 2275h0M905 2246h0M436 2181h0M813 2497h0M502 2164h0M1023 2268h0M962 2476h0M818 2521h0M891 2264h0M784 2276h0M524 2284h0M899 2188h0M1030 2230h0M652 2346h0M974 2460h0M739 2401h0M815 2476h0M704 2201h0M633 2214h0M536 2313h0M1010 2213h0M685 2502h0M880 2407h0M745 2343h0M756 2349h0M710 2247h0M735 2347h0M678 2292h0M764 2238h0M457 2187h0M788 2557h0M643 2270h0M1101 2173h0M899 2445h0M509 2331h0M840 2238h0M925 2214h0M467 2356h0M818 2229h0M785 2234h0M951 2470h0M988 2281h0M817 2388h0M987 2487h0M825 2217h0M792 2390h0M529 2345h0M910 2408h0M494 2284h0M942 2261h0M947 2214h0M444 2270h0M436 2335h0M715 2417h0M823 2230h0M953 2398h0M914 2185h0M976 2411h0M722 2379h0M828 2328h0M876 2459h0M917 2217h0M652 2415h0M903 2435h0M687 2483h0M943 2401h0M551 2308h0M932 2431h0M991 2468h0M730 2259h0M623 2360h0M426 2233h0M793 2275h0M456 2380h0M936 2489h0M836 2372h0M1016 2218h0M709 2202h0M494 2388h0M733 2286h0M726 2247h0M1008 2369h0M451 2339h0M948 2478h0M915 2254h0M972 2448h0M500 2293h0M447 2291h0M1069 2281h0M641 2372h0M725 2340h0M819 2518h0M536 2286h0M868 2489h0M1026 2276h0M488 2488h0M677 2478h0M901 2487h0M1008 2242h0M1047 2240h0M462 2327h0M706 2251h0M899 2256h0M868 2425h0M1064 2282h0M969 2476h0M736 2403h0M922 2302h0M457 2296h0M944 2269h0M613 2363h0M785 2514h0M706 2272h0M920 2205h0M800 2394h0M743 2312h0M745 2384h0M1029 2248h0M751 2397h0M850 2554h0M647 2470h0M526 2279h0M425 2257h0M902 2483h0M766 2252h0M656 2375h0M877 2470h0M904 2428h0M1022 2374h0M482 2380h0M961 2224h0M959 2293h0M691 2268h0M951 2368h0M818 2570h0M490 2391h0M447 2367h0M704 2338h0M729 2203h0M898 2203h0M1107 2166h0M638 2410h0M622 2466h0M463 2135h0M741 2394h0M766 2415h0M686 2282h0M876 2536h0M914 2460h0M729 2277h0M761 2275h0M534 2276h0M747 2326h0M1062 2276h0M500 2215h0M794 2253h0M614 2302h0M967 2501h0M766 2290h0M715 2298h0M621 2298h0M817 2389h0M488 2501h0M991 2445h0M634 2285h0M653 2534h0M960 2482h0M845 2392h0M734 2268h0M501 2330h0M559 2369h0M672 2413h0M795 2520h0M505 2363h0M838 2369h0M633 2394h0M839 2320h0M910 2232h0M646 2238h0M911 2407h0M820 2264h0M790 2288h0M821 2402h0M855 2526h0M445 2332h0M428 2265h0M864 2284h0M798 2530h0M979 2253h0M660 2308h0M461 2213h0M492 2335h0M548 2414h0M840 2457h0M907 2409h0M504 2359h0M882 2221h0M511 2390h0M835 2524h0M1001 2229h0M835 2238h0M873 2451h0M912 2201h0M689 2250h0M1041 2284h0M869 2473h0M1010 2377h0M942 2261h0M668 2489h0M452 2338h0M982 2381h0M490 2483h0M602 2350h0M1008 2236h0M737 2254h0M849 2513h0M880 2501h0M975 2382h0M507 2399h0M651 2266h0M493 2346h0M897 2225h0M951 2208h0M842 2395h0M828 2506h0M808 2330h0M534 2422h0M840 2499h0M916 2450h0M916 2406h0M902 2216h0M871 2495h0M839 2548h0M744 2295h0M1073 2149h0M996 2208h0M411 1973h0M729 2375h0M694 2286h0M844 2252h0M986 2485h0M832 2314h0M815 2501h0M839 2393h0M916 2242h0M1002 2269h0M766 2321h0M797 2549h0M835 2469h0M1056 2260h0M453 2260h0M619 2388h0M842 2463h0M944 2213h0M939 2279h0M930 2219h0M617 2372h0M1075 2136h0M763 2346h0M705 2313h0M913 2278h0M898 2482h0M1078 2312h0M550 2329h0M530 2380h0M907 2438h0M653 2390h0M875 2514h0M856 2461h0M976 2371h0M647 2472h0M947 2463h0M441 2365h0M940 2443h0M888 2254h0M523 2395h0M678 2334h0M812 2305h0M676 2275h0M475 2358h0M954 2266h0M835 2416h0M424 2256h0M1069 2266h0M910 2261h0M619 2446h0M1042 2242h0M978 2494h0M850 2359h0M477 2349h0M943 2412h0M798 2396h0M851 2307h0M896 2253h0M715 2382h0M928 2404h0M672 2364h0M861 2502h0M786 2235h0M515 2402h0M873 2462h0M902 2488h0M947 2396h0M823 2564h0M1014 2386h0M844 2462h0M844 2261h0M488 2268h0M632 2310h0M945 2463h0M522 2407h0M916 2262h0M933 2450h0M614 2258h0M930 2450h0M692 2202h0M946 2233h0M763 2247h0M999 2460h0M869 2518h0M811 2480h0M889 2256h0M951 2476h0M774 2268h0M1078 2173h0M790 2420h0M893 2483h0M682 2482h0M886 2485h0M471 2305h0M536 2294h0M922 2183h0M880 2452h0M748 2345h0M934 2413h0M528 2393h0M502 2507h0M749 2328h0M851 2260h0M864 2471h0M481 2299h0M729 2221h0M920 2421h0M808 2423h0M790 2355h0M488 2336h0M830 2280h0M436 2308h0M543 2305h0M771 2261h0M762 2427h0M960 2467h0M476 2146h0M826 2270h0M444 2295h0M625 2496h0M968 2375h0M432 2220h0M834 2478h0M671 2333h0M766 2314h0M1022 2278h0M802 2491h0M739 2395h0M982 2263h0M656 2292h0M671 2333h0M891 2490h0M640 2320h0M492 2313h0M642 2378h0M802 2497h0M445 2326h0M812 2344h0M1078 2316h0M968 2232h0M780 2282h0M653 2300h0M829 2473h0M884 2291h0M503 2161h0M685 2251h0M549 2296h0M906 2431h0M783 2348h0M782 2505h0M817 2484h0M894 2219h0M558 2341h0M841 2513h0M531 2367h0M848 2313h0M844 2495h0M531 2282h0M904 2488h0M981 2481h0M659 2364h0M911 2454h0M633 2488h0M950 2285h0M719 2229h0M748 2370h0M1025 2236h0M868 2489h0M801 2349h0M660 2408h0M977 2484h0M723 2371h0M731 2226h0M808 2266h0M821 2555h0M903 2198h0M557 2393h0M841 2291h0M983 2235h0M880 2514h0M975 2402h0M803 2478h0M836 2491h0M871 2451h0M909 2185h0M977 2270h0M603 2313h0M968 2236h0M937 2299h0M982 2212h0M626 2375h0M516 2357h0M678 2333h0M913 2399h0M1028 2293h0M911 2413h0M522 2196h0M629 2534h0M1036 2288h0M1034 2295h0M738 2426h0M1002 2375h0M794 2561h0M478 2315h0M926 2451h0M926 2241h0M968 2402h0M494 2160h0M1040 2291h0M871 2461h0M688 2268h0M902 2447h0M621 2339h0M492 2207h0M440 2230h0M470 2137h0M1017 2258h0M476 2178h0M416 1966h0M841 2533h0M697 2333h0M916 2299h0M887 2462h0M984 2456h0M684 2319h0M669 2449h0M727 2402h0M621 2296h0M538 2329h0M454 2323h0M723 2381h0M1027 2279h0M975 2488h0M615 2322h0M1043 2254h0M992 2252h0M625 2460h0M741 2294h0M980 2277h0M1001 2381h0M446 2242h0M456 2366h0M659 2398h0M1003 2442h0M891 2201h0M890 2278h0M893 2449h0M499 2198h0M681 2333h0M907 2202h0M953 2272h0M818 2348h0M912 2284h0M860 2487h0M612 2360h0M459 2147h0M785 2529h0M766 2366h0M751 2236h0M814 2541h0M922 2242h0M864 2321h0M612 2374h0M676 2540h0M785 2530h0M438 1927h0M1030 2227h0M818 2474h0M523 2340h0M991 2497h0M646 2436h0M833 2408h0M1077 2290h0M426 2232h0M702 2302h0M794 2267h0M996 2458h0M609 2275h0M598 2480h0M671 2248h0M1036 2251h0M703 2276h0M811 2316h0M741 2426h0M701 2380h0M980 2480h0M441 2299h0M987 2209h0M1029 2294h0M533 2347h0M739 2279h0M614 2505h0M485 2317h0M757 2218h0M879 2431h0M514 2299h0M1105 2139h0M935 2194h0M837 2473h0M465 2134h0M783 2221h0M808 2537h0M1077 2299h0M645 2287h0M974 2460h0M888 2480h0M653 2506h0M657 2377h0M675 2349h0M888 2213h0M500 2272h0M944 2499h0M812 2493h0M798 2520h0M626 2376h0M931 2284h0M451 2274h0M438 2307h0M717 2369h0M954 2448h0M523 2317h0M980 2263h0M952 2413h0M802 2366h0M930 2228h0M993 2464h0M1067 2316h0M904 2228h0M975 2444h0M562 2406h0M688 2274h0M818 2265h0M525 2299h0M744 2344h0M690 2309h0M680 2443h0M1006 2503h0M732 2210h0M461 2332h0M791 2204h0M843 2320h0M923 2222h0M846 2522h0M463 2281h0M977 2279h0M777 2403h0M1077 2178h0M1017 2227h0M650 2465h0M1062 2287h0M981 2407h0M915 2236h0M695 2299h0M512 2391h0M992 2291h0M771 2293h0M1035 2228h0M555 2316h0M973 2420h0M1014 2250h0M467 2304h0M922 2204h0M749 2363h0M1067 2300h0M927 2283h0M455 2367h0M801 2308h0M854 2305h0M860 2301h0M985 2407h0M1089 2173h0M1014 2484h0M830 2085h0M781 2040h0M782 2031h0M735 2001h0M842 2055h0M738 1950h0M782 2150h0M649 1936h0M818 2075h0M684 2025h0M614 2021h0M796 2048h0M673 1868h0M804 2067h0M762 2014h0M719 1926h0M750 2090h0M483 2005h0M710 1934h0M641 2012h0M667 1877h0M788 2150h0M712 1843h0M659 1845h0M527 2027h0M833 2057h0M751 1940h0M687 1823h0M519 2011h0M527 2004h0M748 1865h0M749 1994h0M655 2010h0M695 1907h0M705 1985h0M810 2110h0M505 1973h0M493 2023h0M772 2022h0M844 2086h0M797 2091h0M672 1853h0M937 2515h0M564 1980h0M720 2374h0M562 1969h0M779 2000h0M835 2005h0M538 2309h0M480 1998h0M653 1882h0M565 1992h0M733 1978h0M666 1859h0M766 1894h0M681 1889h0M750 1903h0M582 1987h0M734 1855h0M649 2016h0M493 2006h0M665 1959h0M677 1914h0M654 1924h0M565 1982h0M546 2370h0M740 1972h0M510 2340h0M620 1989h0M543 1960h0M632 1930h0M662 1873h0M511 1975h0M625 2383h0M727 1884h0M544 2027h0M838 2110h0M810 1941h0M507 1988h0M765 2097h0M690 2017h0M585 2023h0M839 1985h0M676 1904h0M736 2051h0M746 1888h0M561 2037h0M744 1933h0M836 1992h0M1041 2258h0M690 1907h0"/>
<path stroke="#f8dee5" d="M730 1977h0M726 1850h0M548 1989h0M757 1998h0M831 2055h0M649 1838h0M845 1995h0M782 2146h0M568 2042h0M674 1833h0M602 1987h0M509 2273h0M662 1921h0M752 1915h0M889 2481h0M807 2081h0M569 1958h0M739 2083h0M855 2041h0M777 2132h0M818 2069h0M688 1925h0M697 1859h0M613 1989h0M629 1894h0M1001 2237h0M751 2425h0M628 2022h0M616 2000h0M683 1878h0M762 1974h0M625 2032h0M740 2033h0M851 2066h0M686 1957h0M739 2024h0M602 1938h0M498 2031h0M766 2020h0M760 1916h0M614 1989h0M553 1987h0M527 2299h0M743 1997h0M647 1868h0M748 2123h0M890 1899h0M502 1984h0M616 2308h0M778 2000h0M745 2013h0M597 2039h0M731 2038h0M868 2495h0M425 2340h0M704 2004h0M776 2377h0M898 2287h0M643 1909h0M712 1975h0M528 1998h0M716 1855h0M753 2002h0M630 1873h0M630 1913h0M826 2118h0M643 1916h0M804 1987h0M937 2251h0M773 1971h0M732 1960h0M928 2282h0M609 1952h0M775 1954h0M489 2197h0M802 2027h0M785 2043h0M609 2037h0M737 2052h0M803 1984h0M651 2001h0M661 1835h0M710 2013h0M598 1958h0M720 1967h0M738 2111h0M831 2475h0M800 1967h0M653 1925h0M791 1970h0M648 1870h0M571 2012h0M722 1973h0M755 1990h0M572 2053h0M599 2035h0M503 2010h0M912 1875h0M921 1897h0M585 1962h0M733 1870h0M477 2026h0M725 2015h0M466 2035h0M677 1967h0M947 2383h0M775 1909h0M647 2478h0M561 2009h0M781 2134h0M798 2004h0M481 2289h0M630 1901h0M761 2114h0M776 1894h0M772 1898h0M614 1956h0M796 2371h0M701 1863h0M813 2088h0M810 1958h0M792 2427h0M718 1897h0M689 1969h0M521 2057h0M822 2076h0M771 1939h0M530 2011h0M792 2141h0M763 2107h0M675 1874h0M725 1942h0M691 1928h0M503 2013h0M585 1953h0M828 2003h0M905 2447h0M498 1984h0M799 2133h0M755 1999h0M1052 2291h0M748 1987h0M506 2492h0M779 1923h0M737 1982h0M526 1992h0M580 2022h0M758 2062h0M518 2017h0M599 2009h0M665 1909h0M810 2033h0M717 1876h0M1050 2249h0M532 1972h0M600 1979h0M794 1921h0M657 2058h0M773 1944h0M798 2094h0M818 1999h0M552 2025h0M675 1855h0M669 2064h0M910 1875h0M500 2023h0M584 1965h0M603 2054h0M792 1986h0M879 1898h0M693 2025h0M704 2036h0M694 2034h0M594 1953h0M736 1851h0M590 1983h0M591 2065h0M689 1842h0M733 2010h0M599 1998h0M469 2370h0M622 2010h0M810 2091h0M584 1980h0M907 1899h0M739 1868h0M717 2067h0M508 1997h0M611 2049h0M614 2028h0M850 2070h0M803 2020h0M816 2115h0M511 2220h0M828 1965h0M487 2015h0M705 2056h0M632 1942h0M701 1906h0M744 2100h0M553 2028h0M767 2159h0M643 2267h0M760 2029h0M892 1891h0M762 2103h0M764 1969h0M433 2316h0M608 2032h0M777 2010h0M617 2023h0M687 1981h0M762 1916h0M771 1939h0M881 1876h0M855 2070h0M786 2063h0M781 2123h0M885 1883h0M626 2009h0M827 2097h0M658 2400h0M628 2056h0M591 2043h0M610 1997h0M811 2074h0M919 1875h0M728 2125h0M848 2119h0M713 1966h0M646 2000h0M600 2019h0M806 2004h0M517 1992h0M507 2061h0M492 1997h0M686 1837h0M585 2010h0M682 2369h0M741 2083h0M685 1850h0M637 1963h0M833 2036h0M595 2062h0M721 2088h0M1043 2244h0M781 2121h0M685 1944h0M475 2039h0M576 2035h0M840 2058h0M575 2021h0M618 1943h0M522 2065h0M670 1963h0M786 1941h0M851 2316h0M807 2028h0M705 1930h0M735 2094h0M630 2053h0M667 1884h0M995 2392h0M692 1910h0M531 1963h0M646 2022h0M628 1949h0M625 1967h0M698 2046h0M723 1845h0M706 2011h0M491 1996h0M715 2054h0M648 1890h0M937 2453h0M556 1982h0M694 1991h0M631 2057h0M660 2019h0M624 1899h0M675 2009h0M650 2042h0M891 1887h0M793 2065h0M792 2107h0M494 2059h0M820 2118h0M548 1978h0M780 1999h0M735 2099h0M920 2424h0M722 2159h0M577 1965h0M682 1937h0M761 2071h0M429 1964h0M725 2103h0M801 2552h0M714 2055h0M641 1886h0M808 1982h0M989 2212h0M874 2497h0M1041 2250h0M923 1901h0M649 1956h0M703 2009h0M715 2016h0M802 2124h0M654 1992h0M615 2058h0M1072 2287h0M642 1860h0M640 1979h0M721 2072h0M656 2058h0M852 2067h0M694 1986h0M626 1927h0M679 1940h0M831 2100h0M609 2480h0M769 1939h0M640 1864h0M539 2061h0M687 2008h0M651 1891h0M543 2017h0M658 1853h0M517 2007h0M709 2024h0M754 2154h0M649 2036h0M459 2324h0M899 2248h0M799 1937h0M750 1869h0M813 2007h0M615 2048h0M746 1908h0M690 1965h0M879 1864h0M509 2028h0M717 2118h0M507 1973h0M553 2036h0M534 2054h0M772 2232h0M576 2020h0M746 1996h0M549 2074h0M762 1877h0M950 2394h0M710 2122h0M639 2079h0M483 2000h0M689 1866h0M721 1983h0M829 1982h0M929 2232h0M539 2026h0M635 1904h0M683 1825h0M497 2168h0M616 1938h0M701 1959h0M708 1830h0M659 1888h0M812 2087h0M678 2036h0M570 1958h0"/>
<path stroke="#f5d0db" d="M828 1986h0M579 1961h0M787 2149h0M726 1886h0M533 2024h0M594 1957h0M577 2017h0M735 2118h0M772 2038h0M545 2073h0M859 2075h0M504 2050h0M973 2404h0M650 1871h0M627 2045h0M600 2028h0M678 2498h0M659 2055h0M686 1953h0M742 2129h0M895 1894h0M726 1865h0M485 2075h0M672 1978h0M854 2016h0M663 2032h0M524 2046h0M696 1890h0M647 2062h0M769 1938h0M759 2119h0M745 2297h0M818 2101h0M772 2039h0M569 1958h0M675 1904h0M655 1927h0M737 2351h0M756 2150h0M706 1984h0M642 2090h0M521 2335h0M725 2069h0M726 2085h0M699 1868h0M766 1945h0M827 1992h0M492 2070h0M638 1886h0M741 1939h0M771 2015h0M703 1980h0M574 1950h0M725 2153h0M601 2047h0M736 1921h0M735 2045h0M765 2137h0M759 2150h0M667 2085h0M342 2124h0M676 2078h0M633 1972h0M513 2062h0M728 1935h0M840 2067h0M760 1954h0M668 1844h0M749 2238h0M591 2114h0M639 2037h0M628 2222h0M707 2012h0M624 2158h0M540 2071h0M669 2044h0M678 2017h0M752 2159h0M607 2087h0M821 1982h0M820 2363h0M767 2118h0M754 2025h0M660 2198h0M723 2059h0M707 2004h0M894 2298h0M619 2185h0M644 2001h0M743 1950h0M809 1993h0M746 2000h0M630 2033h0M762 1925h0M868 1882h0M623 2192h0M660 2086h0M515 1985h0M713 1990h0M578 2099h0M721 1988h0M570 2118h0M875 2537h0M490 2017h0M653 2043h0M830 2096h0M700 2056h0M560 2123h0M668 2229h0M791 2332h0M718 2040h0M689 2416h0M601 2129h0M692 2155h0M705 1995h0M610 2218h0M668 2088h0M674 2494h0M678 2455h0M1076 2308h0M497 2011h0M824 2004h0M652 2241h0M715 2067h0M653 2111h0M944 2495h0M612 2307h0M923 1872h0M444 2300h0M645 2018h0M520 2072h0M628 1937h0M686 1938h0M638 2184h0M697 1850h0M978 2272h0M802 1997h0M641 2191h0M721 2042h0M567 2147h0M606 2152h0M622 1927h0M729 1909h0M673 1991h0M760 1916h0M581 2096h0M700 1864h0M558 2041h0M624 2194h0M920 2519h0M808 2059h0M699 1889h0M639 2498h0M591 2007h0M509 1982h0M486 2494h0M794 1963h0M831 2229h0M799 2535h0M679 1925h0M661 1849h0M773 1958h0M713 1987h0M535 1979h0M712 1884h0M785 2001h0M860 2458h0M822 1978h0M786 2561h0M684 2074h0M802 2067h0M512 2032h0M751 1967h0M772 2423h0M640 1915h0M749 1928h0M850 2002h0M629 1929h0M977 2457h0M771 1978h0M465 2267h0M608 2105h0M780 2082h0M482 1995h0M617 2091h0M574 2138h0M662 2115h0M700 2369h0M830 2475h0M669 2128h0M519 1980h0M356 2137h0M629 2120h0M860 2076h0M741 2047h0M612 2126h0M625 1960h0M677 1879h0M782 2019h0M707 1916h0M675 1981h0M696 1950h0M428 2233h0M635 1857h0M736 1858h0M732 2040h0M610 2202h0M644 2400h0M649 2085h0M908 1868h0M738 1923h0M637 2038h0M719 2346h0M560 1996h0M742 2146h0M674 2159h0M791 1911h0M577 2162h0M670 1923h0M609 1933h0M693 2077h0M531 1980h0M559 1961h0M745 1960h0M820 2139h0M677 1846h0M584 2156h0M668 1943h0M783 1925h0M693 1918h0M698 1891h0M751 1956h0M636 2009h0M651 2122h0M596 2094h0M623 2079h0M737 2020h0M579 2100h0M774 2012h0M706 2145h0M769 2019h0M731 1858h0M696 2055h0M629 1892h0M523 2021h0M745 2327h0M705 2077h0M617 2218h0M889 1907h0M567 2074h0M638 1848h0M568 2003h0M666 2063h0M816 2086h0M797 2030h0M785 2304h0M582 2048h0M805 2110h0M860 2427h0M850 2059h0M628 2024h0M545 1977h0M591 2127h0M644 2108h0M764 1940h0M621 2208h0M762 2048h0M597 2019h0M713 1946h0M1104 2176h0M993 2280h0M691 2144h0M756 1995h0M813 1978h0M1023 2285h0M643 2234h0M729 2087h0M518 2065h0M728 1898h0M678 1881h0M617 2125h0M727 1996h0M527 2070h0M729 2034h0M624 1918h0M765 1941h0M774 1981h0M647 2064h0M800 1939h0M537 1976h0M830 2508h0M670 1902h0M683 1936h0M819 2121h0M805 2565h0M752 2010h0M678 2387h0M639 2145h0M860 2302h0M510 2302h0M727 1961h0M736 1926h0M523 1995h0M489 2016h0M798 1990h0M636 1973h0M702 2127h0M646 2327h0M785 2007h0M693 2038h0M528 2018h0M770 2124h0M761 2108h0M1033 2276h0M665 1846h0M570 2114h0M619 2139h0M770 2005h0M594 1993h0M739 2000h0M643 2173h0M508 1982h0M574 2000h0M741 1924h0M557 1992h0M604 2135h0M500 2022h0M783 2145h0M687 1973h0M655 2161h0M762 2061h0M832 2020h0M675 1852h0M619 2117h0M593 2057h0M794 2139h0M812 1946h0M624 2136h0M477 2197h0M779 1981h0M558 1970h0M876 1871h0M704 2103h0M891 2439h0M638 2089h0M632 1975h0M649 2036h0M888 2434h0M726 2245h0M802 2071h0M654 2019h0M621 2120h0M635 1851h0M811 2012h0M697 2084h0M815 2091h0M495 2014h0M594 2068h0M682 1949h0M727 2116h0M976 2284h0M678 1980h0M623 2222h0M796 2111h0M432 2280h0M650 2169h0M766 2017h0M845 2102h0M797 1969h0M688 1920h0M1016 2261h0M700 2116h0M683 2129h0M618 2035h0M750 2136h0M478 2012h0M664 1982h0M803 2018h0M622 2228h0M636 1952h0M733 1940h0M599 2151h0M827 1997h0M908 1908h0M639 1909h0M678 2063h0M721 1943h0M597 2141h0M560 2129h0M732 1977h0M646 2089h0M808 2048h0M666 2252h0M658 2175h0M861 2048h0M772 2049h0M630 2380h0M746 2017h0M484 2004h0M852 2107h0M549 2005h0M570 2159h0M554 2016h0M619 2129h0M709 1955h0M639 2234h0M750 2001h0M790 2315h0M449 2291h0M485 2069h0M658 1822h0M718 1874h0M559 2343h0M914 1882h0M529 1977h0M568 2059h0M550 2024h0M633 2108h0M659 2035h0M760 2282h0M750 2063h0M706 1876h0M730 1897h0M657 1959h0M656 2110h0M644 1982h0"/>
<path stroke="#f2c1d0" d="M739 2097h0M564 1987h0M708 2162h0M627 2104h0M597 2043h0M804 2096h0M831 2114h0M800 1990h0M853 2050h0M831 1970h0M673 1845h0M628 2040h0M720 2028h0M839 2001h0M739 1970h0M760 2147h0M851 2009h0M629 1962h0M679 1966h0M558 1975h0M643 1862h0M490 2031h0M682 1827h0M800 2059h0M811 2074h0M576 1984h0M670 2070h0M753 1924h0M778 2016h0M708 2014h0M673 1957h0M883 1876h0M628 2157h0M786 2112h0M742 2055h0M707 2072h0M549 1986h0M810 1964h0M604 2161h0M657 2044h0M568 2127h0M609 2100h0M748 2153h0M719 1960h0M582 2144h0M791 1966h0M698 1974h0M782 2143h0M766 1977h0M912 1863h0M615 1964h0M634 2038h0M636 2215h0M698 1850h0M750 1950h0M657 2177h0M754 1918h0M784 1921h0M759 1913h0M719 1875h0M502 1985h0M732 1903h0M534 2064h0M736 2147h0M809 2142h0M560 2023h0M636 2114h0M592 2045h0M649 1920h0M515 2028h0M607 2076h0M601 1960h0M786 2046h0M660 2163h0M792 2123h0M652 2130h0M670 1932h0M524 2010h0M716 2148h0M721 1917h0M617 2122h0M754 2113h0M693 1985h0M649 2243h0M716 1846h0M719 2046h0M701 2120h0M510 1974h0M601 1972h0M546 1977h0M652 2234h0M616 1964h0M830 1988h0M668 1926h0M657 1839h0M582 2149h0M711 1918h0M833 2020h0M745 1886h0M790 2054h0M848 1997h0M644 1939h0M661 1939h0M785 2099h0M717 1884h0M490 2049h0M805 2127h0M707 1968h0M713 2013h0M791 2148h0M742 1860h0M739 1995h0M728 2142h0M835 2004h0M564 1990h0M834 2029h0M524 1973h0M562 1957h0M730 1996h0M583 1971h0M789 2049h0M621 2027h0M710 1949h0M567 2149h0M808 2128h0M715 2056h0M885 1906h0M684 1944h0M654 1976h0M703 2146h0M567 1967h0M893 1878h0M559 2048h0M613 2078h0M627 2043h0M627 2127h0M652 2209h0M583 2070h0M342 2116h0M696 1915h0M860 2073h0M736 1991h0M714 2029h0M340 2125h0M621 2069h0M652 2182h0M644 2007h0M674 2125h0M509 1986h0M903 1888h0M641 2080h0M690 2067h0M689 2055h0M702 1913h0M639 2022h0M639 2109h0M709 1999h0M702 1937h0M689 2157h0M754 2091h0M611 1962h0M777 2092h0M729 1874h0M772 1953h0M652 2043h0M645 2099h0M511 2048h0M760 2052h0M848 2100h0M598 2177h0M628 2226h0M828 1995h0M739 1874h0M643 2176h0M787 2133h0M910 1881h0M615 1953h0M836 2108h0M641 1873h0M526 2040h0M749 1870h0M557 1959h0M582 2024h0M692 1848h0M594 2148h0M771 1998h0M660 2055h0M805 2083h0M501 2070h0M906 1889h0M665 2038h0M695 1946h0M564 1982h0M754 1865h0M786 1982h0M725 1874h0M643 1908h0M615 1973h0M597 1993h0M713 1936h0M722 1912h0M569 2140h0M788 2107h0M612 2079h0M838 2124h0M744 2071h0M825 1959h0M787 2033h0M567 2020h0M817 1995h0M690 2106h0M801 2059h0M603 2039h0M551 2007h0M915 1876h0M498 2035h0M802 2014h0M652 1850h0M591 2171h0M728 1916h0M859 2032h0M349 2136h0M470 2042h0M638 1879h0M764 1887h0M690 2025h0M596 2005h0M634 1982h0M624 1989h0M637 2201h0M613 1930h0M633 2186h0M668 1888h0M689 1932h0M647 2051h0M698 1926h0M739 1895h0M792 2020h0M648 2065h0M797 2072h0M896 1909h0M829 1977h0M720 2107h0M579 1960h0M677 2091h0M601 2001h0M693 2000h0M628 2032h0M660 2106h0M579 2035h0M723 2134h0M778 1945h0M614 2207h0M791 2060h0M893 1868h0M632 2219h0M590 2024h0M527 2075h0M472 2027h0M619 2163h0M814 1973h0M732 2063h0M709 2089h0M711 2031h0M641 1866h0M679 1950h0M655 2046h0M564 2054h0M740 2092h0M637 2062h0M637 1862h0M643 2209h0M558 2116h0M484 2008h0M642 1966h0M683 2110h0M666 1941h0M774 1895h0M584 2135h0M591 2154h0M541 2049h0M507 2067h0M672 2086h0M483 2068h0M691 1845h0M603 2072h0M626 2036h0M748 1955h0M716 1914h0M722 2068h0M717 2067h0M602 1954h0M533 2009h0M348 2112h0M679 1921h0M658 2128h0M802 2104h0M610 2202h0M896 1892h0M555 2076h0M360 2129h0M576 2128h0M733 2054h0M690 2040h0M731 2122h0M761 2058h0M652 2070h0M590 2094h0M618 2114h0M527 2045h0M652 2057h0M641 2125h0M579 2136h0M724 2133h0M611 2093h0M690 2120h0M748 1961h0M626 2114h0M667 1936h0M778 1965h0"/>
<path stroke="#f1b2c5" d="M342 2116h0M831 2043h0M525 2076h0M593 2135h0M621 2044h0M683 2071h0M604 2224h0M717 2157h0M752 2043h0M693 2112h0M771 2051h0M585 2068h0M725 1898h0M662 2172h0M648 2127h0M565 2142h0M648 1832h0M834 2119h0M674 2054h0M766 2122h0M735 2101h0M642 2207h0M649 2080h0M518 2008h0M683 2101h0M715 1845h0M595 2123h0M553 2080h0M679 2125h0M635 2202h0M518 2056h0M732 2112h0M576 2059h0M715 2009h0M591 2095h0M754 2125h0M733 1877h0M629 2059h0M922 1883h0M641 2236h0M627 2174h0M646 2116h0M602 2234h0M796 2056h0M719 2111h0M657 2023h0M485 2075h0M356 2137h0M598 2112h0M691 2089h0M627 1888h0M591 2034h0M507 2046h0M850 2102h0M758 2105h0M717 2146h0M636 1973h0M619 2225h0M617 2151h0M636 2196h0M589 2128h0M660 2111h0M884 1907h0M575 2140h0M719 2152h0M728 2052h0M884 1857h0M535 2073h0M598 2147h0M626 2185h0M691 1922h0M606 1937h0M905 1858h0M819 1967h0M490 2010h0M644 2232h0M615 2228h0M589 2087h0M608 2019h0M704 2160h0M705 2100h0M607 2097h0M586 2033h0M888 1870h0M876 1901h0M640 2137h0M647 1891h0M645 2196h0M814 2115h0M877 1873h0M748 1925h0M536 2017h0M528 2073h0M708 1877h0M603 2185h0M609 1986h0M788 2020h0M647 2156h0M533 2004h0M588 2100h0M625 2056h0M796 1983h0M600 2182h0M910 1856h0M659 2186h0M577 2061h0M517 2054h0M684 2087h0M738 2029h0M707 2108h0M607 2201h0M832 2083h0M747 2086h0M702 1936h0M738 2063h0M603 2134h0M647 1830h0M707 2088h0M647 2184h0M662 2091h0M685 2152h0M701 1984h0M883 1879h0M620 2193h0M638 2086h0M668 1892h0M597 2156h0M625 2151h0M701 2100h0M759 1900h0M822 2021h0M520 1990h0M657 2120h0M715 1858h0M644 2104h0M619 2232h0M607 2133h0M616 2137h0M684 2092h0M834 2052h0M548 2064h0M601 2124h0M889 1902h0M587 1987h0M698 1979h0"/>
<path stroke="#f79cb7" d="M613 2109h0M635 2241h0M618 2134h0M685 1876h0M654 2194h0M645 2165h0M640 2235h0M567 2092h0M605 2143h0M664 1875h0M682 1898h0M729 2053h0M684 2092h0M532 1971h0M812 2103h0M774 1933h0M686 1919h0M565 2120h0M525 1974h0M702 2114h0M646 2244h0M608 2166h0M487 1991h0M571 2097h0M588 2064h0M681 1863h0M615 2194h0M669 2114h0M342 2114h0M744 2156h0M589 2130h0M634 2109h0M603 2100h0M548 1997h0M626 2182h0M767 1931h0M838 2075h0M636 2129h0M734 1871h0M704 2085h0M563 2113h0M695 1901h0M704 1839h0M640 2125h0M671 1949h0M564 2082h0M530 2062h0M737 2145h0M815 2120h0M840 2067h0M622 2129h0M696 2041h0M683 1990h0M795 2103h0M578 2131h0M667 2059h0M805 2042h0M709 2089h0M652 1989h0M651 2001h0M753 1883h0M703 1827h0M611 2194h0M851 2073h0M668 1978h0M558 1989h0M559 2007h0M590 2164h0M836 2111h0M814 2050h0M762 1911h0M634 1879h0M705 1893h0M682 2154h0M670 2112h0M636 2244h0M706 2098h0M687 2110h0M706 2038h0M690 2123h0M671 2129h0M535 2043h0M528 2063h0M712 2074h0M626 2115h0M346 2111h0M713 2101h0M695 2157h0M686 2158h0M717 2134h0M623 2180h0M600 2198h0M945 2009h0M620 2243h0M1006 2022h0M935 2036h0M973 2061h0"/>
<path stroke="#f883ab" d="M727 2150h0M704 2083h0M513 2077h0M944 2015h0M645 2054h0M915 2001h0M606 2242h0M673 2112h0M936 2027h0M632 2139h0M945 2041h0M953 2007h0M652 2234h0M599 2064h0M933 2026h0M905 2088h0M681 2130h0M1014 2013h0M1013 2022h0M1019 1997h0M629 2215h0M983 2118h0M980 2053h0M977 2071h0M1002 2095h0M993 2065h0M1000 2005h0M636 2082h0M935 2069h0M1007 2005h0M944 2095h0M1003 1999h0M972 2059h0M946 2096h0M954 2014h0M687 2149h0M909 2071h0M903 2039h0M651 2225h0M959 2071h0M965 2010h0M920 2015h0M687 2108h0M976 2005h0M969 1986h0M693 2080h0M712 2156h0M672 2079h0M942 2015h0M912 1997h0M926 2064h0M928 2049h0M939 2011h0M985 2120h0M1008 2064h0M618 2119h0M655 2147h0M974 2013h0M569 2110h0M919 2043h0M981 2021h0"/>
<path stroke="#f767a1" d="M982 2064h0M999 2093h0M938 2070h0M935 2029h0M911 2019h0M937 2010h0M653 2111h0M912 2036h0M915 2049h0M966 2081h0M984 2118h0M1010 2069h0M899 2029h0M992 2095h0M943 2098h0M976 2112h0M984 2033h0M978 2053h0M990 2016h0M935 2068h0M946 1989h0M981 1987h0M987 2083h0M921 2040h0M916 2044h0M973 1988h0M924 1994h0M988 2028h0M943 2045h0M1005 2021h0M1003 2058h0M919 1984h0M899 2040h0M910 2060h0M926 2102h0M982 1996h0M953 2018h0M990 2049h0M969 2096h0M948 2007h0M925 2083h0M950 2089h0M999 2095h0M905 2085h0M965 2121h0M987 2096h0M997 1993h0M974 2114h0M980 2054h0M988 2102h0M962 2119h0M985 2098h0M959 2090h0M1002 2016h0M1005 2013h0M940 2026h0M978 2060h0"/>
<path stroke="#ea4d9c" d="M914 2020h0M977 2005h0M1006 2044h0M912 2021h0M905 1991h0M968 2022h0M931 2050h0M896 2061h0M959 2027h0M935 2085h0M934 2076h0M982 2099h0M951 2000h0M990 2053h0M990 1977h0M978 2002h0M963 1994h0M963 2095h0M951 2005h0M933 2017h0M982 2108h0M956 2097h0M933 2096h0M977 2115h0M978 2100h0M1002 2027h0M962 1975h0M980 2031h0M913 2027h0M991 2038h0M924 2045h0M928 2078h0M1021 2008h0M999 2050h0M981 2118h0M991 2030h0M922 2028h0M915 2004h0M978 2113h0M969 1993h0M911 2085h0M954 2077h0M991 2079h0M956 2135h0M921 2000h0M1020 2022h0M932 1975h0M909 1976h0M995 2000h0M909 2094h0"/>
<path stroke="#dc3397" d="M900 2047h0M915 2080h0M1007 2062h0M911 2050h0M1019 2024h0M949 2047h0M963 1989h0M981 2073h0M988 2021h0M932 2017h0M947 1977h0M977 2048h0M1008 2033h0M951 2066h0M932 2000h0M926 2014h0M954 2130h0M936 2103h0M985 2024h0M941 1991h0M934 1971h0M908 2093h0M900 2098h0M902 1987h0M1006 2027h0M950 2033h0M911 2039h0M983 1981h0M1018 1977h0M914 1981h0M1018 2002h0M1003 2078h0M994 1987h0M905 2109h0M973 2055h0M904 1981h0M942 2003h0M985 2028h0M948 2047h0M929 2115h0M995 2087h0M1009 2056h0M1003 2058h0M1000 1988h0M783 1945h0M937 1991h0M949 2018h0M921 1979h0M1015 1992h0M958 2005h0M974 1993h0M983 2101h0M944 1999h0M943 2099h0M948 1997h0M944 2004h0M1006 2024h0M924 1998h0M925 2023h0M978 2122h0M1015 1967h0M900 2006h0M957 2090h0M980 2105h0M950 2005h0M974 1976h0M906 2030h0M987 2073h0M1000 2072h0M915 2115h0M919 2033h0M964 2004h0M991 1966h0M939 2044h0M1014 2077h0M981 2010h0M986 1983h0M920 2075h0M967 2120h0M928 2080h0"/>
<path stroke="#c4198a" d="M996 2027h0M951 2043h0M1013 2078h0M947 2094h0M993 1971h0M963 2140h0M988 1998h0M949 2085h0M952 2086h0M973 2129h0M995 2002h0M912 2117h0M1013 2055h0M1002 2087h0M957 1987h0M962 2081h0M997 1974h0M972 2002h0M939 2011h0M922 2024h0M1004 1973h0M968 2067h0M969 2053h0M952 2082h0M990 2073h0M955 2131h0M915 2034h0M912 2021h0M978 2027h0M924 2018h0M919 2126h0M915 2027h0M989 2110h0M943 2032h0M904 1988h0M978 2090h0M986 1964h0M958 2030h0M985 2116h0M900 2003h0M906 2079h0M910 2064h0M930 1964h0M930 1964h0M972 2028h0M915 2056h0M945 2024h0M1013 2054h0M916 2051h0M919 2113h0M943 2091h0M998 2090h0M1006 2058h0M957 2072h0M972 1971h0M924 1964h0M996 2039h0M904 2109h0M917 2084h0M985 1962h0M956 1990h0M916 2060h0M905 2033h0M949 2026h0M949 1993h0M989 2045h0M1009 2060h0M998 2059h0M958 2096h0M1012 1992h0M924 2149h0M969 2131h0M955 2076h0M1021 2021h0M907 1961h0M940 1995h0M924 1975h0M999 1965h0"/>
<path stroke="#ad017e" d="M903 1973h0M1018 2010h0M988 1998h0M1016 1995h0M941 2132h0M986 1997h0M997 2044h0M903 2050h0M951 2095h0M925 2117h0M984 2068h0M934 2037h0M925 2060h0M954 1955h0M1017 1977h0M1011 2027h0M940 2147h0M1001 2023h0M949 2004h0M897 2075h0M992 2092h0M949 2036h0M968 2127h0M964 2109h0M980 2036h0M912 2148h0M956 2116h0M973 1979h0M899 2038h0M928 2098h0M948 2145h0M986 2002h0M944 2128h0M1009 2002h0M965 2074h0M924 1992h0M955 2088h0M935 2039h0M978 2021h0M915 1992h0M897 2049h0M930 1986h0M987 1969h0M988 2071h0M1013 1990h0M935 2000h0M993 1988h0M973 1995h0M897 2109h0M907 2118h0M991 1951h0M951 2070h0M998 2003h0M975 2016h0M954 1942h0M1002 2076h0M973 2052h0M1007 1970h0M987 1977h0M919 2032h0M933 2085h0M1001 2051h0M914 2102h0M917 1979h0M977 2023h0M919 1977h0M975 1935h0M939 2056h0M971 2071h0M923 1948h0M940 2137h0M959 1982h0M901 2028h0M919 1956h0M970 2028h0M925 2011h0M983 1952h0M987 2019h0M902 2131h0M933 1982h0M901 2093h0M912 1942h0M992 1940h0M916 1952h0M920 1980h0M990 1944h0M932 2032h0M971 2121h0M913 2135h0M991 1949h0M910 2128h0M906 2049h0M921 2032h0M956 2013h0M1021 2010h0M898 2039h0M990 1946h0M995 2035h0M960 2071h0"/>
<path stroke="#93017a" d="M1004 2038h0M969 1949h0M919 1998h0M939 1979h0M937 2149h0M951 1965h0M925 2030h0M1017 2007h0M967 1959h0M913 1960h0M1000 2096h0M980 2027h0M983 1978h0M994 2073h0M925 1940h0M980 2103h0M986 1991h0M1007 2014h0M953 2033h0M980 2084h0M916 2039h0M916 2012h0M918 2083h0M995 2077h0M991 2072h0M929 2043h0M960 1991h0M1008 2025h0M963 1964h0M902 2096h0M1004 1969h0M968 2113h0M920 1979h0M1007 1974h0M961 1939h0M911 1988h0M978 1950h0M899 2094h0M938 1985h0M927 2116h0M911 2134h0M908 2109h0M1019 1981h0M981 1941h0M970 1956h0M949 2115h0M932 2094h0M966 1957h0M991 1958h0M978 1967h0M967 1966h0M901 2144h0M967 2126h0M961 1931h0M934 2105h0M936 1943h0"/>
<path stroke="#790177" d="M922 1940h0M982 1942h0M819 2081h0M912 1960h0M1019 1974h0M1015 1975h0M907 1958h0M939 2106h0M929 1973h0M898 2140h0M984 1946h0M957 1944h0M972 1934h0M911 1946h0M1019 1981h0M972 1956h0M920 2104h0M926 1965h0M897 2137h0M1008 1976h0M904 1973h0M945 2110h0M904 1953h0M964 1943h0M946 2110h0M898 1866h0M881 1878h0M891 1867h0M893 1871h0M914 1872h0M903 1863h0M992 1941h0M919 2112h0M1015 1974h0"/>
<path stroke="#600070" d="M915 1972h0M905 1973h0M908 1948h0M991 1942h0M939 1964h0M915 2132h0M913 1954h0M990 1951h0M993 1959h0M965 1962h0M963 1960h0M934 2111h0M907 2148h0M904 2112h0M909 2112h0M959 1970h0M999 1955h0M928 1972h0M952 1964h0M951 2134h0M976 1965h0M1011 1969h0M933 1948h0M929 2127h0M937 2123h0M968 1966h0"/>
<path stroke="#49006a" d="M941 2125h0M970 1967h0M972 1946h0M907 2114h0M910 1960h0M938 1952h0M941 2145h0M920 2134h0M948 1958h0M910 2148h0M919 2120h0M954 1934h0M906 1950h0M896 2118h0M908 2131h0M986 1938h0M968 1960h0M943 1936h0M971 1947h0M906 1949h0M905 2134h0M1001 1963h0M963 1946h0M1002 1954h0M940 1961h0M954 1944h0M932 1957h0M938 1938h0M940 2127h0M977 1937h0M996 1940h0M938 2133h0M972 1943h0M1007 1954h0M912 1945h0M962 1954h0M940 1938h0M991 1951h0M960 1933h0M972 1949h0M956 1947h0M998 1956h0M997 1952h0M948 1954h0M954 1935h0M909 1942h0M950 1939h0M1003 1950h0M923 2147h0M939 1957h0M935 2132h0"/>
</g></g></g>
<defs><linearGradient id="rp" x1="0" y1="0" x2="0" y2="1"><stop offset="0.0" stop-color="#49006a"/><stop offset="0.1" stop-color="#6f0174"/><stop offset="0.2" stop-color="#99017b"/><stop offset="0.3" stop-color="#c01588"/><stop offset="0.4" stop-color="#e23e99"/><stop offset="0.5" stop-color="#f767a1"/><stop offset="0.6" stop-color="#f994b1"/><stop offset="0.7" stop-color="#fbb6bc"/><stop offset="0.8" stop-color="#fcd0cc"/><stop offset="0.9" stop-color="#fde5e2"/><stop offset="1.0" stop-color="#fff7f3"/></linearGradient></defs>
<rect x="235.0" y="355.0" width="6.0" height="166.5" fill="url(#rp)" stroke="#222" stroke-width="0.7"/>
<line x1="241.0" y1="355.00" x2="245.00" y2="355.00" stroke="#333" stroke-width="0.7"/>
<text x="248.50" y="357.30" class="sm">0.30</text>
<line x1="241.0" y1="382.75" x2="245.00" y2="382.75" stroke="#333" stroke-width="0.7"/>
<text x="248.50" y="385.05" class="sm">0.25</text>
<line x1="241.0" y1="410.50" x2="245.00" y2="410.50" stroke="#333" stroke-width="0.7"/>
<text x="248.50" y="412.80" class="sm">0.20</text>
<line x1="241.0" y1="438.25" x2="245.00" y2="438.25" stroke="#333" stroke-width="0.7"/>
<text x="248.50" y="440.55" class="sm">0.15</text>
<line x1="241.0" y1="466.00" x2="245.00" y2="466.00" stroke="#333" stroke-width="0.7"/>
<text x="248.50" y="468.30" class="sm">0.10</text>
<line x1="241.0" y1="493.75" x2="245.00" y2="493.75" stroke="#333" stroke-width="0.7"/>
<text x="248.50" y="496.05" class="sm">0.05</text>
<line x1="241.0" y1="521.50" x2="245.00" y2="521.50" stroke="#333" stroke-width="0.7"/>
<text x="248.50" y="523.80" class="sm">0.00</text>
<text x="146.50" y="349.6" text-anchor="middle" class="sm">Regulon(TBX2(+))</text>
<rect x="465.7" y="355.0" width="6.0" height="166.5" fill="url(#rp)" stroke="#222" stroke-width="0.7"/>
<line x1="471.7" y1="355.00" x2="475.70" y2="355.00" stroke="#333" stroke-width="0.7"/>
<text x="479.20" y="357.30" class="sm">0.5</text>
<line x1="471.7" y1="388.30" x2="475.70" y2="388.30" stroke="#333" stroke-width="0.7"/>
<text x="479.20" y="390.60" class="sm">0.4</text>
<line x1="471.7" y1="421.60" x2="475.70" y2="421.60" stroke="#333" stroke-width="0.7"/>
<text x="479.20" y="423.90" class="sm">0.3</text>
<line x1="471.7" y1="454.90" x2="475.70" y2="454.90" stroke="#333" stroke-width="0.7"/>
<text x="479.20" y="457.20" class="sm">0.2</text>
<line x1="471.7" y1="488.20" x2="475.70" y2="488.20" stroke="#333" stroke-width="0.7"/>
<text x="479.20" y="490.50" class="sm">0.1</text>
<line x1="471.7" y1="521.50" x2="475.70" y2="521.50" stroke="#333" stroke-width="0.7"/>
<text x="479.20" y="523.80" class="sm">0.0</text>
<text x="377.20" y="349.6" text-anchor="middle" class="sm">Regulon(HOXD3(+))</text>
<rect x="696.4" y="355.0" width="6.0" height="166.5" fill="url(#rp)" stroke="#222" stroke-width="0.7"/>
<line x1="702.4" y1="355.00" x2="706.40" y2="355.00" stroke="#333" stroke-width="0.7"/>
<text x="709.90" y="357.30" class="sm">0.5</text>
<line x1="702.4" y1="388.30" x2="706.40" y2="388.30" stroke="#333" stroke-width="0.7"/>
<text x="709.90" y="390.60" class="sm">0.4</text>
<line x1="702.4" y1="421.60" x2="706.40" y2="421.60" stroke="#333" stroke-width="0.7"/>
<text x="709.90" y="423.90" class="sm">0.3</text>
<line x1="702.4" y1="454.90" x2="706.40" y2="454.90" stroke="#333" stroke-width="0.7"/>
<text x="709.90" y="457.20" class="sm">0.2</text>
<line x1="702.4" y1="488.20" x2="706.40" y2="488.20" stroke="#333" stroke-width="0.7"/>
<text x="709.90" y="490.50" class="sm">0.1</text>
<line x1="702.4" y1="521.50" x2="706.40" y2="521.50" stroke="#333" stroke-width="0.7"/>
<text x="709.90" y="523.80" class="sm">0.0</text>
<text x="607.90" y="349.6" text-anchor="middle" class="sm">Regulon(HOXA10(+))</text>
<rect x="927.0999999999999" y="355.0" width="6.0" height="166.5" fill="url(#rp)" stroke="#222" stroke-width="0.7"/>
<line x1="933.0999999999999" y1="355.00" x2="937.10" y2="355.00" stroke="#333" stroke-width="0.7"/>
<text x="940.60" y="357.30" class="sm">0.5</text>
<line x1="933.0999999999999" y1="388.30" x2="937.10" y2="388.30" stroke="#333" stroke-width="0.7"/>
<text x="940.60" y="390.60" class="sm">0.4</text>
<line x1="933.0999999999999" y1="421.60" x2="937.10" y2="421.60" stroke="#333" stroke-width="0.7"/>
<text x="940.60" y="423.90" class="sm">0.3</text>
<line x1="933.0999999999999" y1="454.90" x2="937.10" y2="454.90" stroke="#333" stroke-width="0.7"/>
<text x="940.60" y="457.20" class="sm">0.2</text>
<line x1="933.0999999999999" y1="488.20" x2="937.10" y2="488.20" stroke="#333" stroke-width="0.7"/>
<text x="940.60" y="490.50" class="sm">0.1</text>
<line x1="933.0999999999999" y1="521.50" x2="937.10" y2="521.50" stroke="#333" stroke-width="0.7"/>
<text x="940.60" y="523.80" class="sm">0.0</text>
<text x="838.60" y="349.6" text-anchor="middle" class="sm">Regulon(EOMES(+))</text>
<text transform="translate(38.2 318.2) scale(1.087 1)" font-family="'Noto Sans CJK SC',sans-serif" font-size="69" font-weight="400" fill="#c2d6ec" stroke="#a9bbd3" stroke-width="1.4">pyscenic</text>
<text x="360.2" y="321.7" font-family="'Liberation Sans','Noto Sans CJK SC',sans-serif" font-size="78" font-weight="400" fill="#c2d6ec" stroke="#a9bbd3" stroke-width="1.4">单细胞转录因子分析</text>
<text x="340.0" y="318.2" font-family="'Liberation Sans',sans-serif" font-size="73" fill="#c2d6ec" stroke="#a9bbd3" stroke-width="1.4">:</text>
<text transform="translate(35 315) scale(1.087 1)" font-family="'Noto Sans CJK SC',sans-serif" font-size="69" font-weight="400" fill="#fff" stroke="#fff" stroke-width="3.2" stroke-linejoin="round">pyscenic</text>
<text x="357" y="318.5" font-family="'Liberation Sans','Noto Sans CJK SC',sans-serif" font-size="78" font-weight="400" fill="#fff" stroke="#fff" stroke-width="3.2" stroke-linejoin="round">单细胞转录因子分析</text>
<text x="336.8" y="315" font-family="'Liberation Sans',sans-serif" font-size="73" fill="#fff" stroke="#fff" stroke-width="3.2" stroke-linejoin="round">:</text>
<text transform="translate(35 315) scale(1.087 1)" font-family="'Noto Sans CJK SC',sans-serif" font-size="69" font-weight="400" fill="#5898d3" stroke="#5898d3" stroke-width="0.6">pyscenic</text>
<text x="357" y="318.5" font-family="'Liberation Sans','Noto Sans CJK SC',sans-serif" font-size="78" font-weight="400" fill="#5898d3" stroke="#5898d3" stroke-width="0.6">单细胞转录因子分析</text>
<text x="336.8" y="315" font-family="'Liberation Sans',sans-serif" font-size="73" fill="#5898d3" stroke="#5898d3" stroke-width="0.6">:</text>
<g fill="#8c8c8c" fill-opacity="0.8" transform="translate(1.2 1.2)">
<text x="815" y="517" font-family="'Noto Sans CJK SC',sans-serif" font-size="32.5">知乎</text>
<text x="892.5" y="517" font-family="'Liberation Sans',sans-serif" font-size="30.5">@TS</text>
<text x="960.5" y="517" font-family="'Noto Sans CJK SC',sans-serif" font-size="32">的美梦</text>
</g>
<g fill="#fff" fill-opacity="0.9" transform="translate(0 0)">
<text x="815" y="517" font-family="'Noto Sans CJK SC',sans-serif" font-size="32.5">知乎</text>
<text x="892.5" y="517" font-family="'Liberation Sans',sans-serif" font-size="30.5">@TS</text>
<text x="960.5" y="517" font-family="'Noto Sans CJK SC',sans-serif" font-size="32">的美梦</text>
</g>
<g fill="#141414"><rect x="0" y="0" width="1080" height="1.4"/><rect x="0" y="1.4" width="1080" height="1.4" fill="#505050"/><rect x="0" y="0" width="2" height="549"/><rect x="1078.5" y="0" width="1.5" height="549"/><rect x="0" y="547.3" width="1080" height="1.7"/></g>
</svg>
</body></html>
